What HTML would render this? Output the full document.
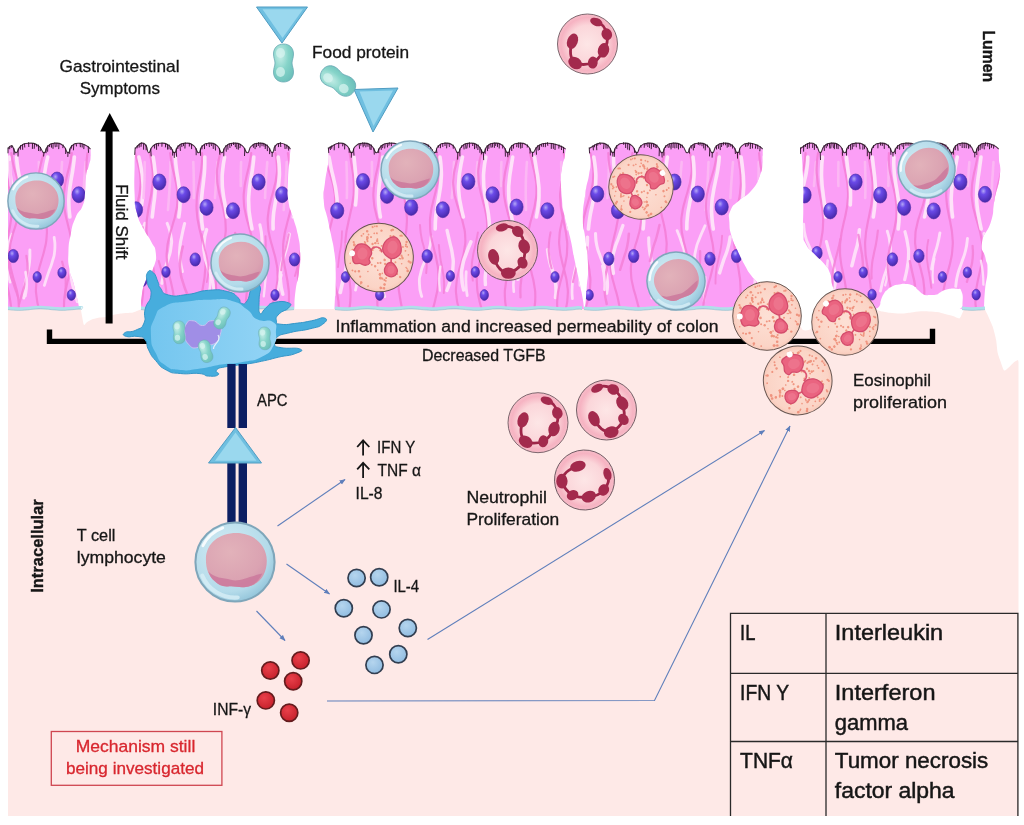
<!DOCTYPE html>
<html><head><meta charset="utf-8"><title>FPIES mechanism diagram</title>
<style>
html,body{margin:0;padding:0;background:#fff;}
body{width:1024px;height:825px;overflow:hidden;font-family:"Liberation Sans",sans-serif;}
svg{display:block;font-family:"Liberation Sans",sans-serif;will-change:transform;-webkit-font-smoothing:antialiased;}
</style></head><body>
<svg width="1024" height="825" viewBox="0 0 1024 825">
<defs><filter id="soft" x="0" y="0" width="100%" height="100%" filterUnits="userSpaceOnUse"><feGaussianBlur stdDeviation="0.6"/></filter>
<radialGradient id="gNuc" cx="38%" cy="30%" r="75%">
 <stop offset="0" stop-color="#b3a6f7"/><stop offset="0.3" stop-color="#6b4ae8"/><stop offset="1" stop-color="#4526a6"/>
</radialGradient>
<radialGradient id="gLy" cx="40%" cy="35%" r="70%">
 <stop offset="0" stop-color="#d3ecf4"/><stop offset="0.75" stop-color="#b4dbea"/><stop offset="1" stop-color="#8fc2d8"/>
</radialGradient>
<radialGradient id="gLyN" cx="40%" cy="35%" r="75%">
 <stop offset="0" stop-color="#e2b2ba"/><stop offset="0.7" stop-color="#dba3b2"/><stop offset="1" stop-color="#d293ab"/>
</radialGradient>
<radialGradient id="gEo" cx="50%" cy="50%" r="55%">
 <stop offset="0" stop-color="#fde0d5"/><stop offset="0.8" stop-color="#fbd4c6"/><stop offset="1" stop-color="#f6c1b0"/>
</radialGradient>
<radialGradient id="gNe" cx="50%" cy="50%" r="52%">
 <stop offset="0" stop-color="#fde6e6"/><stop offset="0.6" stop-color="#fbd6da"/><stop offset="0.85" stop-color="#f6b3c2"/><stop offset="1" stop-color="#f7bfca"/>
</radialGradient>
<radialGradient id="gTeal" cx="35%" cy="30%" r="80%">
 <stop offset="0" stop-color="#c9efe9"/><stop offset="0.5" stop-color="#86d4c9"/><stop offset="1" stop-color="#6bbfba"/>
</radialGradient>
<radialGradient id="gBlueDot" cx="40%" cy="35%" r="70%">
 <stop offset="0" stop-color="#b5d5ee"/><stop offset="1" stop-color="#8fbbe0"/>
</radialGradient>
<radialGradient id="gRedDot" cx="40%" cy="35%" r="70%">
 <stop offset="0" stop-color="#e8404a"/><stop offset="1" stop-color="#c51f2a"/>
</radialGradient>
<linearGradient id="gApc" x1="0" y1="0" x2="1" y2="0"><stop offset="0" stop-color="#74c6ef"/><stop offset="1" stop-color="#93d4f5"/></linearGradient>
<linearGradient id="gTri" x1="0" y1="0" x2="0" y2="1">
 <stop offset="0" stop-color="#a6dcef"/><stop offset="1" stop-color="#7fcbe6"/>
</linearGradient>

<g id="ly">
 <circle r="29" fill="url(#gLy)" stroke="#7fa6ba" stroke-width="1.5"/>
 <path d="M-21.3,-2 C-21.3,-14 -11,-21.2 1,-21.2 C13,-21.2 23.3,-13 23.3,-1 C23.3,9 18,17 8,18.3 C3,19 0,17.5 -4,17.8 C-9,18.5 -12,17 -15,14 C-19.5,10 -21.3,5 -21.3,-2Z" fill="url(#gLyN)"/>
 <path d="M-19.5,7 C-15,12 -9,11.5 -3,13 C3,14.8 9,11 20,8.5 C17.5,14.5 13,17.5 8,18.3 C3,19 0,17.5 -4,17.8 C-9,18.5 -12,17 -15,14 C-17.5,12 -18.8,9.5 -19.5,7Z" fill="#cc7b9d" opacity="0.9"/>
 <path d="M-23.5,-12 A26.5,26.5 0 0 1 -9,-25" fill="none" stroke="#ffffff" stroke-width="2.2" stroke-linecap="round" opacity="0.85"/>
 <path d="M-24,10 A26,26 0 0 0 2,26" fill="none" stroke="#d8eff6" stroke-width="3" stroke-linecap="round" opacity="0.8"/>
</g>

<g id="eo">
 <circle r="34.3" fill="url(#gEo)" stroke="#665550" stroke-width="1"/>
 <g fill="#ee8a74" opacity="0.85"><circle cx="-23.1" cy="7.1" r="1.3"/><circle cx="-22.5" cy="4.9" r="1.1"/><circle cx="9.2" cy="21.2" r="1.1"/><circle cx="2.9" cy="-10.3" r="1.0"/><circle cx="24.3" cy="15.6" r="1.2"/><circle cx="30.6" cy="8.3" r="1.3"/><circle cx="-14.3" cy="-20.8" r="0.9"/><circle cx="23.4" cy="2.2" r="0.8"/><circle cx="6.0" cy="15.1" r="0.8"/><circle cx="-21.0" cy="4.8" r="1.3"/><circle cx="-25.6" cy="-3.1" r="1.1"/><circle cx="-11.4" cy="-18.7" r="1.0"/><circle cx="31.9" cy="-0.5" r="1.3"/><circle cx="-4.8" cy="-17.7" r="0.9"/><circle cx="-2.3" cy="9.3" r="1.2"/><circle cx="-23.9" cy="17.3" r="1.0"/><circle cx="28.5" cy="-7.7" r="0.8"/><circle cx="7.7" cy="29.6" r="1.1"/><circle cx="20.3" cy="-2.5" r="0.8"/><circle cx="-19.5" cy="-20.6" r="0.9"/><circle cx="16.1" cy="9.8" r="1.3"/><circle cx="0.6" cy="-11.8" r="0.9"/><circle cx="7.2" cy="5.3" r="1.2"/><circle cx="10.6" cy="21.7" r="1.0"/><circle cx="10.0" cy="25.6" r="0.9"/><circle cx="-7.3" cy="-9.2" r="1.0"/><circle cx="3.9" cy="16.6" r="1.3"/><circle cx="5.9" cy="-17.0" r="1.3"/><circle cx="5.0" cy="19.8" r="1.3"/><circle cx="-6.9" cy="-8.6" r="1.3"/><circle cx="3.8" cy="16.3" r="1.2"/><circle cx="-8.5" cy="15.7" r="0.8"/><circle cx="20.8" cy="13.2" r="0.9"/><circle cx="-16.0" cy="-11.8" r="1.0"/><circle cx="21.8" cy="-5.7" r="1.1"/><circle cx="9.5" cy="-10.6" r="0.9"/><circle cx="24.3" cy="-15.8" r="0.9"/><circle cx="10.2" cy="25.7" r="1.3"/><circle cx="10.3" cy="29.5" r="1.3"/><circle cx="-16.8" cy="-12.8" r="0.9"/><circle cx="30.5" cy="7.6" r="0.9"/><circle cx="-4.7" cy="-16.0" r="1.3"/><circle cx="-14.6" cy="-10.1" r="0.9"/><circle cx="-1.8" cy="-9.3" r="0.9"/><circle cx="-27.6" cy="-10.8" r="1.1"/><circle cx="-5.8" cy="30.1" r="0.9"/><circle cx="17.0" cy="1.8" r="1.0"/><circle cx="13.0" cy="5.2" r="1.0"/><circle cx="-11.1" cy="-5.4" r="1.0"/><circle cx="24.5" cy="-20.1" r="1.2"/><circle cx="-8.9" cy="-23.0" r="0.9"/><circle cx="6.0" cy="1.4" r="1.3"/><circle cx="-9.5" cy="-29.9" r="0.8"/><circle cx="-14.7" cy="-17.0" r="1.2"/><circle cx="-13.4" cy="29.0" r="0.8"/><circle cx="-26.4" cy="-7.9" r="1.3"/><circle cx="-2.2" cy="-26.9" r="1.2"/><circle cx="16.6" cy="-9.8" r="1.2"/><circle cx="24.3" cy="-17.5" r="1.0"/><circle cx="7.5" cy="-28.8" r="1.1"/><circle cx="-14.2" cy="-14.2" r="1.1"/><circle cx="-7.8" cy="-6.3" r="1.2"/><circle cx="30.0" cy="-1.3" r="1.2"/><circle cx="-21.0" cy="17.8" r="1.1"/><circle cx="-27.3" cy="10.7" r="0.8"/><circle cx="0.0" cy="-7.1" r="1.1"/><circle cx="-15.7" cy="1.9" r="1.2"/><circle cx="-25.2" cy="0.4" r="1.3"/><circle cx="-0.2" cy="5.6" r="1.0"/><circle cx="-6.5" cy="-13.5" r="0.9"/><circle cx="21.7" cy="-14.6" r="1.0"/><circle cx="14.5" cy="-11.7" r="1.2"/><circle cx="6.8" cy="20.2" r="1.2"/><circle cx="25.8" cy="-15.4" r="1.0"/><circle cx="-15.9" cy="-9.2" r="0.9"/><circle cx="-29.3" cy="0.7" r="1.3"/><circle cx="-7.5" cy="-30.3" r="1.0"/><circle cx="10.6" cy="19.0" r="1.0"/><circle cx="4.7" cy="20.3" r="1.1"/><circle cx="-18.3" cy="0.7" r="1.3"/><circle cx="21.6" cy="-2.5" r="0.8"/><circle cx="29.4" cy="5.9" r="0.8"/><circle cx="-6.3" cy="-23.5" r="1.0"/><circle cx="1.6" cy="-6.1" r="0.9"/><circle cx="-6.5" cy="1.9" r="1.3"/><circle cx="1.0" cy="12.7" r="0.8"/><circle cx="-14.9" cy="-15.7" r="1.1"/><circle cx="-16.2" cy="-23.8" r="1.3"/><circle cx="-5.9" cy="-13.6" r="1.1"/><circle cx="2.4" cy="5.0" r="1.1"/><circle cx="-3.2" cy="-13.8" r="0.9"/><circle cx="-15.2" cy="22.1" r="1.1"/><circle cx="-21.0" cy="-18.4" r="1.0"/><circle cx="7.9" cy="-29.4" r="0.8"/><circle cx="24.9" cy="-11.2" r="0.9"/><circle cx="-24.4" cy="7.3" r="1.3"/><circle cx="-17.4" cy="17.0" r="1.3"/><circle cx="9.0" cy="-29.8" r="1.1"/><circle cx="-8.7" cy="-12.2" r="1.2"/><circle cx="10.7" cy="-23.4" r="1.2"/><circle cx="6.9" cy="29.6" r="1.3"/><circle cx="23.4" cy="-3.4" r="1.2"/><circle cx="-13.1" cy="27.6" r="1.3"/><circle cx="-5.9" cy="8.3" r="1.0"/><circle cx="-26.7" cy="-8.7" r="1.1"/><circle cx="28.4" cy="5.1" r="0.8"/><circle cx="4.3" cy="-13.2" r="1.0"/><circle cx="3.0" cy="-12.3" r="0.9"/><circle cx="-27.2" cy="-2.8" r="1.3"/><circle cx="-11.6" cy="-28.9" r="1.1"/><circle cx="9.8" cy="-3.2" r="0.9"/><circle cx="-17.4" cy="-2.9" r="1.2"/><circle cx="-15.0" cy="-17.9" r="1.3"/><circle cx="-17.0" cy="-6.7" r="1.0"/><circle cx="17.1" cy="-25.1" r="0.9"/><circle cx="18.6" cy="-25.4" r="1.1"/><circle cx="-13.4" cy="-6.6" r="1.1"/><circle cx="-25.1" cy="-0.5" r="0.8"/><circle cx="22.8" cy="-4.4" r="1.0"/><circle cx="7.6" cy="-23.0" r="1.1"/></g>
 <path d="M-10,-4 C-8,-11 -1,-12 2,-6 M12,-2 L13,4" fill="none" stroke="#dd5572" stroke-width="1.7"/>
 <g fill="#ea6480" stroke="#d44d6c" stroke-width="1.3" stroke-linejoin="round">
  <path d="M-26.0,-3.0 C-25.4,-5.6 -24.6,-7.6 -23.0,-9.0 C-21.4,-10.4 -19.2,-10.7 -17.0,-10.5 C-14.8,-10.3 -12.7,-9.4 -11.0,-8.0 C-9.3,-6.6 -8.3,-5.0 -8.0,-3.0 C-7.7,-1.0 -9.5,1.2 -9.5,3.0 C-9.5,4.8 -7.5,5.7 -8.0,7.0 C-8.5,8.3 -10.2,9.6 -12.0,10.0 C-13.8,10.4 -16.0,9.2 -18.0,9.2 C-20.0,9.2 -21.5,10.8 -23.0,10.0 C-24.5,9.2 -25.4,7.4 -26.0,5.0 C-26.6,2.6 -26.6,-0.4 -26.0,-3.0Z"/>
  <path d="M2.0,-10.0 C1.9,-11.8 2.1,-14.0 3.0,-16.0 C3.9,-18.0 5.3,-19.7 7.0,-21.0 C8.7,-22.3 10.2,-23.2 12.0,-23.0 C13.8,-22.8 15.5,-21.6 17.0,-20.0 C18.5,-18.4 19.4,-16.2 20.0,-14.0 C20.6,-11.8 21.1,-10.0 20.5,-8.0 C19.9,-6.0 18.6,-4.3 17.0,-3.0 C15.4,-1.7 13.8,-1.0 12.0,-1.0 C10.2,-1.0 8.6,-2.1 7.0,-3.0 C5.4,-3.9 4.4,-4.7 3.5,-6.0 C2.6,-7.3 2.1,-8.2 2.0,-10.0Z"/>
  <path d="M8.0,8.0 C8.5,6.7 8.9,4.9 10.0,4.0 C11.1,3.1 12.5,2.6 14.0,3.0 C15.5,3.4 16.8,4.7 18.0,6.0 C19.2,7.3 20.3,8.3 20.5,10.0 C20.7,11.7 20.2,13.7 19.0,15.0 C17.8,16.3 15.8,17.0 14.0,17.0 C12.2,17.0 10.2,16.1 9.0,15.0 C7.8,13.9 7.7,12.3 7.5,11.0 C7.3,9.7 7.5,9.3 8.0,8.0Z"/>
 </g>
 <g fill="#ef7a92" opacity="0.7">
  <ellipse cx="-17" cy="-1" rx="5" ry="6"/><ellipse cx="11.5" cy="-12.5" rx="5" ry="6.5"/><ellipse cx="14" cy="10" rx="3.5" ry="4"/>
 </g>
 <circle cx="-27.3" cy="0.5" r="3" fill="#fff"/>
</g>

<g id="ne">
 <circle r="30" fill="url(#gNe)" stroke="#6e5a62" stroke-width="0.9"/>
 <path d="M8.8,-22 C14,-21 18,-16 19.5,-9.7 C21,-3 19,2 16.2,6.5 C13,12 9,17 5.3,18.8 C-1,21 -7,21 -12.3,19 C-18,14 -18,6 -15,-2.7" fill="none" stroke="#9e2548" stroke-width="2.8" stroke-linecap="round"/>
 <g fill="#a32a4d">
  <ellipse cx="8.8" cy="-22" rx="6.4" ry="3.9" transform="rotate(20 8.8 -22)"/>
  <ellipse cx="19.3" cy="-9.7" rx="5.2" ry="6" transform="rotate(-20 19.3 -9.7)"/>
  <ellipse cx="16" cy="6.3" rx="5.6" ry="7.4" transform="rotate(15 16 6.3)"/>
  <ellipse cx="5.3" cy="18.6" rx="4.9" ry="6" transform="rotate(10 5.3 18.6)"/>
  <ellipse cx="-12.3" cy="19" rx="7.4" ry="5.7" transform="rotate(35 -12.3 19)"/>
  <ellipse cx="-15" cy="-2.7" rx="5.3" ry="8" transform="rotate(20 -15 -2.7)"/>
 </g>
</g>

<g id="pn">
 <path d="M0,-19 C6,-19 10,-15 10,-9 C10,-5 8.5,-3 8.5,0 C8.5,3 10,5 10,9 C10,15 6,19 0,19 C-6,19 -10,15 -10,9 C-10,5 -8.5,3 -8.5,0 C-8.5,-3 -10,-5 -10,-9 C-10,-15 -6,-19 0,-19Z" fill="url(#gTeal)" stroke="#6aa9b4" stroke-width="0.8"/>
 <ellipse cx="-3" cy="-10" rx="4.5" ry="5" fill="#d6f3ef" opacity="0.75"/>
 <ellipse cx="-3" cy="9" rx="4.5" ry="5" fill="#d6f3ef" opacity="0.75"/>
</g>
<clipPath id="epiclip"><path d="M8.0,309.0 L8.0,148.5 L8.0,148.5 C9.1,147.8 9.9,144.9 12.0,146.0 C14.1,147.1 13.7,152.7 16.0,152.8 C18.3,152.9 17.1,148.8 20.5,146.2 C23.8,143.6 23.8,143.4 28.6,143.2 C33.4,143.0 34.3,143.0 38.4,145.6 C42.5,148.2 41.5,152.6 44.0,152.8 C46.5,153.0 45.0,148.8 47.8,146.2 C50.7,143.6 50.7,143.4 54.8,143.2 C58.9,143.0 59.7,143.0 63.2,145.6 C66.7,148.2 65.8,152.6 68.0,152.8 C70.2,153.0 68.9,148.8 71.6,146.2 C74.3,143.6 74.3,143.4 78.1,143.2 C82.0,143.0 82.7,144.1 86.0,145.6 C89.3,147.1 89.3,148.1 90.5,149.0 L90.8,158.6 C90.1,161.1 89.9,162.1 88.5,167.0 C87.1,171.9 87.2,166.9 86.1,175.0 C85.0,183.1 86.0,184.7 84.9,194.0 C83.8,203.3 85.3,198.9 82.5,206.0 C79.7,213.1 79.0,209.2 75.5,217.7 C72.0,226.2 72.8,223.7 70.7,234.3 C68.6,244.9 68.8,242.4 68.4,253.0 C68.0,263.6 68.1,261.1 69.5,269.7 C70.9,278.3 71.0,273.8 73.1,281.6 C75.2,289.4 74.7,287.6 76.6,295.8 C78.5,304.0 78.6,305.0 79.5,309.0Z"/><path d="M141.7,309.0 C141.7,305.0 140.3,304.8 141.7,295.8 C143.1,286.8 142.9,287.5 146.4,279.0 C149.9,270.5 150.7,275.2 153.5,267.4 C156.3,259.6 156.5,260.8 155.8,253.0 C155.1,245.2 154.6,248.4 151.1,241.4 C147.6,234.4 148.3,238.1 144.0,229.6 C139.7,221.1 139.7,223.7 136.9,213.0 C134.1,202.3 135.3,208.2 134.6,194.0 C133.9,179.8 134.5,177.7 134.6,165.7 C134.7,153.7 134.9,157.5 135.0,154.0 L135.2,148.5 C135.8,147.9 135.7,147.6 137.4,146.2 C139.0,144.8 139.0,143.4 141.3,143.2 C143.6,143.0 144.0,143.0 146.0,145.6 C148.0,148.2 146.9,152.6 148.7,152.8 C150.5,153.0 149.7,148.8 152.8,146.2 C155.9,143.6 155.9,143.4 160.2,143.2 C164.6,143.0 165.4,143.0 169.2,145.6 C172.9,148.2 171.9,152.6 174.3,152.8 C176.7,153.0 175.3,148.8 178.2,146.2 C181.1,143.6 181.1,143.4 185.2,143.2 C189.3,143.0 190.1,143.0 193.7,145.6 C197.2,148.2 196.2,152.6 198.5,152.8 C200.8,153.0 199.4,148.8 202.2,146.2 C205.0,143.6 205.0,143.4 209.0,143.2 C213.0,143.0 213.7,143.0 217.1,145.6 C220.6,148.2 219.5,152.6 221.8,152.8 C224.1,153.0 222.8,148.8 225.9,146.2 C228.9,143.6 228.9,143.4 233.3,143.2 C237.6,143.0 238.5,143.0 242.2,145.6 C245.9,148.2 244.9,152.6 247.3,152.8 C249.7,153.0 248.3,148.8 251.3,146.2 C254.3,143.6 254.3,143.4 258.5,143.2 C262.8,143.0 263.6,143.0 267.2,145.6 C270.9,148.2 270.1,152.6 272.2,152.8 C274.3,153.0 272.9,148.8 275.1,146.2 C277.3,143.6 277.3,143.4 280.4,143.2 C283.6,143.0 284.2,144.1 286.8,145.6 C289.5,147.1 289.5,148.1 290.5,149.0 L289.6,158.6 C289.1,165.7 288.3,169.5 287.9,182.3 C287.5,195.1 286.8,190.6 288.4,201.2 C290.0,211.8 290.3,207.8 293.1,217.7 C295.9,227.6 295.7,223.7 297.8,234.3 C299.9,245.0 299.8,241.9 300.2,253.2 C300.6,264.5 300.4,260.7 299.0,272.0 C297.6,283.3 296.9,279.9 295.5,291.0 C294.1,302.1 294.7,303.6 294.3,309.0Z"/><path d="M334.5,309.0 C334.7,303.6 334.8,302.1 335.2,291.0 C335.6,279.9 335.9,283.3 335.7,272.0 C335.5,260.7 335.9,264.5 334.5,253.2 C333.1,241.9 333.0,245.0 330.9,234.3 C328.8,223.7 329.5,227.6 327.4,217.7 C325.3,207.8 324.5,211.8 323.8,201.2 C323.1,190.6 323.7,193.6 325.0,182.3 C326.3,171.0 327.1,172.2 328.1,163.4 C329.2,154.6 328.4,156.1 328.5,153.0 L328.3,148.5 C329.3,147.9 329.2,147.6 332.0,146.2 C334.8,144.8 334.8,143.4 338.7,143.2 C342.7,143.0 343.5,143.0 346.9,145.6 C350.3,148.2 349.2,152.6 351.5,152.8 C353.8,153.0 352.5,148.8 355.5,146.2 C358.5,143.6 358.5,143.4 362.7,143.2 C367.0,143.0 367.8,143.0 371.4,145.6 C375.1,148.2 373.9,152.6 376.4,152.8 C378.9,153.0 377.5,148.8 381.0,146.2 C384.4,143.6 384.4,143.4 389.3,143.2 C394.2,143.0 395.1,143.0 399.3,145.6 C403.5,148.2 402.2,152.6 405.0,152.8 C407.8,153.0 406.2,148.8 409.7,146.2 C413.3,143.6 413.2,143.4 418.3,143.2 C423.3,143.0 424.3,143.0 428.6,145.6 C432.9,148.2 431.9,152.6 434.5,152.8 C437.1,153.0 435.4,148.8 438.2,146.2 C441.0,143.6 441.0,143.4 445.0,143.2 C449.0,143.0 449.7,143.0 453.1,145.6 C456.6,148.2 455.5,152.6 457.8,152.8 C460.1,153.0 458.8,148.8 461.9,146.2 C464.9,143.6 464.9,143.4 469.3,143.2 C473.6,143.0 474.5,143.0 478.2,145.6 C481.9,148.2 480.9,152.6 483.3,152.8 C485.7,153.0 484.3,148.8 487.2,146.2 C490.1,143.6 490.1,143.4 494.2,143.2 C498.4,143.0 499.2,143.0 502.7,145.6 C506.3,148.2 505.2,152.6 507.6,152.8 C510.0,153.0 508.6,148.8 511.6,146.2 C514.6,143.6 514.6,143.4 518.8,143.2 C523.1,143.0 523.9,143.0 527.5,145.6 C531.2,148.2 529.8,152.6 532.5,152.8 C535.2,153.0 533.8,148.8 537.8,146.2 C541.8,143.6 541.8,143.4 547.4,143.2 C553.1,143.0 554.2,144.1 559.1,145.6 C563.9,147.1 563.9,148.1 565.7,149.0 L564.5,158.0 C563.8,161.0 563.0,161.1 562.0,168.0 C561.0,174.9 561.0,171.4 561.0,181.0 C561.0,190.6 561.1,190.1 562.0,200.0 C562.9,209.9 561.6,202.9 564.0,214.0 C566.4,225.1 566.7,222.6 570.0,237.0 C573.3,251.4 571.5,245.3 575.0,262.0 C578.5,278.6 578.9,278.4 581.6,292.5 C584.3,306.6 583.3,304.1 584.0,309.0Z"/><path d="M585.0,309.0 C585.5,302.5 585.8,300.7 586.7,287.4 C587.6,274.1 588.4,279.1 588.0,264.6 C587.6,250.1 586.9,252.7 585.4,239.0 C583.9,225.3 582.9,232.7 582.9,219.0 C582.9,205.3 583.6,206.7 585.4,193.5 C587.2,180.3 587.5,184.2 589.0,175.0 C590.5,165.8 590.4,169.6 590.5,163.0 C590.6,156.4 589.8,156.0 589.5,153.0 L589.2,148.5 C590.2,147.9 590.1,147.6 593.0,146.2 C595.8,144.8 595.8,143.4 599.8,143.2 C603.8,143.0 604.6,143.0 608.1,145.6 C611.5,148.2 610.5,152.6 612.8,152.8 C615.1,153.0 613.8,148.8 616.6,146.2 C619.5,143.6 619.5,143.4 623.6,143.2 C627.6,143.0 628.4,143.0 631.9,145.6 C635.4,148.2 634.4,152.6 636.7,152.8 C639.0,153.0 637.7,148.8 640.7,146.2 C643.8,143.6 643.7,143.4 648.0,143.2 C652.3,143.0 653.2,143.0 656.9,145.6 C660.6,148.2 659.5,152.6 661.9,152.8 C664.3,153.0 662.9,148.8 665.9,146.2 C669.0,143.6 668.9,143.4 673.2,143.2 C677.5,143.0 678.4,143.0 682.1,145.6 C685.8,148.2 684.7,152.6 687.1,152.8 C689.5,153.0 688.1,148.8 691.1,146.2 C694.2,143.6 694.1,143.4 698.4,143.2 C702.7,143.0 703.6,143.0 707.3,145.6 C711.0,148.2 709.9,152.6 712.3,152.8 C714.7,153.0 713.3,148.8 716.3,146.2 C719.4,143.6 719.3,143.4 723.6,143.2 C727.9,143.0 728.8,143.0 732.5,145.6 C736.2,148.2 735.1,152.6 737.5,152.8 C739.9,153.0 738.5,148.8 741.5,146.2 C744.6,143.6 744.5,143.4 748.8,143.2 C753.1,143.0 754.0,144.1 757.7,145.6 C761.4,147.1 761.4,148.1 762.7,149.0 L762.8,161.7 C761.9,166.0 763.2,167.5 759.7,176.2 C756.2,184.9 757.4,183.5 751.2,190.8 C745.0,198.1 745.3,194.7 739.1,200.5 C732.9,206.3 733.5,203.7 730.6,210.2 C727.7,216.7 729.0,214.3 729.4,222.3 C729.8,230.3 729.2,228.1 731.8,236.8 C734.3,245.5 733.9,242.7 737.9,251.4 C741.9,260.1 741.2,258.6 745.2,265.9 C749.2,273.2 747.6,270.5 751.2,275.6 C754.8,280.7 753.2,276.8 757.3,282.9 C761.4,289.0 760.9,288.2 765.0,296.0 C769.1,303.8 769.2,305.1 771.0,309.0Z"/><path d="M850.0,309.0 C847.6,306.0 846.2,303.9 842.0,299.0 C837.8,294.1 839.0,296.7 836.1,292.6 C833.2,288.5 834.2,291.1 832.4,285.3 C830.6,279.5 832.5,279.7 830.0,273.2 C827.5,266.7 828.6,269.3 823.9,263.5 C819.2,257.7 819.6,259.6 814.2,253.8 C808.8,248.0 809.1,250.6 805.8,244.1 C802.5,237.6 804.0,242.9 803.3,232.0 C802.5,221.1 803.3,222.2 803.3,207.7 C803.3,193.1 803.7,198.1 803.3,183.5 C802.9,168.9 802.7,168.6 802.1,159.2 C801.5,149.8 801.5,154.2 801.2,152.0 L800.5,148.5 C801.3,147.9 801.3,147.6 803.7,146.2 C806.0,144.8 806.0,143.4 809.4,143.2 C812.7,143.0 813.4,143.0 816.3,145.6 C819.1,148.2 818.1,152.6 820.2,152.8 C822.3,153.0 821.2,148.8 824.1,146.2 C827.0,143.6 827.0,143.4 831.2,143.2 C835.3,143.0 836.1,143.0 839.7,145.6 C843.3,148.2 842.2,152.6 844.6,152.8 C847.0,153.0 845.6,148.8 848.6,146.2 C851.7,143.6 851.6,143.4 855.9,143.2 C860.2,143.0 861.1,143.0 864.8,145.6 C868.5,148.2 867.5,152.6 869.8,152.8 C872.1,153.0 870.7,148.8 873.5,146.2 C876.3,143.6 876.3,143.4 880.2,143.2 C884.1,143.0 884.9,143.0 888.3,145.6 C891.7,148.2 890.4,152.6 892.9,152.8 C895.4,153.0 894.1,148.8 897.6,146.2 C901.0,143.6 901.0,143.4 906.0,143.2 C911.0,143.0 911.9,143.0 916.2,145.6 C920.4,148.2 919.2,152.6 922.0,152.8 C924.8,153.0 923.2,148.8 926.8,146.2 C930.3,143.6 930.3,143.4 935.4,143.2 C940.4,143.0 941.4,143.0 945.8,145.6 C950.1,148.2 949.1,152.6 951.7,152.8 C954.3,153.0 952.6,148.8 955.4,146.2 C958.2,143.6 958.2,143.4 962.1,143.2 C966.0,143.0 966.8,143.0 970.2,145.6 C973.6,148.2 972.5,152.6 974.8,152.8 C977.1,153.0 975.8,148.8 978.6,146.2 C981.5,143.6 981.5,143.4 985.6,143.2 C989.6,143.0 990.4,144.1 993.9,145.6 C997.4,147.1 997.4,148.1 998.7,149.0 L999.0,160.0 C999.2,164.8 1001.1,164.0 999.8,176.0 C998.4,188.0 997.1,186.3 994.5,200.0 C991.9,213.7 994.8,208.8 991.0,221.5 C987.2,234.2 983.6,231.6 982.0,242.5 C980.4,253.4 983.9,249.6 985.5,258.0 C987.1,266.4 987.6,260.9 987.5,270.5 C987.4,280.1 986.0,278.4 985.0,290.0 C984.0,301.6 984.3,303.3 984.0,309.0 C977.5,309.0 969.0,310.3 962.5,309.0 C956.0,307.7 962.7,309.9 962.5,304.8 C962.3,299.7 963.7,296.8 961.7,292.0 C959.8,287.2 960.6,289.5 956.0,288.8 C951.4,288.1 951.3,288.5 946.5,289.6 C941.7,290.7 942.9,291.1 940.0,292.5 C937.1,293.9 939.9,293.6 936.9,294.4 C933.9,295.1 933.9,295.0 930.0,295.0 C926.1,295.0 927.6,295.9 924.0,294.4 C920.4,292.9 920.9,292.4 918.0,290.0 C915.1,287.6 918.0,288.2 914.5,286.4 C911.0,284.6 911.0,284.6 906.4,284.0 C901.8,283.4 903.3,283.8 899.0,284.5 C894.7,285.2 895.6,284.8 892.0,286.4 C888.4,288.0 889.4,287.8 887.0,290.0 C884.6,292.2 885.8,290.6 884.0,293.6 C882.2,296.6 882.4,296.2 881.0,300.0 C879.6,303.8 881.3,303.7 879.2,306.4 C877.1,309.1 875.6,308.2 874.0,309.0Z"/></clipPath><marker id="ah" viewBox="0 0 10 10" refX="9" refY="5" markerWidth="5.5" markerHeight="5.5" orient="auto"><path d="M0,1 L10,5 L0,9Z" fill="#5f7fbb"/></marker></defs>
<rect width="1024" height="825" fill="#fff"/>
<rect x="8" y="309" width="1010.5" height="507" fill="#fee9e7"/>
<path d="M79.0,303.0 C79.2,303.9 80.2,306.5 80.6,308.0 C80.9,309.5 81.6,314.0 82.0,316.0 C82.4,318.0 83.4,324.1 83.9,324.9 C84.4,325.7 85.5,323.4 86.0,323.0 C86.5,322.6 87.2,322.0 88.0,321.5 C88.8,321.0 91.6,319.5 93.0,319.0 C94.4,318.5 98.1,317.6 99.7,317.4 C101.3,317.2 104.7,317.2 106.3,316.9 C107.9,316.6 111.1,315.3 113.0,314.9 C114.9,314.5 120.7,313.5 123.0,313.2 C125.3,312.9 131.0,312.8 132.9,312.4 C134.8,312.0 138.0,310.5 139.5,309.9 C141.0,309.3 145.2,308.2 146.0,307.0 C146.8,305.8 153.8,300.8 146.0,300.0 C138.2,299.2 86.8,299.6 79.0,300.0 C71.2,300.4 78.8,302.1 79.0,303.0Z" fill="#fff"/>
<path d="M755.0,305.0 C756.2,305.6 793.4,305.0 800.0,305.0 C806.6,305.0 810.4,303.5 812.0,305.0 C813.6,306.5 814.1,315.2 814.0,318.0 C813.9,320.8 812.3,327.6 811.0,329.0 C809.7,330.4 804.4,330.8 803.0,330.0 C801.6,329.2 800.5,325.5 799.0,322.0 C797.5,318.5 795.1,302.0 790.0,300.0 C784.9,298.0 753.8,304.4 755.0,305.0Z" fill="#fff"/>
<path d="M983.0,303.0 C978.9,304.1 984.3,308.1 984.9,309.6 C985.5,311.1 987.2,313.9 988.1,316.0 C989.0,318.1 992.0,324.5 992.9,327.3 C993.8,330.1 995.5,337.0 996.1,340.0 C996.7,343.0 997.1,350.3 997.7,352.9 C998.3,355.5 1000.2,360.4 1000.9,362.5 C1001.6,364.6 1003.2,369.9 1004.1,370.5 C1005.0,371.1 1007.9,368.2 1009.0,367.3 C1010.1,366.4 1012.7,363.3 1013.7,362.5 C1014.7,361.7 1017.0,360.5 1017.7,360.1 C1018.4,359.7 1019.7,366.0 1020.0,359.0 C1020.3,352.0 1024.3,306.5 1020.0,300.0 C1015.7,293.5 987.1,301.9 983.0,303.0Z" fill="#fff"/>
<path d="M872.0,300.0 C872.5,301.6 875.0,307.7 876.0,309.0 C877.0,310.3 879.2,310.8 880.8,311.2 C882.4,311.6 887.8,312.5 890.0,312.8 C892.2,313.1 897.5,313.6 900.0,313.6 C902.5,313.6 908.6,312.7 911.0,312.4 C913.4,312.1 917.9,311.2 920.9,311.2 C923.9,311.2 934.1,311.7 936.9,312.0 C939.7,312.3 943.1,313.5 945.0,314.0 C946.9,314.5 951.2,315.5 952.9,316.0 C954.6,316.5 958.3,318.6 959.3,318.4 C960.3,318.2 961.2,315.6 961.7,314.5 C962.2,313.4 963.5,310.7 964.0,309.0 C964.5,307.3 965.8,301.6 966.0,300.0 C966.2,298.4 977.0,295.6 966.0,295.0 C955.0,294.4 883.0,294.4 872.0,295.0 C861.0,295.6 871.5,298.4 872.0,300.0Z" fill="#fff"/>
<g clip-path="url(#epiclip)"><rect x="0" y="135" width="1024" height="180" fill="#fb9ff6"/><g filter="url(#soft)"><path d="M-19.2,153.0 C-19.2,157.0 -19.7,157.0 -19.2,165.0 C-18.7,173.0 -19.0,169.0 -17.7,177.0 C-16.4,185.0 -16.8,181.0 -15.4,189.0 C-13.9,197.0 -14.3,193.0 -13.3,201.0 C-12.3,209.0 -12.4,205.0 -12.4,213.0 C-12.3,221.0 -12.2,217.0 -13.1,225.0 C-14.0,233.0 -13.7,229.0 -15.1,237.0 C-16.5,245.0 -16.1,241.0 -17.4,249.0 C-18.7,257.0 -18.4,253.0 -18.9,261.0 C-19.4,269.0 -19.4,265.0 -18.9,273.0 C-18.4,281.0 -18.6,277.0 -17.3,285.0 C-16.0,293.0 -16.5,289.0 -15.0,297.0 C-13.5,305.0 -13.6,305.0 -12.9,309.0" fill="none" stroke="#f480d8" stroke-width="2.2" stroke-linecap="round" opacity="0.9"/><path d="M-14.4,157.0 C-14.4,161.0 -14.8,161.0 -14.4,169.0 C-14.1,177.0 -14.3,173.0 -13.4,181.0 C-12.5,189.0 -12.8,185.0 -11.7,193.0 C-10.7,201.0 -10.9,197.0 -10.2,205.0 C-9.5,213.0 -9.8,213.0 -9.6,217.0" fill="none" stroke="#fee2f9" stroke-width="3.6" stroke-linecap="round" opacity="1"/><path d="M2.0,162.0 C2.1,166.0 2.1,166.0 2.3,174.0 C2.5,182.0 2.5,178.0 2.7,186.0 C3.0,194.0 2.9,190.0 3.1,198.0 C3.2,206.0 3.2,206.0 3.2,210.0" fill="none" stroke="#fcb9f4" stroke-width="2.6" stroke-linecap="round" opacity="0.9"/><path d="M3.0,229.5 C2.2,233.5 2.0,233.5 0.6,241.5 C-0.8,249.5 -0.6,245.5 -1.2,253.5 C-1.7,261.5 -1.9,257.5 -1.0,265.5 C-0.1,273.5 0.6,273.5 1.4,277.5" fill="none" stroke="#fee2f9" stroke-width="3.5" stroke-linecap="round" opacity="0.95"/><path d="M-7.2,236.7 C-6.4,240.7 -6.3,240.7 -4.9,248.7 C-3.4,256.7 -3.5,252.7 -2.7,260.7 C-2.0,268.7 -2.6,268.7 -2.6,272.7" fill="none" stroke="#f480d8" stroke-width="2.4" stroke-linecap="round" opacity="0.85"/><path d="M-7.8,260.7 C-8.3,264.7 -8.2,264.7 -9.3,272.7 C-10.4,280.7 -10.5,280.7 -11.1,284.7" fill="none" stroke="#fee2f9" stroke-width="2.1" stroke-linecap="round" opacity="0.9"/><path d="M4.5,153.0 C4.7,157.0 4.2,157.0 5.0,165.0 C5.9,173.0 5.5,169.0 7.0,177.0 C8.5,185.0 8.0,181.0 9.4,189.0 C10.8,197.0 10.5,193.0 11.2,201.0 C11.9,209.0 11.8,205.0 11.5,213.0 C11.1,221.0 11.4,217.0 10.2,225.0 C8.9,233.0 9.3,229.0 7.8,237.0 C6.3,245.0 6.7,241.0 5.6,249.0 C4.5,257.0 4.7,253.0 4.6,261.0 C4.4,269.0 4.3,265.0 5.2,273.0 C6.0,281.0 5.7,277.0 7.1,285.0 C8.6,293.0 8.2,289.0 9.6,297.0 C11.0,305.0 10.7,305.0 11.3,309.0" fill="none" stroke="#f480d8" stroke-width="2.2" stroke-linecap="round" opacity="0.9"/><path d="M9.3,157.0 C9.5,161.0 9.1,161.0 9.7,169.0 C10.3,177.0 10.1,173.0 11.1,181.0 C12.1,189.0 11.8,185.0 12.8,193.0 C13.8,201.0 13.6,201.0 14.1,205.0" fill="none" stroke="#fee2f9" stroke-width="3.6" stroke-linecap="round" opacity="1"/><path d="M10.2,162.0 C10.3,166.0 10.3,166.0 10.5,174.0 C10.6,182.0 10.7,182.0 10.7,186.0" fill="none" stroke="#fcb9f4" stroke-width="2.6" stroke-linecap="round" opacity="0.9"/><path d="M12.0,234.2 C10.7,238.2 10.0,238.2 8.2,246.2 C6.3,254.2 6.7,250.2 6.4,258.2 C6.1,266.2 6.1,262.2 7.4,270.2 C8.6,278.2 9.2,278.2 10.1,282.2" fill="none" stroke="#fee2f9" stroke-width="2.8" stroke-linecap="round" opacity="0.95"/><path d="M10.3,248.6 C9.8,252.6 8.8,252.6 8.7,260.6 C8.7,268.6 8.4,264.6 10.0,272.6 C11.6,280.6 11.0,276.6 13.7,284.6 C16.3,292.6 16.5,292.6 17.9,296.6" fill="none" stroke="#f480d8" stroke-width="2.0" stroke-linecap="round" opacity="0.85"/><path d="M11.3,153.0 C12.0,157.0 11.6,157.0 13.4,165.0 C15.2,173.0 14.7,169.0 16.7,177.0 C18.7,185.0 18.3,181.0 19.5,189.0 C20.7,197.0 20.6,193.0 20.4,201.0 C20.2,209.0 20.5,205.0 18.9,213.0 C17.3,221.0 18.0,217.0 15.7,225.0 C13.4,233.0 14.0,229.0 12.1,237.0 C10.1,245.0 10.5,241.0 9.8,249.0 C9.0,257.0 9.0,253.0 9.8,261.0 C10.5,269.0 10.1,265.0 12.0,273.0 C13.8,281.0 13.2,277.0 15.3,285.0 C17.3,293.0 16.8,289.0 18.0,297.0 C19.2,305.0 18.6,305.0 18.9,309.0" fill="none" stroke="#f480d8" stroke-width="2.2" stroke-linecap="round" opacity="0.9"/><path d="M16.5,157.0 C17.0,161.0 16.7,161.0 17.9,169.0 C19.2,177.0 18.8,173.0 20.2,181.0 C21.6,189.0 21.2,185.0 22.1,193.0 C22.9,201.0 22.5,201.0 22.7,205.0" fill="none" stroke="#fee2f9" stroke-width="3.6" stroke-linecap="round" opacity="1"/><path d="M38.8,162.0 C38.9,166.0 38.9,166.0 39.2,174.0 C39.4,182.0 39.4,178.0 39.5,186.0 C39.6,194.0 39.6,190.0 39.5,198.0 C39.4,206.0 39.3,206.0 39.1,210.0" fill="none" stroke="#fcb9f4" stroke-width="2.6" stroke-linecap="round" opacity="0.9"/><path d="M29.9,250.0 C29.7,254.0 30.3,254.0 29.5,262.0 C28.6,270.0 28.8,266.0 27.3,274.0 C25.7,282.0 25.9,278.0 24.8,286.0 C23.7,294.0 24.2,294.0 23.8,298.0" fill="none" stroke="#fee2f9" stroke-width="2.9" stroke-linecap="round" opacity="0.95"/><path d="M26.4,255.8 C26.8,259.8 27.7,259.8 27.6,267.8 C27.5,275.8 27.8,271.8 26.1,279.8 C24.4,287.8 24.9,283.8 22.6,291.8 C20.3,299.8 20.3,299.8 19.1,303.8" fill="none" stroke="#f480d8" stroke-width="2.3" stroke-linecap="round" opacity="0.85"/><path d="M25.5,272.1 C25.9,276.1 26.8,276.1 26.8,284.1 C26.7,292.1 25.9,292.1 25.4,296.1" fill="none" stroke="#fee2f9" stroke-width="2.6" stroke-linecap="round" opacity="0.9"/><path d="M43.9,153.0 C42.8,157.0 42.4,157.0 40.6,165.0 C38.9,173.0 39.3,169.0 38.8,177.0 C38.3,185.0 38.3,181.0 39.1,189.0 C40.0,197.0 39.6,193.0 41.4,201.0 C43.1,209.0 42.6,205.0 44.3,213.0 C45.9,221.0 45.6,217.0 46.4,225.0 C47.1,233.0 47.2,229.0 46.6,237.0 C46.0,245.0 46.4,241.0 44.6,249.0 C42.8,257.0 43.5,253.0 41.3,261.0 C39.1,269.0 39.7,265.0 38.0,273.0 C36.3,281.0 36.7,277.0 36.2,285.0 C35.7,293.0 35.7,289.0 36.6,297.0 C37.5,305.0 38.1,305.0 38.8,309.0" fill="none" stroke="#f480d8" stroke-width="2.2" stroke-linecap="round" opacity="0.9"/><path d="M47.7,157.0 C46.9,161.0 46.6,161.0 45.3,169.0 C44.0,177.0 44.3,173.0 43.9,181.0 C43.4,189.0 43.4,185.0 43.9,193.0 C44.4,201.0 44.9,201.0 45.3,205.0" fill="none" stroke="#fee2f9" stroke-width="3.6" stroke-linecap="round" opacity="1"/><path d="M62.0,162.0 C61.8,166.0 61.7,166.0 61.4,174.0 C61.1,182.0 61.3,182.0 61.2,186.0" fill="none" stroke="#fcb9f4" stroke-width="2.6" stroke-linecap="round" opacity="0.9"/><path d="M54.2,237.4 C54.4,241.4 55.4,241.4 54.8,249.4 C54.2,257.4 54.6,253.4 52.4,261.4 C50.2,269.4 50.9,265.4 48.2,273.4 C45.5,281.4 45.7,281.4 44.4,285.4" fill="none" stroke="#fee2f9" stroke-width="2.8" stroke-linecap="round" opacity="0.95"/><path d="M62.1,261.6 C63.0,265.6 63.6,265.6 64.8,273.6 C66.0,281.6 65.7,277.6 65.7,285.6 C65.7,293.6 65.1,293.6 64.9,297.6" fill="none" stroke="#f480d8" stroke-width="2.2" stroke-linecap="round" opacity="0.85"/><path d="M71.8,153.0 C71.0,157.0 71.3,157.0 69.6,165.0 C67.9,173.0 68.5,169.0 66.7,177.0 C65.0,185.0 65.4,181.0 64.5,189.0 C63.5,197.0 63.6,193.0 63.9,201.0 C64.1,209.0 63.9,205.0 65.2,213.0 C66.6,221.0 66.1,217.0 68.0,225.0 C69.8,233.0 69.3,229.0 70.7,237.0 C72.2,245.0 71.9,241.0 72.3,249.0 C72.6,257.0 72.7,253.0 71.8,261.0 C71.0,269.0 71.4,265.0 69.7,273.0 C68.0,281.0 68.5,277.0 66.8,285.0 C65.1,293.0 65.5,289.0 64.5,297.0 C63.6,305.0 64.2,305.0 64.0,309.0" fill="none" stroke="#f480d8" stroke-width="2.2" stroke-linecap="round" opacity="0.9"/><path d="M74.4,157.0 C73.9,161.0 74.1,161.0 72.9,169.0 C71.8,177.0 72.1,173.0 70.9,181.0 C69.7,189.0 70.0,185.0 69.3,193.0 C68.7,201.0 68.7,197.0 68.9,205.0 C69.1,213.0 69.6,213.0 69.9,217.0" fill="none" stroke="#fee2f9" stroke-width="3.6" stroke-linecap="round" opacity="1"/><path d="M85.6,162.0 C85.3,166.0 85.2,166.0 84.7,174.0 C84.1,182.0 84.3,178.0 83.9,186.0 C83.5,194.0 83.6,194.0 83.5,198.0" fill="none" stroke="#fcb9f4" stroke-width="2.6" stroke-linecap="round" opacity="0.9"/><path d="M75.4,241.6 C74.5,245.6 74.2,245.6 72.7,253.6 C71.2,261.6 71.3,257.6 70.9,265.6 C70.4,273.6 70.3,269.6 71.3,277.6 C72.3,285.6 71.8,281.6 73.9,289.6 C75.9,297.6 76.2,297.6 77.3,301.6" fill="none" stroke="#fee2f9" stroke-width="3.0" stroke-linecap="round" opacity="0.95"/><path d="M72.7,231.1 C73.6,235.1 73.5,235.1 75.3,243.1 C77.2,251.1 76.7,247.1 78.2,255.1 C79.7,263.1 79.4,259.1 79.9,267.1 C80.4,275.1 79.8,275.1 79.7,279.1" fill="none" stroke="#f480d8" stroke-width="2.4" stroke-linecap="round" opacity="0.85"/><path d="M87.5,153.0 C87.2,157.0 86.5,157.0 86.5,165.0 C86.4,173.0 86.3,169.0 87.4,177.0 C88.5,185.0 88.1,181.0 89.8,189.0 C91.6,197.0 91.1,193.0 92.7,201.0 C94.4,209.0 94.0,205.0 94.7,213.0 C95.5,221.0 95.4,217.0 95.0,225.0 C94.5,233.0 94.8,229.0 93.4,237.0 C91.9,245.0 92.4,241.0 90.7,249.0 C89.0,257.0 89.4,253.0 88.3,261.0 C87.2,269.0 87.3,265.0 87.3,273.0 C87.3,281.0 87.1,277.0 88.3,285.0 C89.4,293.0 88.9,289.0 90.7,297.0 C92.5,305.0 92.7,305.0 93.6,309.0" fill="none" stroke="#f480d8" stroke-width="2.2" stroke-linecap="round" opacity="0.9"/><path d="M92.2,157.0 C92.0,161.0 91.5,161.0 91.5,169.0 C91.5,177.0 91.4,173.0 92.2,181.0 C93.0,189.0 92.6,185.0 93.9,193.0 C95.2,201.0 94.8,197.0 96.0,205.0 C97.1,213.0 96.9,213.0 97.4,217.0" fill="none" stroke="#fee2f9" stroke-width="3.6" stroke-linecap="round" opacity="1"/><path d="M108.3,162.0 C108.4,166.0 108.3,166.0 108.4,174.0 C108.6,182.0 108.5,178.0 108.8,186.0 C109.0,194.0 108.9,190.0 109.2,198.0 C109.4,206.0 109.4,206.0 109.5,210.0" fill="none" stroke="#fcb9f4" stroke-width="2.6" stroke-linecap="round" opacity="0.9"/><path d="M100.8,229.2 C101.4,233.2 100.6,233.2 102.7,241.2 C104.8,249.2 104.1,245.2 107.0,253.2 C109.8,261.2 109.2,257.2 111.3,265.2 C113.4,273.2 113.0,269.2 113.3,277.2 C113.6,285.2 112.5,285.2 112.1,289.2" fill="none" stroke="#fee2f9" stroke-width="3.0" stroke-linecap="round" opacity="0.95"/><path d="M103.7,257.6 C104.0,261.6 103.3,261.6 104.5,269.6 C105.7,277.6 105.4,273.6 107.4,281.6 C109.5,289.6 109.1,285.6 110.6,293.6 C112.1,301.6 111.6,301.6 112.0,305.6" fill="none" stroke="#f480d8" stroke-width="2.4" stroke-linecap="round" opacity="0.85"/><path d="M97.8,266.7 C97.7,270.7 97.0,270.7 97.3,278.7 C97.6,286.7 98.2,286.7 98.7,290.7" fill="none" stroke="#fee2f9" stroke-width="2.2" stroke-linecap="round" opacity="0.9"/><path d="M109.6,153.0 C110.6,157.0 110.9,157.0 112.6,165.0 C114.4,173.0 114.0,169.0 114.9,177.0 C115.8,185.0 115.8,181.0 115.3,189.0 C114.9,197.0 115.2,193.0 113.6,201.0 C111.9,209.0 112.5,205.0 110.4,213.0 C108.3,221.0 108.9,217.0 107.3,225.0 C105.7,233.0 106.0,229.0 105.6,237.0 C105.2,245.0 105.1,241.0 106.0,249.0 C106.9,257.0 106.6,253.0 108.3,261.0 C110.1,269.0 109.6,265.0 111.4,273.0 C113.1,281.0 112.7,277.0 113.6,285.0 C114.5,293.0 114.4,289.0 113.9,297.0 C113.5,305.0 112.7,305.0 112.1,309.0" fill="none" stroke="#f480d8" stroke-width="2.2" stroke-linecap="round" opacity="0.9"/><path d="M113.9,157.0 C114.6,161.0 114.8,161.0 116.0,169.0 C117.2,177.0 116.9,173.0 117.5,181.0 C118.2,189.0 118.1,185.0 117.8,193.0 C117.5,201.0 117.7,197.0 116.5,205.0 C115.4,213.0 115.1,213.0 114.3,217.0" fill="none" stroke="#fee2f9" stroke-width="3.6" stroke-linecap="round" opacity="1"/><path d="M130.9,162.0 C131.0,166.0 131.1,166.0 131.0,174.0 C131.0,182.0 131.1,178.0 130.8,186.0 C130.5,194.0 130.4,194.0 130.2,198.0" fill="none" stroke="#fcb9f4" stroke-width="2.6" stroke-linecap="round" opacity="0.9"/><path d="M119.1,232.9 C119.1,236.9 118.1,236.9 119.1,244.9 C120.0,252.9 119.6,248.9 122.0,256.9 C124.4,264.9 123.7,260.9 126.3,268.9 C128.9,276.9 128.3,272.9 129.6,280.9 C130.9,288.9 130.0,288.9 130.2,292.9" fill="none" stroke="#fee2f9" stroke-width="3.6" stroke-linecap="round" opacity="0.95"/><path d="M118.7,247.8 C117.6,251.8 117.5,251.8 115.3,259.8 C113.1,267.8 113.7,263.8 112.1,271.8 C110.5,279.8 110.8,275.8 110.5,283.8 C110.1,291.8 110.8,291.8 111.0,295.8" fill="none" stroke="#f480d8" stroke-width="2.0" stroke-linecap="round" opacity="0.85"/><path d="M115.8,261.3 C115.3,265.3 114.8,265.3 114.4,273.3 C114.0,281.3 114.6,281.3 114.6,285.3" fill="none" stroke="#fee2f9" stroke-width="2.5" stroke-linecap="round" opacity="0.9"/><path d="M135.0,153.0 C136.1,157.0 136.6,157.0 138.3,165.0 C140.0,173.0 139.7,169.0 140.3,177.0 C140.8,185.0 140.8,181.0 140.1,189.0 C139.3,197.0 139.7,193.0 138.0,201.0 C136.4,209.0 136.8,205.0 135.2,213.0 C133.5,221.0 133.8,217.0 133.0,225.0 C132.2,233.0 132.2,229.0 132.7,237.0 C133.2,245.0 132.8,241.0 134.5,249.0 C136.2,257.0 135.5,253.0 137.7,261.0 C139.8,269.0 139.2,265.0 140.9,273.0 C142.7,281.0 142.3,277.0 142.8,285.0 C143.4,293.0 143.4,289.0 142.6,297.0 C141.8,305.0 141.2,305.0 140.5,309.0" fill="none" stroke="#f480d8" stroke-width="2.2" stroke-linecap="round" opacity="0.9"/><path d="M138.9,157.0 C139.7,161.0 140.0,161.0 141.3,169.0 C142.6,177.0 142.3,173.0 142.8,181.0 C143.4,189.0 143.3,185.0 142.9,193.0 C142.5,201.0 142.0,201.0 141.6,205.0" fill="none" stroke="#fee2f9" stroke-width="3.6" stroke-linecap="round" opacity="1"/><path d="M144.7,162.0 C144.7,166.0 144.8,166.0 144.6,174.0 C144.5,182.0 144.6,178.0 144.2,186.0 C143.8,194.0 143.7,194.0 143.5,198.0" fill="none" stroke="#fcb9f4" stroke-width="2.6" stroke-linecap="round" opacity="0.9"/><path d="M144.9,223.3 C143.7,227.3 143.4,227.3 141.4,235.3 C139.4,243.3 139.9,239.3 139.0,247.3 C138.2,255.3 138.3,251.3 138.9,259.3 C139.5,267.3 139.4,263.3 140.9,271.3 C142.4,279.3 142.6,279.3 143.4,283.3" fill="none" stroke="#fee2f9" stroke-width="3.1" stroke-linecap="round" opacity="0.95"/><path d="M142.8,227.2 C141.9,231.2 141.4,231.2 140.2,239.2 C139.1,247.2 139.1,243.2 139.3,251.2 C139.5,259.2 139.3,255.2 140.8,263.2 C142.3,271.2 142.8,271.2 143.8,275.2" fill="none" stroke="#f480d8" stroke-width="2.1" stroke-linecap="round" opacity="0.85"/><path d="M146.6,269.0 C145.7,273.0 146.0,273.0 143.7,281.0 C141.4,289.0 141.1,289.0 139.8,293.0" fill="none" stroke="#fee2f9" stroke-width="2.2" stroke-linecap="round" opacity="0.9"/><path d="M149.7,153.0 C150.4,157.0 150.9,157.0 151.9,165.0 C152.9,173.0 152.8,169.0 152.8,177.0 C152.8,185.0 152.9,181.0 151.9,189.0 C151.0,197.0 151.3,193.0 149.9,201.0 C148.5,209.0 148.9,205.0 147.8,213.0 C146.7,221.0 146.8,217.0 146.6,225.0 C146.4,233.0 146.3,229.0 147.1,237.0 C147.9,245.0 147.5,241.0 149.1,249.0 C150.7,257.0 150.2,253.0 151.8,261.0 C153.5,269.0 153.0,265.0 154.1,273.0 C155.1,281.0 154.9,277.0 154.9,285.0 C154.9,293.0 155.0,289.0 154.0,297.0 C153.0,305.0 152.6,305.0 152.0,309.0" fill="none" stroke="#f480d8" stroke-width="2.2" stroke-linecap="round" opacity="0.9"/><path d="M153.2,157.0 C153.7,161.0 154.0,161.0 154.8,169.0 C155.6,177.0 155.4,173.0 155.5,181.0 C155.5,189.0 155.6,185.0 155.0,193.0 C154.4,201.0 154.6,197.0 153.6,205.0 C152.7,213.0 152.7,213.0 152.2,217.0" fill="none" stroke="#fee2f9" stroke-width="3.6" stroke-linecap="round" opacity="1"/><path d="M170.4,162.0 C170.4,166.0 170.5,166.0 170.2,174.0 C170.0,182.0 170.1,178.0 169.7,186.0 C169.2,194.0 169.4,190.0 168.9,198.0 C168.3,206.0 168.3,206.0 168.0,210.0" fill="none" stroke="#fcb9f4" stroke-width="2.6" stroke-linecap="round" opacity="0.9"/><path d="M167.2,223.4 C168.4,227.4 169.5,227.4 170.8,235.4 C172.1,243.4 171.9,239.4 171.0,247.4 C170.1,255.4 170.4,251.4 168.1,259.4 C165.8,267.4 166.2,263.4 164.1,271.4 C162.0,279.4 162.6,279.4 161.8,283.4" fill="none" stroke="#fee2f9" stroke-width="3.0" stroke-linecap="round" opacity="0.95"/><path d="M158.7,261.0 C159.9,265.0 160.0,265.0 162.2,273.0 C164.4,281.0 163.9,277.0 165.4,285.0 C166.8,293.0 166.2,293.0 166.6,297.0" fill="none" stroke="#f480d8" stroke-width="2.2" stroke-linecap="round" opacity="0.85"/><path d="M170.2,153.0 C170.8,157.0 170.5,157.0 172.0,165.0 C173.5,173.0 173.0,169.0 174.7,177.0 C176.3,185.0 176.0,181.0 176.9,189.0 C177.8,197.0 177.8,193.0 177.4,201.0 C177.0,209.0 177.3,205.0 175.7,213.0 C174.2,221.0 174.8,217.0 172.6,225.0 C170.4,233.0 171.1,229.0 169.3,237.0 C167.4,245.0 167.9,241.0 167.1,249.0 C166.4,257.0 166.4,253.0 167.0,261.0 C167.6,269.0 167.3,265.0 168.8,273.0 C170.4,281.0 169.9,277.0 171.6,285.0 C173.2,293.0 172.9,289.0 173.7,297.0 C174.6,305.0 174.0,305.0 174.2,309.0" fill="none" stroke="#f480d8" stroke-width="2.2" stroke-linecap="round" opacity="0.9"/><path d="M175.2,157.0 C175.6,161.0 175.4,161.0 176.4,169.0 C177.4,177.0 177.1,173.0 178.2,181.0 C179.3,189.0 179.1,185.0 179.7,193.0 C180.3,201.0 180.3,197.0 180.0,205.0 C179.7,213.0 179.2,213.0 178.8,217.0" fill="none" stroke="#fee2f9" stroke-width="3.6" stroke-linecap="round" opacity="1"/><path d="M193.3,162.0 C193.4,166.0 193.5,166.0 193.7,174.0 C193.8,182.0 193.8,178.0 193.9,186.0 C193.9,194.0 193.8,194.0 193.8,198.0" fill="none" stroke="#fcb9f4" stroke-width="2.6" stroke-linecap="round" opacity="0.9"/><path d="M184.6,223.5 C183.7,227.5 183.5,227.5 181.9,235.5 C180.4,243.5 180.6,239.5 179.9,247.5 C179.3,255.5 179.3,251.5 180.1,259.5 C180.9,267.5 181.6,267.5 182.3,271.5" fill="none" stroke="#fee2f9" stroke-width="3.1" stroke-linecap="round" opacity="0.95"/><path d="M182.8,246.5 C182.0,250.5 181.3,250.5 180.5,258.5 C179.7,266.5 179.6,262.5 180.4,270.5 C181.2,278.5 180.7,274.5 183.0,282.5 C185.3,290.5 185.9,290.5 187.4,294.5" fill="none" stroke="#f480d8" stroke-width="2.6" stroke-linecap="round" opacity="0.85"/><path d="M202.0,153.0 C201.9,157.0 202.4,157.0 201.7,165.0 C201.1,173.0 201.3,169.0 200.1,177.0 C198.9,185.0 199.2,181.0 198.0,189.0 C196.9,197.0 197.1,193.0 196.7,201.0 C196.4,209.0 196.3,205.0 196.9,213.0 C197.6,221.0 197.2,217.0 198.7,225.0 C200.2,233.0 199.7,229.0 201.4,237.0 C203.2,245.0 202.7,241.0 204.0,249.0 C205.2,257.0 205.0,253.0 205.3,261.0 C205.6,269.0 205.6,265.0 204.9,273.0 C204.3,281.0 204.5,277.0 203.3,285.0 C202.0,293.0 202.4,289.0 201.2,297.0 C200.1,305.0 200.4,305.0 200.0,309.0" fill="none" stroke="#f480d8" stroke-width="2.2" stroke-linecap="round" opacity="0.9"/><path d="M204.8,157.0 C204.7,161.0 205.0,161.0 204.6,169.0 C204.2,177.0 204.3,173.0 203.5,181.0 C202.7,189.0 202.9,185.0 202.1,193.0 C201.4,201.0 201.5,197.0 201.2,205.0 C201.0,213.0 200.9,209.0 201.4,217.0 C201.9,225.0 202.3,225.0 202.7,229.0" fill="none" stroke="#fee2f9" stroke-width="3.6" stroke-linecap="round" opacity="1"/><path d="M217.5,162.0 C217.2,166.0 217.2,166.0 216.6,174.0 C216.0,182.0 216.3,178.0 215.7,186.0 C215.2,194.0 215.2,194.0 215.0,198.0" fill="none" stroke="#fcb9f4" stroke-width="2.6" stroke-linecap="round" opacity="0.9"/><path d="M206.6,229.6 C205.7,233.6 204.8,233.6 204.1,241.6 C203.4,249.6 203.3,245.6 204.5,253.6 C205.6,261.6 205.2,257.6 207.5,265.6 C209.9,273.6 209.3,269.6 211.5,277.6 C213.8,285.6 213.3,285.6 214.2,289.6" fill="none" stroke="#fee2f9" stroke-width="3.4" stroke-linecap="round" opacity="0.95"/><path d="M201.7,234.2 C202.5,238.2 202.3,238.2 204.1,246.2 C205.8,254.2 205.6,250.2 207.0,258.2 C208.4,266.2 208.4,262.2 208.3,270.2 C208.3,278.2 207.3,278.2 206.8,282.2" fill="none" stroke="#f480d8" stroke-width="1.8" stroke-linecap="round" opacity="0.85"/><path d="M209.9,270.6 C210.1,274.6 210.8,274.6 210.3,282.6 C209.9,290.6 209.2,290.6 208.6,294.6" fill="none" stroke="#fee2f9" stroke-width="2.5" stroke-linecap="round" opacity="0.9"/><path d="M220.4,153.0 C219.5,157.0 218.9,157.0 217.8,165.0 C216.7,173.0 216.8,169.0 217.1,177.0 C217.3,185.0 217.0,181.0 218.4,189.0 C219.8,197.0 219.3,193.0 221.2,201.0 C223.1,209.0 222.6,205.0 224.1,213.0 C225.5,221.0 225.3,217.0 225.6,225.0 C225.9,233.0 226.0,229.0 225.0,237.0 C224.0,245.0 224.4,241.0 222.5,249.0 C220.6,257.0 221.2,253.0 219.3,261.0 C217.3,269.0 217.8,265.0 216.7,273.0 C215.6,281.0 215.8,277.0 216.0,285.0 C216.2,293.0 216.0,289.0 217.4,297.0 C218.8,305.0 219.3,305.0 220.2,309.0" fill="none" stroke="#f480d8" stroke-width="2.2" stroke-linecap="round" opacity="0.9"/><path d="M224.6,157.0 C224.0,161.0 223.6,161.0 222.8,169.0 C222.0,177.0 222.1,173.0 222.2,181.0 C222.3,189.0 222.2,185.0 223.1,193.0 C224.1,201.0 223.8,197.0 225.1,205.0 C226.4,213.0 226.4,213.0 227.0,217.0" fill="none" stroke="#fee2f9" stroke-width="3.6" stroke-linecap="round" opacity="1"/><path d="M241.1,162.0 C241.0,166.0 240.9,166.0 240.8,174.0 C240.7,182.0 240.8,182.0 240.8,186.0" fill="none" stroke="#fcb9f4" stroke-width="2.6" stroke-linecap="round" opacity="0.9"/><path d="M235.0,242.9 C235.6,246.9 236.3,246.9 236.7,254.9 C237.1,262.9 237.1,258.9 236.2,266.9 C235.4,274.9 235.5,270.9 234.1,278.9 C232.7,286.9 232.8,282.9 231.9,290.9 C231.0,298.9 231.5,298.9 231.3,302.9" fill="none" stroke="#fee2f9" stroke-width="3.2" stroke-linecap="round" opacity="0.95"/><path d="M235.2,232.9 C235.6,236.9 235.2,236.9 236.3,244.9 C237.5,252.9 237.3,248.9 238.8,256.9 C240.2,264.9 240.0,260.9 240.8,268.9 C241.6,276.9 241.0,276.9 241.1,280.9" fill="none" stroke="#f480d8" stroke-width="2.3" stroke-linecap="round" opacity="0.85"/><path d="M251.2,153.0 C250.6,157.0 250.8,157.0 249.2,165.0 C247.6,173.0 248.1,169.0 246.4,177.0 C244.8,185.0 245.1,181.0 244.3,189.0 C243.4,197.0 243.5,193.0 243.8,201.0 C244.2,209.0 243.9,205.0 245.5,213.0 C247.0,221.0 246.4,217.0 248.5,225.0 C250.5,233.0 249.9,229.0 251.6,237.0 C253.2,245.0 252.9,241.0 253.4,249.0 C254.0,257.0 254.0,253.0 253.2,261.0 C252.5,269.0 252.8,265.0 251.2,273.0 C249.6,281.0 250.1,277.0 248.4,285.0 C246.8,293.0 247.1,289.0 246.3,297.0 C245.4,305.0 246.0,305.0 245.9,309.0" fill="none" stroke="#f480d8" stroke-width="2.2" stroke-linecap="round" opacity="0.9"/><path d="M253.8,157.0 C253.4,161.0 253.6,161.0 252.5,169.0 C251.4,177.0 251.7,173.0 250.5,181.0 C249.4,189.0 249.6,185.0 249.0,193.0 C248.4,201.0 248.5,197.0 248.8,205.0 C249.0,213.0 248.8,209.0 249.9,217.0 C251.0,225.0 251.3,225.0 252.0,229.0" fill="none" stroke="#fee2f9" stroke-width="3.6" stroke-linecap="round" opacity="1"/><path d="M267.3,162.0 C267.0,166.0 266.9,166.0 266.4,174.0 C265.8,182.0 266.0,178.0 265.6,186.0 C265.1,194.0 265.2,194.0 265.1,198.0" fill="none" stroke="#fcb9f4" stroke-width="2.6" stroke-linecap="round" opacity="0.9"/><path d="M259.9,224.7 C260.5,228.7 261.2,228.7 261.8,236.7 C262.3,244.7 262.3,240.7 261.5,248.7 C260.7,256.7 260.9,252.7 259.3,260.7 C257.6,268.7 258.0,264.7 256.5,272.7 C255.1,280.7 255.5,280.7 255.0,284.7" fill="none" stroke="#fee2f9" stroke-width="3.1" stroke-linecap="round" opacity="0.95"/><path d="M265.5,236.1 C265.5,240.1 266.1,240.1 265.6,248.1 C265.0,256.1 265.2,252.1 263.9,260.1 C262.6,268.1 262.9,264.1 261.7,272.1 C260.6,280.1 261.0,280.1 260.6,284.1" fill="none" stroke="#f480d8" stroke-width="1.9" stroke-linecap="round" opacity="0.85"/><path d="M266.1,272.3 C265.7,276.3 265.8,276.3 265.0,284.3 C264.3,292.3 264.2,292.3 263.8,296.3" fill="none" stroke="#fee2f9" stroke-width="2.3" stroke-linecap="round" opacity="0.9"/><path d="M275.4,153.0 C275.9,157.0 276.6,157.0 276.9,165.0 C277.3,173.0 277.4,169.0 276.3,177.0 C275.3,185.0 275.7,181.0 273.8,189.0 C271.9,197.0 272.5,193.0 270.6,201.0 C268.8,209.0 269.2,205.0 268.3,213.0 C267.4,221.0 267.5,217.0 268.0,225.0 C268.5,233.0 268.1,229.0 269.8,237.0 C271.5,245.0 270.9,241.0 273.0,249.0 C275.0,257.0 274.5,253.0 276.0,261.0 C277.5,269.0 277.2,265.0 277.5,273.0 C277.8,281.0 277.9,277.0 276.8,285.0 C275.8,293.0 276.2,289.0 274.3,297.0 C272.4,305.0 272.2,305.0 271.1,309.0" fill="none" stroke="#f480d8" stroke-width="2.2" stroke-linecap="round" opacity="0.9"/><path d="M278.2,157.0 C278.6,161.0 279.1,161.0 279.3,169.0 C279.5,177.0 279.6,173.0 278.9,181.0 C278.2,189.0 278.5,185.0 277.1,193.0 C275.8,201.0 276.2,197.0 274.9,205.0 C273.7,213.0 273.9,209.0 273.3,217.0 C272.7,225.0 273.2,225.0 273.1,229.0" fill="none" stroke="#fee2f9" stroke-width="3.6" stroke-linecap="round" opacity="1"/><path d="M286.7,162.0 C286.5,166.0 286.6,166.0 286.2,174.0 C285.7,182.0 285.9,178.0 285.4,186.0 C284.8,194.0 285.1,190.0 284.5,198.0 C283.9,206.0 284.0,206.0 283.7,210.0" fill="none" stroke="#fcb9f4" stroke-width="2.6" stroke-linecap="round" opacity="0.9"/><path d="M289.2,234.3 C288.4,238.3 288.7,238.3 286.8,246.3 C284.8,254.3 285.3,250.3 283.3,258.3 C281.3,266.3 281.7,262.3 280.8,270.3 C279.9,278.3 279.9,274.3 280.6,282.3 C281.3,290.3 282.1,290.3 282.8,294.3" fill="none" stroke="#fee2f9" stroke-width="3.5" stroke-linecap="round" opacity="0.95"/><path d="M288.7,234.2 C287.9,238.2 288.0,238.2 286.1,246.2 C284.2,254.2 284.6,250.2 283.0,258.2 C281.5,266.2 281.9,266.2 281.3,270.2" fill="none" stroke="#f480d8" stroke-width="2.1" stroke-linecap="round" opacity="0.85"/><path d="M281.5,274.9 C280.5,278.9 279.8,278.9 278.6,286.9 C277.3,294.9 278.1,294.9 277.8,298.9" fill="none" stroke="#fee2f9" stroke-width="2.6" stroke-linecap="round" opacity="0.9"/><path d="M287.9,153.0 C288.5,157.0 288.5,157.0 289.9,165.0 C291.2,173.0 290.9,169.0 292.0,177.0 C293.0,185.0 292.9,181.0 292.9,189.0 C293.0,197.0 293.2,193.0 292.2,201.0 C291.1,209.0 291.6,205.0 289.8,213.0 C287.9,221.0 288.6,217.0 286.7,225.0 C284.8,233.0 285.3,229.0 284.1,237.0 C283.0,245.0 283.2,241.0 283.1,249.0 C283.1,257.0 283.0,253.0 283.9,261.0 C284.9,269.0 284.6,265.0 286.0,273.0 C287.3,281.0 287.0,277.0 288.0,285.0 C289.0,293.0 288.9,289.0 289.0,297.0 C289.0,305.0 288.4,305.0 288.2,309.0" fill="none" stroke="#f480d8" stroke-width="2.2" stroke-linecap="round" opacity="0.9"/><path d="M292.5,157.0 C292.9,161.0 292.9,161.0 293.7,169.0 C294.6,177.0 294.5,173.0 295.1,181.0 C295.7,189.0 295.7,185.0 295.7,193.0 C295.7,201.0 295.8,197.0 295.0,205.0 C294.2,213.0 293.8,213.0 293.3,217.0" fill="none" stroke="#fee2f9" stroke-width="3.6" stroke-linecap="round" opacity="1"/><path d="M309.8,162.0 C309.9,166.0 310.0,166.0 310.1,174.0 C310.2,182.0 310.2,178.0 310.1,186.0 C310.0,194.0 309.9,194.0 309.8,198.0" fill="none" stroke="#fcb9f4" stroke-width="2.6" stroke-linecap="round" opacity="0.9"/><path d="M305.4,249.1 C306.4,253.1 307.4,253.1 308.5,261.1 C309.5,269.1 309.5,265.1 308.5,273.1 C307.5,281.1 307.9,277.1 305.5,285.1 C303.1,293.1 302.7,293.1 301.3,297.1" fill="none" stroke="#fee2f9" stroke-width="3.4" stroke-linecap="round" opacity="0.95"/><path d="M298.8,228.0 C299.7,232.0 300.6,232.0 301.4,240.0 C302.1,248.0 302.1,244.0 301.1,252.0 C300.1,260.0 300.4,256.0 298.3,264.0 C296.3,272.0 296.0,272.0 294.9,276.0" fill="none" stroke="#f480d8" stroke-width="1.9" stroke-linecap="round" opacity="0.85"/><path d="M301.3,153.0 C300.9,157.0 300.3,157.0 300.3,165.0 C300.2,173.0 300.1,169.0 301.0,177.0 C302.0,185.0 301.7,181.0 303.1,189.0 C304.6,197.0 304.2,193.0 305.4,201.0 C306.6,209.0 306.4,205.0 306.7,213.0 C306.9,221.0 307.0,217.0 306.2,225.0 C305.4,233.0 305.8,229.0 304.1,237.0 C302.5,245.0 303.0,241.0 301.3,249.0 C299.5,257.0 300.0,253.0 298.9,261.0 C297.8,269.0 298.0,265.0 297.9,273.0 C297.9,281.0 297.8,277.0 298.8,285.0 C299.7,293.0 299.4,289.0 300.9,297.0 C302.3,305.0 302.4,305.0 303.1,309.0" fill="none" stroke="#f480d8" stroke-width="2.2" stroke-linecap="round" opacity="0.9"/><path d="M306.0,157.0 C305.7,161.0 305.3,161.0 305.2,169.0 C305.2,177.0 305.1,173.0 305.8,181.0 C306.4,189.0 306.2,185.0 307.2,193.0 C308.2,201.0 307.9,197.0 308.7,205.0 C309.5,213.0 309.4,209.0 309.6,217.0 C309.7,225.0 309.3,225.0 309.2,229.0" fill="none" stroke="#fee2f9" stroke-width="3.6" stroke-linecap="round" opacity="1"/><path d="M322.2,162.0 C322.2,166.0 322.1,166.0 322.3,174.0 C322.4,182.0 322.4,178.0 322.6,186.0 C322.8,194.0 322.8,194.0 322.9,198.0" fill="none" stroke="#fcb9f4" stroke-width="2.6" stroke-linecap="round" opacity="0.9"/><path d="M314.9,233.0 C314.4,237.0 313.3,237.0 313.6,245.0 C313.9,253.0 313.6,249.0 315.9,257.0 C318.1,265.0 317.5,261.0 320.3,269.0 C323.1,277.0 322.9,277.0 324.3,281.0" fill="none" stroke="#fee2f9" stroke-width="3.1" stroke-linecap="round" opacity="0.95"/><path d="M315.8,251.2 C316.5,255.2 316.1,255.2 317.8,263.2 C319.6,271.2 319.1,267.2 321.1,275.2 C323.0,283.2 322.6,279.2 323.7,287.2 C324.7,295.2 324.1,295.2 324.3,299.2" fill="none" stroke="#f480d8" stroke-width="2.5" stroke-linecap="round" opacity="0.85"/><path d="M323.9,153.0 C324.9,157.0 324.7,157.0 327.0,165.0 C329.3,173.0 328.6,169.0 330.9,177.0 C333.2,185.0 332.6,181.0 334.0,189.0 C335.3,197.0 335.1,193.0 335.0,201.0 C334.9,209.0 335.0,205.0 333.6,213.0 C332.2,221.0 332.7,217.0 330.8,225.0 C328.9,233.0 329.3,229.0 327.9,237.0 C326.6,245.0 326.7,241.0 326.7,249.0 C326.6,257.0 326.3,253.0 327.8,261.0 C329.2,269.0 328.5,265.0 330.9,273.0 C333.2,281.0 332.5,277.0 334.8,285.0 C337.1,293.0 336.5,289.0 337.8,297.0 C339.2,305.0 338.5,305.0 338.8,309.0" fill="none" stroke="#f480d8" stroke-width="2.2" stroke-linecap="round" opacity="0.9"/><path d="M329.0,157.0 C329.8,161.0 329.6,161.0 331.3,169.0 C333.0,177.0 332.4,173.0 334.1,181.0 C335.8,189.0 335.3,185.0 336.3,193.0 C337.3,201.0 337.1,197.0 337.1,205.0 C337.1,213.0 336.5,213.0 336.2,217.0" fill="none" stroke="#fee2f9" stroke-width="3.6" stroke-linecap="round" opacity="1"/><path d="M346.4,162.0 C346.6,166.0 346.6,166.0 346.8,174.0 C347.0,182.0 346.9,178.0 347.0,186.0 C347.0,194.0 346.9,194.0 346.8,198.0" fill="none" stroke="#fcb9f4" stroke-width="2.6" stroke-linecap="round" opacity="0.9"/><path d="M345.8,244.5 C346.3,248.5 347.2,248.5 347.3,256.5 C347.3,264.5 347.4,260.5 346.0,268.5 C344.5,276.5 344.9,272.5 343.0,280.5 C341.1,288.5 341.2,288.5 340.3,292.5" fill="none" stroke="#fee2f9" stroke-width="3.6" stroke-linecap="round" opacity="0.95"/><path d="M342.0,231.2 C341.7,235.2 342.2,235.2 341.3,243.2 C340.5,251.2 340.5,247.2 339.4,255.2 C338.3,263.2 338.5,263.2 338.0,267.2" fill="none" stroke="#f480d8" stroke-width="1.8" stroke-linecap="round" opacity="0.85"/><path d="M333.6,271.2 C334.0,275.2 334.5,275.2 334.8,283.2 C335.1,291.2 334.6,291.2 334.4,295.2" fill="none" stroke="#fee2f9" stroke-width="2.5" stroke-linecap="round" opacity="0.9"/><path d="M349.7,153.0 C350.3,157.0 350.4,157.0 351.6,165.0 C352.8,173.0 352.5,169.0 353.3,177.0 C354.0,185.0 354.0,181.0 353.8,189.0 C353.6,197.0 353.9,193.0 352.7,201.0 C351.6,209.0 352.1,205.0 350.4,213.0 C348.8,221.0 349.3,217.0 347.8,225.0 C346.2,233.0 346.6,229.0 345.8,237.0 C345.1,245.0 345.2,241.0 345.4,249.0 C345.6,257.0 345.5,253.0 346.5,261.0 C347.5,269.0 347.2,265.0 348.4,273.0 C349.6,281.0 349.3,277.0 350.0,285.0 C350.8,293.0 350.7,289.0 350.5,297.0 C350.3,305.0 349.8,305.0 349.4,309.0" fill="none" stroke="#f480d8" stroke-width="2.2" stroke-linecap="round" opacity="0.9"/><path d="M354.0,157.0 C354.4,161.0 354.5,161.0 355.2,169.0 C355.9,177.0 355.8,173.0 356.2,181.0 C356.6,189.0 356.6,185.0 356.4,193.0 C356.2,201.0 355.8,201.0 355.5,205.0" fill="none" stroke="#fee2f9" stroke-width="3.6" stroke-linecap="round" opacity="1"/><path d="M371.9,162.0 C371.9,166.0 372.0,166.0 372.0,174.0 C372.0,182.0 371.9,182.0 371.9,186.0" fill="none" stroke="#fcb9f4" stroke-width="2.6" stroke-linecap="round" opacity="0.9"/><path d="M364.3,242.1 C364.2,246.1 365.0,246.1 364.1,254.1 C363.3,262.1 363.6,258.1 361.7,266.1 C359.7,274.1 360.2,270.1 358.1,278.1 C356.1,286.1 356.4,286.1 355.5,290.1" fill="none" stroke="#fee2f9" stroke-width="2.8" stroke-linecap="round" opacity="0.95"/><path d="M369.0,236.5 C367.7,240.5 367.2,240.5 365.0,248.5 C362.8,256.5 363.2,252.5 362.4,260.5 C361.6,268.5 361.6,264.5 362.5,272.5 C363.4,280.5 364.2,280.5 365.0,284.5" fill="none" stroke="#f480d8" stroke-width="2.5" stroke-linecap="round" opacity="0.85"/><path d="M380.1,153.0 C379.4,157.0 379.6,157.0 378.1,165.0 C376.6,173.0 377.0,169.0 375.5,177.0 C374.1,185.0 374.3,181.0 373.7,189.0 C373.2,197.0 373.1,193.0 373.8,201.0 C374.5,209.0 374.1,205.0 375.9,213.0 C377.7,221.0 377.1,217.0 379.2,225.0 C381.4,233.0 380.8,229.0 382.4,237.0 C384.0,245.0 383.7,241.0 384.1,249.0 C384.6,257.0 384.6,253.0 383.8,261.0 C383.1,269.0 383.4,265.0 381.8,273.0 C380.3,281.0 380.7,277.0 379.2,285.0 C377.8,293.0 378.0,289.0 377.5,297.0 C377.0,305.0 377.6,305.0 377.6,309.0" fill="none" stroke="#f480d8" stroke-width="2.2" stroke-linecap="round" opacity="0.9"/><path d="M382.8,157.0 C382.4,161.0 382.5,161.0 381.5,169.0 C380.5,177.0 380.7,173.0 379.8,181.0 C378.9,189.0 379.0,185.0 378.7,193.0 C378.3,201.0 378.3,197.0 378.8,205.0 C379.4,213.0 379.9,213.0 380.4,217.0" fill="none" stroke="#fee2f9" stroke-width="3.6" stroke-linecap="round" opacity="1"/><path d="M400.0,162.0 C399.7,166.0 399.6,166.0 399.0,174.0 C398.4,182.0 398.5,182.0 398.2,186.0" fill="none" stroke="#fcb9f4" stroke-width="2.6" stroke-linecap="round" opacity="0.9"/><path d="M384.2,248.5 C383.1,252.5 382.4,252.5 381.0,260.5 C379.6,268.5 379.7,264.5 379.9,272.5 C380.0,280.5 379.8,276.5 381.4,284.5 C383.0,292.5 383.6,292.5 384.7,296.5" fill="none" stroke="#fee2f9" stroke-width="2.9" stroke-linecap="round" opacity="0.95"/><path d="M400.0,249.3 C399.1,253.3 398.9,253.3 397.4,261.3 C395.9,269.3 396.2,265.3 395.7,273.3 C395.1,281.3 395.7,281.3 395.7,285.3" fill="none" stroke="#f480d8" stroke-width="2.4" stroke-linecap="round" opacity="0.85"/><path d="M402.8,153.0 C402.2,157.0 401.7,157.0 401.1,165.0 C400.6,173.0 400.7,169.0 401.2,177.0 C401.7,185.0 401.5,181.0 402.7,189.0 C404.0,197.0 403.6,193.0 404.9,201.0 C406.1,209.0 405.9,205.0 406.5,213.0 C407.1,221.0 407.1,217.0 406.7,225.0 C406.2,233.0 406.5,229.0 405.2,237.0 C403.8,245.0 404.3,241.0 402.5,249.0 C400.8,257.0 401.3,253.0 399.9,261.0 C398.5,269.0 398.8,265.0 398.3,273.0 C397.8,281.0 397.8,277.0 398.4,285.0 C398.9,293.0 398.7,289.0 399.9,297.0 C401.2,305.0 401.4,305.0 402.1,309.0" fill="none" stroke="#f480d8" stroke-width="2.2" stroke-linecap="round" opacity="0.9"/><path d="M407.2,157.0 C406.8,161.0 406.4,161.0 406.0,169.0 C405.5,177.0 405.6,173.0 405.9,181.0 C406.2,189.0 406.1,185.0 406.9,193.0 C407.7,201.0 407.8,201.0 408.3,205.0" fill="none" stroke="#fee2f9" stroke-width="3.6" stroke-linecap="round" opacity="1"/><path d="M428.3,162.0 C428.3,166.0 428.2,166.0 428.2,174.0 C428.2,182.0 428.3,182.0 428.4,186.0" fill="none" stroke="#fcb9f4" stroke-width="2.6" stroke-linecap="round" opacity="0.9"/><path d="M431.2,236.5 C430.5,240.5 431.4,240.5 429.3,248.5 C427.2,256.5 427.8,252.5 425.0,260.5 C422.1,268.5 422.7,264.5 420.8,272.5 C419.0,280.5 419.2,276.5 419.5,284.5 C419.7,292.5 420.9,292.5 421.7,296.5" fill="none" stroke="#fee2f9" stroke-width="2.8" stroke-linecap="round" opacity="0.95"/><path d="M420.0,225.1 C420.4,229.1 419.9,229.1 421.4,237.1 C422.8,245.1 422.6,241.1 424.3,249.1 C426.0,257.1 425.8,253.1 426.5,261.1 C427.1,269.1 426.3,269.1 426.2,273.1" fill="none" stroke="#f480d8" stroke-width="2.0" stroke-linecap="round" opacity="0.85"/><path d="M436.9,153.0 C437.5,157.0 438.1,157.0 438.6,165.0 C439.0,173.0 439.1,169.0 438.3,177.0 C437.5,185.0 437.9,181.0 436.2,189.0 C434.5,197.0 435.0,193.0 433.3,201.0 C431.5,209.0 431.9,205.0 430.8,213.0 C429.8,221.0 429.9,217.0 430.1,225.0 C430.2,233.0 430.0,229.0 431.3,237.0 C432.6,245.0 432.2,241.0 434.0,249.0 C435.8,257.0 435.3,253.0 436.7,261.0 C438.2,269.0 437.9,265.0 438.3,273.0 C438.8,281.0 438.8,277.0 438.0,285.0 C437.2,293.0 437.6,289.0 435.9,297.0 C434.2,305.0 433.9,305.0 432.9,309.0" fill="none" stroke="#f480d8" stroke-width="2.2" stroke-linecap="round" opacity="0.9"/><path d="M440.0,157.0 C440.4,161.0 440.8,161.0 441.2,169.0 C441.5,177.0 441.5,173.0 441.0,181.0 C440.4,189.0 440.7,185.0 439.5,193.0 C438.3,201.0 438.7,197.0 437.4,205.0 C436.2,213.0 436.5,209.0 435.7,217.0 C435.0,225.0 435.4,225.0 435.2,229.0" fill="none" stroke="#fee2f9" stroke-width="3.6" stroke-linecap="round" opacity="1"/><path d="M454.0,162.0 C453.8,166.0 453.9,166.0 453.5,174.0 C453.1,182.0 453.3,178.0 452.7,186.0 C452.2,194.0 452.1,194.0 451.8,198.0" fill="none" stroke="#fcb9f4" stroke-width="2.6" stroke-linecap="round" opacity="0.9"/><path d="M447.1,230.5 C448.0,234.5 448.0,234.5 449.8,242.5 C451.6,250.5 451.3,246.5 452.4,254.5 C453.5,262.5 453.5,258.5 453.0,266.5 C452.5,274.5 452.9,270.5 450.9,278.5 C448.9,286.5 448.3,286.5 446.9,290.5" fill="none" stroke="#fee2f9" stroke-width="3.4" stroke-linecap="round" opacity="0.95"/><path d="M438.9,245.1 C439.3,249.1 439.0,249.1 440.2,257.1 C441.3,265.1 441.1,261.1 442.4,269.1 C443.6,277.1 443.5,273.1 444.0,281.1 C444.4,289.1 443.8,289.1 443.8,293.1" fill="none" stroke="#f480d8" stroke-width="2.0" stroke-linecap="round" opacity="0.85"/><path d="M440.4,266.7 C440.0,270.7 439.4,270.7 439.2,278.7 C439.1,286.7 439.7,286.7 439.9,290.7" fill="none" stroke="#fee2f9" stroke-width="2.3" stroke-linecap="round" opacity="0.9"/><path d="M459.1,153.0 C458.0,157.0 457.6,157.0 455.8,165.0 C454.0,173.0 454.3,169.0 453.6,177.0 C452.9,185.0 452.9,181.0 453.7,189.0 C454.5,197.0 454.1,193.0 456.1,201.0 C458.2,209.0 457.5,205.0 459.9,213.0 C462.4,221.0 461.7,217.0 463.4,225.0 C465.2,233.0 464.8,229.0 465.2,237.0 C465.5,245.0 465.6,241.0 464.4,249.0 C463.3,257.0 463.7,253.0 461.7,261.0 C459.7,269.0 460.2,265.0 458.4,273.0 C456.7,281.0 457.0,277.0 456.3,285.0 C455.7,293.0 455.6,289.0 456.5,297.0 C457.3,305.0 458.1,305.0 458.9,309.0" fill="none" stroke="#f480d8" stroke-width="2.2" stroke-linecap="round" opacity="0.9"/><path d="M462.5,157.0 C461.7,161.0 461.5,161.0 460.2,169.0 C459.0,177.0 459.2,173.0 458.8,181.0 C458.3,189.0 458.3,185.0 458.9,193.0 C459.5,201.0 459.2,197.0 460.7,205.0 C462.1,213.0 462.5,213.0 463.4,217.0" fill="none" stroke="#fee2f9" stroke-width="3.6" stroke-linecap="round" opacity="1"/><path d="M477.5,162.0 C477.2,166.0 477.1,166.0 476.7,174.0 C476.3,182.0 476.4,182.0 476.3,186.0" fill="none" stroke="#fcb9f4" stroke-width="2.6" stroke-linecap="round" opacity="0.9"/><path d="M470.9,241.9 C469.3,245.9 468.9,245.9 466.1,253.9 C463.3,261.9 464.0,257.9 462.5,265.9 C461.1,273.9 461.4,269.9 461.8,277.9 C462.1,285.9 463.0,285.9 463.7,289.9" fill="none" stroke="#fee2f9" stroke-width="3.6" stroke-linecap="round" opacity="0.95"/><path d="M477.9,232.6 C477.1,236.6 477.2,236.6 475.5,244.6 C473.9,252.6 474.2,248.6 472.9,256.6 C471.7,264.6 471.8,260.6 471.8,268.6 C471.7,276.6 472.5,276.6 472.8,280.6" fill="none" stroke="#f480d8" stroke-width="2.0" stroke-linecap="round" opacity="0.85"/><path d="M466.2,271.7 C466.1,275.7 465.6,275.7 466.0,283.7 C466.3,291.7 466.8,291.7 467.2,295.7" fill="none" stroke="#fee2f9" stroke-width="2.8" stroke-linecap="round" opacity="0.9"/><path d="M481.5,153.0 C480.6,157.0 480.0,157.0 478.9,165.0 C477.9,173.0 478.0,169.0 478.4,177.0 C478.7,185.0 478.4,181.0 480.0,189.0 C481.5,197.0 481.0,193.0 482.9,201.0 C484.9,209.0 484.4,205.0 485.8,213.0 C487.2,221.0 486.9,217.0 487.1,225.0 C487.2,233.0 487.4,229.0 486.2,237.0 C485.0,245.0 485.5,241.0 483.4,249.0 C481.4,257.0 482.0,253.0 480.0,261.0 C478.0,269.0 478.5,265.0 477.5,273.0 C476.5,281.0 476.6,277.0 477.0,285.0 C477.4,293.0 477.1,289.0 478.6,297.0 C480.2,305.0 480.6,305.0 481.6,309.0" fill="none" stroke="#f480d8" stroke-width="2.2" stroke-linecap="round" opacity="0.9"/><path d="M485.8,157.0 C485.2,161.0 484.8,161.0 484.0,169.0 C483.3,177.0 483.4,173.0 483.6,181.0 C483.8,189.0 483.7,185.0 484.7,193.0 C485.8,201.0 485.4,197.0 486.8,205.0 C488.1,213.0 487.8,209.0 488.7,217.0 C489.7,225.0 489.3,225.0 489.6,229.0" fill="none" stroke="#fee2f9" stroke-width="3.6" stroke-linecap="round" opacity="1"/><path d="M501.4,162.0 C501.3,166.0 501.2,166.0 501.1,174.0 C501.0,182.0 501.1,182.0 501.1,186.0" fill="none" stroke="#fcb9f4" stroke-width="2.6" stroke-linecap="round" opacity="0.9"/><path d="M495.7,224.6 C495.8,228.6 496.8,228.6 496.0,236.6 C495.1,244.6 495.5,240.6 493.1,248.6 C490.8,256.6 491.4,252.6 488.9,260.6 C486.4,268.6 486.9,264.6 485.7,272.6 C484.5,280.6 485.5,280.6 485.4,284.6" fill="none" stroke="#fee2f9" stroke-width="3.4" stroke-linecap="round" opacity="0.95"/><path d="M499.0,228.3 C499.3,232.3 500.0,232.3 499.9,240.3 C499.8,248.3 500.0,244.3 498.8,252.3 C497.5,260.3 497.0,260.3 496.2,264.3" fill="none" stroke="#f480d8" stroke-width="1.9" stroke-linecap="round" opacity="0.85"/><path d="M509.5,153.0 C508.6,157.0 508.4,157.0 506.7,165.0 C505.0,173.0 505.4,169.0 504.4,177.0 C503.4,185.0 503.5,181.0 503.7,189.0 C503.9,197.0 503.7,193.0 505.0,201.0 C506.4,209.0 505.9,205.0 507.8,213.0 C509.8,221.0 509.2,217.0 510.9,225.0 C512.5,233.0 512.1,229.0 512.7,237.0 C513.3,245.0 513.3,241.0 512.6,249.0 C511.9,257.0 512.3,253.0 510.7,261.0 C509.1,269.0 509.6,265.0 507.9,273.0 C506.2,281.0 506.5,277.0 505.6,285.0 C504.6,293.0 504.7,289.0 504.9,297.0 C505.2,305.0 505.8,305.0 506.3,309.0" fill="none" stroke="#f480d8" stroke-width="2.2" stroke-linecap="round" opacity="0.9"/><path d="M512.7,157.0 C512.1,161.0 512.0,161.0 510.8,169.0 C509.6,177.0 509.9,173.0 509.2,181.0 C508.5,189.0 508.6,185.0 508.7,193.0 C508.9,201.0 508.7,197.0 509.7,205.0 C510.7,213.0 510.3,209.0 511.7,217.0 C513.0,225.0 513.1,225.0 513.8,229.0" fill="none" stroke="#fee2f9" stroke-width="3.6" stroke-linecap="round" opacity="1"/><path d="M526.9,162.0 C526.7,166.0 526.5,166.0 526.2,174.0 C525.8,182.0 525.9,178.0 525.8,186.0 C525.7,194.0 525.7,190.0 525.8,198.0 C525.9,206.0 526.0,206.0 526.0,210.0" fill="none" stroke="#fcb9f4" stroke-width="2.6" stroke-linecap="round" opacity="0.9"/><path d="M521.0,231.3 C520.3,235.3 520.2,235.3 518.8,243.3 C517.3,251.3 517.5,247.3 516.6,255.3 C515.8,263.3 515.8,259.3 516.1,267.3 C516.5,275.3 517.2,275.3 517.8,279.3" fill="none" stroke="#fee2f9" stroke-width="3.6" stroke-linecap="round" opacity="0.95"/><path d="M527.2,249.4 C526.5,253.4 526.7,253.4 525.1,261.4 C523.6,269.4 524.0,265.4 522.5,273.4 C521.0,281.4 521.3,277.4 520.6,285.4 C520.0,293.4 520.6,293.4 520.5,297.4" fill="none" stroke="#f480d8" stroke-width="2.3" stroke-linecap="round" opacity="0.85"/><path d="M516.0,267.7 C515.2,271.7 514.4,271.7 513.7,279.7 C512.9,287.7 513.7,287.7 513.8,291.7" fill="none" stroke="#fee2f9" stroke-width="2.6" stroke-linecap="round" opacity="0.9"/><path d="M530.0,153.0 C530.9,157.0 531.0,157.0 532.7,165.0 C534.5,173.0 534.1,169.0 535.3,177.0 C536.6,185.0 536.4,181.0 536.5,189.0 C536.5,197.0 536.7,193.0 535.5,201.0 C534.4,209.0 534.8,205.0 532.9,213.0 C531.0,221.0 531.6,217.0 529.8,225.0 C528.0,233.0 528.4,229.0 527.5,237.0 C526.7,245.0 526.8,241.0 527.2,249.0 C527.6,257.0 527.3,253.0 528.8,261.0 C530.3,269.0 529.8,265.0 531.6,273.0 C533.4,281.0 533.0,277.0 534.2,285.0 C535.4,293.0 535.2,289.0 535.3,297.0 C535.3,305.0 534.6,305.0 534.3,309.0" fill="none" stroke="#f480d8" stroke-width="2.2" stroke-linecap="round" opacity="0.9"/><path d="M534.5,157.0 C535.2,161.0 535.2,161.0 536.4,169.0 C537.7,177.0 537.4,173.0 538.2,181.0 C539.1,189.0 539.0,185.0 539.0,193.0 C539.0,201.0 539.1,197.0 538.3,205.0 C537.4,213.0 537.0,213.0 536.4,217.0" fill="none" stroke="#fee2f9" stroke-width="3.6" stroke-linecap="round" opacity="1"/><path d="M561.2,162.0 C561.2,166.0 561.3,166.0 561.3,174.0 C561.3,182.0 561.2,182.0 561.1,186.0" fill="none" stroke="#fcb9f4" stroke-width="2.6" stroke-linecap="round" opacity="0.9"/><path d="M547.6,249.6 C548.3,253.6 547.8,253.6 549.7,261.6 C551.6,269.6 551.3,265.6 553.3,273.6 C555.3,281.6 555.1,277.6 555.8,285.6 C556.5,293.6 555.6,293.6 555.5,297.6" fill="none" stroke="#fee2f9" stroke-width="3.5" stroke-linecap="round" opacity="0.95"/><path d="M550.5,232.3 C550.0,236.3 549.4,236.3 548.9,244.3 C548.5,252.3 548.4,248.3 549.3,256.3 C550.1,264.3 550.8,264.3 551.6,268.3" fill="none" stroke="#f480d8" stroke-width="2.1" stroke-linecap="round" opacity="0.85"/><path d="M568.9,153.0 C568.0,157.0 568.1,157.0 566.1,165.0 C564.1,173.0 564.7,169.0 562.9,177.0 C561.1,185.0 561.5,181.0 560.7,189.0 C559.8,197.0 559.9,193.0 560.4,201.0 C560.8,209.0 560.5,205.0 561.9,213.0 C563.2,221.0 562.8,217.0 564.4,225.0 C565.9,233.0 565.6,229.0 566.5,237.0 C567.5,245.0 567.4,241.0 567.1,249.0 C566.9,257.0 567.2,253.0 565.8,261.0 C564.3,269.0 564.9,265.0 562.9,273.0 C560.9,281.0 561.5,277.0 559.7,285.0 C557.9,293.0 558.3,289.0 557.5,297.0 C556.7,305.0 557.3,305.0 557.3,309.0" fill="none" stroke="#f480d8" stroke-width="2.2" stroke-linecap="round" opacity="0.9"/><path d="M571.8,157.0 C571.1,161.0 571.2,161.0 569.7,169.0 C568.3,177.0 568.8,173.0 567.5,181.0 C566.2,189.0 566.5,185.0 565.9,193.0 C565.3,201.0 565.4,197.0 565.7,205.0 C565.9,213.0 565.8,209.0 566.7,217.0 C567.7,225.0 567.9,225.0 568.5,229.0" fill="none" stroke="#fee2f9" stroke-width="3.6" stroke-linecap="round" opacity="1"/><path d="M584.5,162.0 C584.2,166.0 584.1,166.0 583.6,174.0 C583.0,182.0 583.1,182.0 582.8,186.0" fill="none" stroke="#fcb9f4" stroke-width="2.6" stroke-linecap="round" opacity="0.9"/><path d="M587.4,237.2 C587.2,241.2 587.8,241.2 586.6,249.2 C585.3,257.2 585.6,253.2 583.7,261.2 C581.8,269.2 582.0,265.2 580.9,273.2 C579.8,281.2 580.5,281.2 580.3,285.2" fill="none" stroke="#fee2f9" stroke-width="3.6" stroke-linecap="round" opacity="0.95"/><path d="M586.9,247.3 C586.5,251.3 587.1,251.3 585.8,259.3 C584.6,267.3 584.8,263.3 583.2,271.3 C581.6,279.3 581.8,279.3 581.1,283.3" fill="none" stroke="#f480d8" stroke-width="2.0" stroke-linecap="round" opacity="0.85"/><path d="M584.5,259.6 C584.7,263.6 585.2,263.6 585.2,271.6 C585.2,279.6 584.7,279.6 584.5,283.6" fill="none" stroke="#fee2f9" stroke-width="2.8" stroke-linecap="round" opacity="0.9"/><path d="M563.5,153.0 C564.5,157.0 564.7,157.0 566.5,165.0 C568.2,173.0 567.8,169.0 568.8,177.0 C569.7,185.0 569.6,181.0 569.2,189.0 C568.8,197.0 569.2,193.0 567.6,201.0 C565.9,209.0 566.5,205.0 564.4,213.0 C562.3,221.0 562.9,217.0 561.2,225.0 C559.6,233.0 559.9,229.0 559.4,237.0 C558.9,245.0 558.9,241.0 559.7,249.0 C560.6,257.0 560.2,253.0 561.9,261.0 C563.7,269.0 563.2,265.0 564.9,273.0 C566.7,281.0 566.3,277.0 567.2,285.0 C568.1,293.0 568.1,289.0 567.6,297.0 C567.2,305.0 566.5,305.0 565.9,309.0" fill="none" stroke="#f480d8" stroke-width="2.2" stroke-linecap="round" opacity="0.9"/><path d="M567.8,157.0 C568.5,161.0 568.6,161.0 569.9,169.0 C571.1,177.0 570.8,173.0 571.4,181.0 C572.1,189.0 572.0,185.0 571.7,193.0 C571.4,201.0 571.7,197.0 570.5,205.0 C569.4,213.0 569.0,213.0 568.3,217.0" fill="none" stroke="#fee2f9" stroke-width="3.6" stroke-linecap="round" opacity="1"/><path d="M584.9,162.0 C584.9,166.0 585.1,166.0 585.0,174.0 C585.0,182.0 585.1,178.0 584.9,186.0 C584.6,194.0 584.5,194.0 584.3,198.0" fill="none" stroke="#fcb9f4" stroke-width="2.6" stroke-linecap="round" opacity="0.9"/><path d="M579.1,238.6 C579.0,242.6 579.7,242.6 579.0,250.6 C578.2,258.6 578.5,254.6 576.9,262.6 C575.3,270.6 575.6,266.6 574.1,274.6 C572.5,282.6 572.8,278.6 572.2,286.6 C571.7,294.6 572.3,294.6 572.4,298.6" fill="none" stroke="#fee2f9" stroke-width="2.7" stroke-linecap="round" opacity="0.95"/><path d="M579.6,246.1 C579.2,250.1 579.8,250.1 578.5,258.1 C577.2,266.1 577.5,262.1 575.7,270.1 C573.9,278.1 573.9,278.1 573.0,282.1" fill="none" stroke="#f480d8" stroke-width="2.1" stroke-linecap="round" opacity="0.85"/><path d="M590.3,153.0 C591.1,157.0 591.7,157.0 592.6,165.0 C593.6,173.0 593.5,169.0 593.2,177.0 C592.8,185.0 593.2,181.0 591.6,189.0 C590.0,197.0 590.6,193.0 588.4,201.0 C586.2,209.0 586.8,205.0 585.0,213.0 C583.1,221.0 583.5,217.0 582.8,225.0 C582.0,233.0 582.1,229.0 582.7,237.0 C583.3,245.0 583.0,241.0 584.6,249.0 C586.2,257.0 585.7,253.0 587.4,261.0 C589.1,269.0 588.8,265.0 589.7,273.0 C590.6,281.0 590.6,277.0 590.2,285.0 C589.8,293.0 590.2,289.0 588.6,297.0 C586.9,305.0 586.4,305.0 585.3,309.0" fill="none" stroke="#f480d8" stroke-width="2.2" stroke-linecap="round" opacity="0.9"/><path d="M593.8,157.0 C594.3,161.0 594.7,161.0 595.4,169.0 C596.0,177.0 596.0,173.0 595.7,181.0 C595.5,189.0 595.7,185.0 594.6,193.0 C593.5,201.0 593.9,197.0 592.3,205.0 C590.8,213.0 591.2,209.0 589.9,217.0 C588.6,225.0 588.9,225.0 588.4,229.0" fill="none" stroke="#fee2f9" stroke-width="3.6" stroke-linecap="round" opacity="1"/><path d="M608.9,162.0 C608.9,166.0 609.0,166.0 608.7,174.0 C608.4,182.0 608.6,178.0 608.1,186.0 C607.6,194.0 607.5,194.0 607.3,198.0" fill="none" stroke="#fcb9f4" stroke-width="2.6" stroke-linecap="round" opacity="0.9"/><path d="M595.5,233.5 C595.9,237.5 595.1,237.5 596.8,245.5 C598.6,253.5 598.0,249.5 600.7,257.5 C603.5,265.5 602.8,261.5 605.1,269.5 C607.3,277.5 606.9,273.5 607.4,281.5 C608.0,289.5 606.9,289.5 606.7,293.5" fill="none" stroke="#fee2f9" stroke-width="3.1" stroke-linecap="round" opacity="0.95"/><path d="M610.0,256.0 C609.0,260.0 608.8,260.0 607.1,268.0 C605.5,276.0 605.7,272.0 604.9,280.0 C604.1,288.0 604.1,284.0 604.7,292.0 C605.3,300.0 606.1,300.0 606.7,304.0" fill="none" stroke="#f480d8" stroke-width="2.5" stroke-linecap="round" opacity="0.85"/><path d="M602.3,265.8 C602.9,269.8 603.5,269.8 604.3,277.8 C605.0,285.8 604.4,285.8 604.5,289.8" fill="none" stroke="#fee2f9" stroke-width="2.7" stroke-linecap="round" opacity="0.9"/><path d="M608.3,153.0 C608.7,157.0 608.1,157.0 609.3,165.0 C610.5,173.0 610.0,169.0 612.0,177.0 C614.0,185.0 613.4,181.0 615.3,189.0 C617.2,197.0 616.8,193.0 617.8,201.0 C618.8,209.0 618.6,205.0 618.3,213.0 C618.0,221.0 618.2,217.0 616.8,225.0 C615.4,233.0 615.9,229.0 614.1,237.0 C612.3,245.0 612.8,241.0 611.5,249.0 C610.3,257.0 610.5,253.0 610.4,261.0 C610.4,269.0 610.2,265.0 611.4,273.0 C612.7,281.0 612.1,277.0 614.2,285.0 C616.2,293.0 615.6,289.0 617.5,297.0 C619.4,305.0 619.1,305.0 619.9,309.0" fill="none" stroke="#f480d8" stroke-width="2.2" stroke-linecap="round" opacity="0.9"/><path d="M613.5,157.0 C613.7,161.0 613.3,161.0 614.2,169.0 C615.1,177.0 614.7,173.0 616.2,181.0 C617.7,189.0 617.2,185.0 618.6,193.0 C620.0,201.0 619.8,201.0 620.4,205.0" fill="none" stroke="#fee2f9" stroke-width="3.6" stroke-linecap="round" opacity="1"/><path d="M630.9,162.0 C631.0,166.0 631.0,166.0 631.3,174.0 C631.5,182.0 631.4,178.0 631.6,186.0 C631.8,194.0 631.8,194.0 631.8,198.0" fill="none" stroke="#fcb9f4" stroke-width="2.6" stroke-linecap="round" opacity="0.9"/><path d="M622.9,225.5 C621.5,229.5 621.4,229.5 618.7,237.5 C615.9,245.5 616.6,241.5 614.5,249.5 C612.5,257.5 612.9,253.5 612.6,261.5 C612.2,269.5 613.2,269.5 613.5,273.5" fill="none" stroke="#fee2f9" stroke-width="3.3" stroke-linecap="round" opacity="0.95"/><path d="M628.9,233.8 C628.3,237.8 628.9,237.8 627.3,245.8 C625.6,253.8 626.2,249.8 623.8,257.8 C621.4,265.8 621.3,265.8 620.1,269.8" fill="none" stroke="#f480d8" stroke-width="2.5" stroke-linecap="round" opacity="0.85"/><path d="M632.4,153.0 C632.1,157.0 631.4,157.0 631.7,165.0 C632.0,173.0 631.7,169.0 633.3,177.0 C634.9,185.0 634.4,181.0 636.5,189.0 C638.6,197.0 638.0,193.0 639.6,201.0 C641.3,209.0 641.0,205.0 641.3,213.0 C641.6,221.0 641.8,217.0 640.6,225.0 C639.5,233.0 640.0,229.0 637.9,237.0 C635.8,245.0 636.4,241.0 634.4,249.0 C632.3,257.0 632.8,253.0 631.7,261.0 C630.6,269.0 630.7,265.0 631.0,273.0 C631.4,281.0 631.1,277.0 632.7,285.0 C634.3,293.0 633.8,289.0 635.9,297.0 C638.0,305.0 638.0,305.0 639.1,309.0" fill="none" stroke="#f480d8" stroke-width="2.2" stroke-linecap="round" opacity="0.9"/><path d="M637.5,157.0 C637.3,161.0 636.8,161.0 637.0,169.0 C637.2,177.0 637.0,173.0 638.1,181.0 C639.2,189.0 638.8,185.0 640.3,193.0 C641.8,201.0 641.4,197.0 642.5,205.0 C643.6,213.0 643.5,209.0 643.7,217.0 C643.9,225.0 643.4,225.0 643.2,229.0" fill="none" stroke="#fee2f9" stroke-width="3.6" stroke-linecap="round" opacity="1"/><path d="M655.8,162.0 C655.9,166.0 655.8,166.0 655.9,174.0 C656.0,182.0 656.1,182.0 656.2,186.0" fill="none" stroke="#fcb9f4" stroke-width="2.6" stroke-linecap="round" opacity="0.9"/><path d="M648.7,237.9 C648.9,241.9 648.4,241.9 649.4,249.9 C650.3,257.9 650.2,253.9 651.6,261.9 C653.0,269.9 652.8,265.9 653.6,273.9 C654.4,281.9 654.5,277.9 654.0,285.9 C653.4,293.9 652.7,293.9 652.0,297.9" fill="none" stroke="#fee2f9" stroke-width="3.1" stroke-linecap="round" opacity="0.95"/><path d="M659.5,225.0 C658.5,229.0 658.8,229.0 656.6,237.0 C654.3,245.0 655.0,241.0 652.8,249.0 C650.6,257.0 650.9,257.0 649.9,261.0" fill="none" stroke="#f480d8" stroke-width="2.5" stroke-linecap="round" opacity="0.85"/><path d="M664.3,153.0 C663.5,157.0 663.4,157.0 661.8,165.0 C660.1,173.0 660.5,169.0 659.3,177.0 C658.1,185.0 658.3,181.0 658.2,189.0 C658.0,197.0 657.9,193.0 658.9,201.0 C659.9,209.0 659.4,205.0 661.2,213.0 C662.9,221.0 662.3,217.0 664.0,225.0 C665.6,233.0 665.2,229.0 666.0,237.0 C666.9,245.0 666.8,241.0 666.4,249.0 C666.1,257.0 666.3,253.0 665.0,261.0 C663.6,269.0 664.1,265.0 662.4,273.0 C660.7,281.0 661.2,277.0 660.0,285.0 C658.8,293.0 659.0,289.0 658.9,297.0 C658.7,305.0 659.4,305.0 659.6,309.0" fill="none" stroke="#f480d8" stroke-width="2.2" stroke-linecap="round" opacity="0.9"/><path d="M667.4,157.0 C666.8,161.0 666.8,161.0 665.7,169.0 C664.5,177.0 664.8,173.0 664.0,181.0 C663.2,189.0 663.3,185.0 663.2,193.0 C663.1,201.0 663.6,201.0 663.8,205.0" fill="none" stroke="#fee2f9" stroke-width="3.6" stroke-linecap="round" opacity="1"/><path d="M681.7,162.0 C681.4,166.0 681.3,166.0 680.7,174.0 C680.2,182.0 680.3,182.0 680.1,186.0" fill="none" stroke="#fcb9f4" stroke-width="2.6" stroke-linecap="round" opacity="0.9"/><path d="M677.1,230.6 C678.6,234.6 679.1,234.6 681.6,242.6 C684.2,250.6 683.8,246.6 684.8,254.6 C685.9,262.6 685.9,258.6 684.7,266.6 C683.6,274.6 682.5,274.6 681.4,278.6" fill="none" stroke="#fee2f9" stroke-width="2.8" stroke-linecap="round" opacity="0.95"/><path d="M668.2,259.1 C668.7,263.1 668.4,263.1 669.6,271.1 C670.9,279.1 670.6,275.1 672.0,283.1 C673.3,291.1 673.2,287.1 673.6,295.1 C674.1,303.1 673.5,303.1 673.4,307.1" fill="none" stroke="#f480d8" stroke-width="2.2" stroke-linecap="round" opacity="0.85"/><path d="M684.8,279.9 C685.2,283.9 685.8,283.9 685.8,291.9 C685.8,299.9 685.2,299.9 684.8,303.9" fill="none" stroke="#fee2f9" stroke-width="2.0" stroke-linecap="round" opacity="0.9"/><path d="M690.0,153.0 C690.6,157.0 691.3,157.0 691.6,165.0 C691.9,173.0 692.0,169.0 690.9,177.0 C689.8,185.0 690.3,181.0 688.3,189.0 C686.3,197.0 686.9,193.0 684.9,201.0 C682.8,209.0 683.4,205.0 682.2,213.0 C681.0,221.0 681.2,217.0 681.4,225.0 C681.6,233.0 681.3,229.0 682.8,237.0 C684.2,245.0 683.7,241.0 685.6,249.0 C687.6,257.0 687.1,253.0 688.5,261.0 C690.0,269.0 689.8,265.0 690.0,273.0 C690.3,281.0 690.5,277.0 689.3,285.0 C688.2,293.0 688.7,289.0 686.7,297.0 C684.7,305.0 684.4,305.0 683.3,309.0" fill="none" stroke="#f480d8" stroke-width="2.2" stroke-linecap="round" opacity="0.9"/><path d="M693.0,157.0 C693.3,161.0 693.8,161.0 694.0,169.0 C694.2,177.0 694.3,173.0 693.6,181.0 C692.8,189.0 693.1,185.0 691.7,193.0 C690.3,201.0 690.7,197.0 689.3,205.0 C687.9,213.0 688.2,209.0 687.4,217.0 C686.5,225.0 687.0,225.0 686.8,229.0" fill="none" stroke="#fee2f9" stroke-width="3.6" stroke-linecap="round" opacity="1"/><path d="M708.5,162.0 C708.3,166.0 708.4,166.0 708.0,174.0 C707.6,182.0 707.8,178.0 707.3,186.0 C706.7,194.0 706.9,190.0 706.4,198.0 C705.8,206.0 705.8,206.0 705.5,210.0" fill="none" stroke="#fcb9f4" stroke-width="2.6" stroke-linecap="round" opacity="0.9"/><path d="M705.0,225.8 C703.3,229.8 702.9,229.8 699.8,237.8 C696.8,245.8 697.4,241.8 695.8,249.8 C694.2,257.8 694.4,253.8 695.0,261.8 C695.5,269.8 695.3,265.8 697.5,273.8 C699.6,281.8 700.1,281.8 701.4,285.8" fill="none" stroke="#fee2f9" stroke-width="2.8" stroke-linecap="round" opacity="0.95"/><path d="M700.1,251.3 C700.0,255.3 700.6,255.3 699.8,263.3 C699.1,271.3 699.3,267.3 697.9,275.3 C696.6,283.3 696.5,283.3 695.8,287.3" fill="none" stroke="#f480d8" stroke-width="2.4" stroke-linecap="round" opacity="0.85"/><path d="M705.2,277.1 C705.2,281.1 705.4,281.1 705.0,289.1 C704.6,297.1 704.4,297.1 704.0,301.1" fill="none" stroke="#fee2f9" stroke-width="2.5" stroke-linecap="round" opacity="0.9"/><path d="M716.8,153.0 C716.2,157.0 716.6,157.0 714.9,165.0 C713.1,173.0 713.8,169.0 711.6,177.0 C709.3,185.0 710.0,181.0 708.2,189.0 C706.5,197.0 706.9,193.0 706.3,201.0 C705.7,209.0 705.7,205.0 706.4,213.0 C707.2,221.0 706.9,217.0 708.5,225.0 C710.1,233.0 709.7,229.0 711.2,237.0 C712.8,245.0 712.5,241.0 713.3,249.0 C714.0,257.0 714.0,253.0 713.4,261.0 C712.8,269.0 713.2,265.0 711.4,273.0 C709.6,281.0 710.3,277.0 708.1,285.0 C705.9,293.0 706.5,289.0 704.8,297.0 C703.0,305.0 703.5,305.0 702.9,309.0" fill="none" stroke="#f480d8" stroke-width="2.2" stroke-linecap="round" opacity="0.9"/><path d="M719.3,157.0 C718.8,161.0 719.1,161.0 717.9,169.0 C716.6,177.0 717.1,173.0 715.5,181.0 C714.0,189.0 714.4,185.0 713.2,193.0 C711.9,201.0 712.2,197.0 711.8,205.0 C711.4,213.0 711.4,209.0 711.9,217.0 C712.4,225.0 712.8,225.0 713.3,229.0" fill="none" stroke="#fee2f9" stroke-width="3.6" stroke-linecap="round" opacity="1"/><path d="M733.0,162.0 C732.7,166.0 732.6,166.0 732.0,174.0 C731.4,182.0 731.6,178.0 731.1,186.0 C730.6,194.0 730.7,194.0 730.4,198.0" fill="none" stroke="#fcb9f4" stroke-width="2.6" stroke-linecap="round" opacity="0.9"/><path d="M730.2,236.9 C729.4,240.9 730.0,240.9 727.7,248.9 C725.4,256.9 726.1,252.9 723.4,260.9 C720.7,268.9 720.9,268.9 719.6,272.9" fill="none" stroke="#fee2f9" stroke-width="3.4" stroke-linecap="round" opacity="0.95"/><path d="M722.1,235.6 C721.7,239.6 722.2,239.6 720.9,247.6 C719.6,255.6 720.0,251.6 718.4,259.6 C716.8,267.6 717.0,263.6 716.1,271.6 C715.2,279.6 715.7,279.6 715.5,283.6" fill="none" stroke="#f480d8" stroke-width="1.9" stroke-linecap="round" opacity="0.85"/><path d="M737.2,153.0 C738.0,157.0 738.3,157.0 739.4,165.0 C740.6,173.0 740.4,169.0 740.7,177.0 C741.0,185.0 741.1,181.0 740.4,189.0 C739.8,197.0 740.1,193.0 738.7,201.0 C737.4,209.0 737.8,205.0 736.4,213.0 C735.0,221.0 735.3,217.0 734.5,225.0 C733.7,233.0 733.8,229.0 733.9,237.0 C734.0,245.0 733.9,241.0 734.9,249.0 C735.9,257.0 735.5,253.0 737.0,261.0 C738.4,269.0 738.0,265.0 739.1,273.0 C740.3,281.0 740.1,277.0 740.4,285.0 C740.7,293.0 740.8,289.0 740.1,297.0 C739.4,305.0 738.9,305.0 738.4,309.0" fill="none" stroke="#f480d8" stroke-width="2.2" stroke-linecap="round" opacity="0.9"/><path d="M741.1,157.0 C741.6,161.0 741.8,161.0 742.6,169.0 C743.4,177.0 743.3,173.0 743.5,181.0 C743.8,189.0 743.8,185.0 743.3,193.0 C742.9,201.0 743.1,197.0 742.1,205.0 C741.2,213.0 741.5,209.0 740.5,217.0 C739.5,225.0 739.6,225.0 739.2,229.0" fill="none" stroke="#fee2f9" stroke-width="3.6" stroke-linecap="round" opacity="1"/><path d="M758.7,162.0 C758.6,166.0 758.7,166.0 758.6,174.0 C758.4,182.0 758.5,178.0 758.1,186.0 C757.7,194.0 757.6,194.0 757.4,198.0" fill="none" stroke="#fcb9f4" stroke-width="2.6" stroke-linecap="round" opacity="0.9"/><path d="M752.3,236.0 C751.6,240.0 750.6,240.0 750.4,248.0 C750.1,256.0 750.0,252.0 751.4,260.0 C752.8,268.0 752.5,264.0 754.6,272.0 C756.8,280.0 756.8,280.0 757.9,284.0" fill="none" stroke="#fee2f9" stroke-width="3.3" stroke-linecap="round" opacity="0.95"/><path d="M750.5,244.1 C750.3,248.1 749.4,248.1 749.8,256.1 C750.3,264.1 750.0,260.1 751.9,268.1 C753.8,276.1 753.3,272.1 755.5,280.1 C757.7,288.1 757.5,288.1 758.5,292.1" fill="none" stroke="#f480d8" stroke-width="2.6" stroke-linecap="round" opacity="0.85"/><path d="M756.9,259.1 C756.4,263.1 756.2,263.1 755.4,271.1 C754.7,279.1 755.0,279.1 754.7,283.1" fill="none" stroke="#fee2f9" stroke-width="2.6" stroke-linecap="round" opacity="0.9"/><path d="M759.1,153.0 C759.5,157.0 759.2,157.0 760.5,165.0 C761.8,173.0 761.4,169.0 763.0,177.0 C764.6,185.0 764.2,181.0 765.3,189.0 C766.5,197.0 766.3,193.0 766.4,201.0 C766.5,209.0 766.7,205.0 765.7,213.0 C764.8,221.0 765.2,217.0 763.6,225.0 C762.0,233.0 762.5,229.0 761.0,237.0 C759.5,245.0 759.9,241.0 759.2,249.0 C758.5,257.0 758.5,253.0 759.0,261.0 C759.4,269.0 759.1,265.0 760.5,273.0 C761.8,281.0 761.4,277.0 763.0,285.0 C764.6,293.0 764.2,289.0 765.3,297.0 C766.4,305.0 766.0,305.0 766.3,309.0" fill="none" stroke="#f480d8" stroke-width="2.2" stroke-linecap="round" opacity="0.9"/><path d="M763.9,157.0 C764.3,161.0 764.0,161.0 765.0,169.0 C765.9,177.0 765.6,173.0 766.7,181.0 C767.8,189.0 767.5,185.0 768.3,193.0 C769.1,201.0 768.8,201.0 769.1,205.0" fill="none" stroke="#fee2f9" stroke-width="3.6" stroke-linecap="round" opacity="1"/><path d="M781.3,162.0 C781.5,166.0 781.5,166.0 781.7,174.0 C781.9,182.0 781.9,178.0 782.0,186.0 C782.1,194.0 782.0,194.0 782.0,198.0" fill="none" stroke="#fcb9f4" stroke-width="2.6" stroke-linecap="round" opacity="0.9"/><path d="M773.2,223.0 C772.3,227.0 771.3,227.0 770.6,235.0 C769.8,243.0 769.7,239.0 770.9,247.0 C772.1,255.0 771.5,251.0 774.2,259.0 C776.9,267.0 776.1,263.0 778.9,271.0 C781.7,279.0 781.3,279.0 782.5,283.0" fill="none" stroke="#fee2f9" stroke-width="2.8" stroke-linecap="round" opacity="0.95"/><path d="M771.5,225.7 C770.4,229.7 770.1,229.7 768.1,237.7 C766.0,245.7 766.4,241.7 765.3,249.7 C764.2,257.7 764.4,253.7 764.7,261.7 C765.0,269.7 765.7,269.7 766.2,273.7" fill="none" stroke="#f480d8" stroke-width="2.4" stroke-linecap="round" opacity="0.85"/><path d="M785.7,269.2 C785.1,273.2 785.7,273.2 784.0,281.2 C782.3,289.2 781.7,289.2 780.6,293.2" fill="none" stroke="#fee2f9" stroke-width="2.2" stroke-linecap="round" opacity="0.9"/><path d="M777.5,153.0 C778.3,157.0 778.8,157.0 779.8,165.0 C780.9,173.0 780.7,169.0 780.6,177.0 C780.5,185.0 780.7,181.0 779.6,189.0 C778.5,197.0 778.9,193.0 777.2,201.0 C775.6,209.0 776.1,205.0 774.8,213.0 C773.5,221.0 773.7,217.0 773.4,225.0 C773.0,233.0 772.9,229.0 773.8,237.0 C774.6,245.0 774.2,241.0 775.8,249.0 C777.4,257.0 776.9,253.0 778.6,261.0 C780.3,269.0 779.9,265.0 780.9,273.0 C781.9,281.0 781.7,277.0 781.6,285.0 C781.5,293.0 781.7,289.0 780.5,297.0 C779.4,305.0 779.0,305.0 778.2,309.0" fill="none" stroke="#f480d8" stroke-width="2.2" stroke-linecap="round" opacity="0.9"/><path d="M781.0,157.0 C781.6,161.0 781.9,161.0 782.7,169.0 C783.4,177.0 783.3,173.0 783.2,181.0 C783.2,189.0 783.3,185.0 782.5,193.0 C781.8,201.0 782.0,197.0 780.9,205.0 C779.8,213.0 779.8,213.0 779.2,217.0" fill="none" stroke="#fee2f9" stroke-width="3.6" stroke-linecap="round" opacity="1"/><path d="M796.6,162.0 C796.5,166.0 796.7,166.0 796.3,174.0 C796.0,182.0 795.9,182.0 795.6,186.0" fill="none" stroke="#fcb9f4" stroke-width="2.6" stroke-linecap="round" opacity="0.9"/><path d="M793.5,224.5 C793.0,228.5 793.5,228.5 791.9,236.5 C790.3,244.5 790.8,240.5 788.6,248.5 C786.4,256.5 786.9,252.5 785.3,260.5 C783.6,268.5 783.9,264.5 783.6,272.5 C783.3,280.5 784.1,280.5 784.4,284.5" fill="none" stroke="#fee2f9" stroke-width="3.3" stroke-linecap="round" opacity="0.95"/><path d="M796.4,254.1 C795.3,258.1 795.4,258.1 793.2,266.1 C790.9,274.1 791.5,270.1 789.6,278.1 C787.7,286.1 788.2,286.1 787.5,290.1" fill="none" stroke="#f480d8" stroke-width="2.6" stroke-linecap="round" opacity="0.85"/><path d="M789.2,274.0 C788.7,278.0 788.5,278.0 787.8,286.0 C787.2,294.0 787.4,294.0 787.2,298.0" fill="none" stroke="#fee2f9" stroke-width="2.0" stroke-linecap="round" opacity="0.9"/><path d="M805.6,153.0 C805.1,157.0 805.8,157.0 804.2,165.0 C802.7,173.0 803.3,169.0 801.0,177.0 C798.7,185.0 799.4,181.0 797.2,189.0 C795.0,197.0 795.6,193.0 794.5,201.0 C793.4,209.0 793.6,205.0 794.0,213.0 C794.4,221.0 794.2,217.0 795.8,225.0 C797.4,233.0 796.9,229.0 798.8,237.0 C800.8,245.0 800.3,241.0 801.6,249.0 C802.8,257.0 802.7,253.0 802.6,261.0 C802.5,269.0 802.8,265.0 801.2,273.0 C799.7,281.0 800.3,277.0 797.9,285.0 C795.6,293.0 796.3,289.0 794.2,297.0 C792.0,305.0 792.4,305.0 791.5,309.0" fill="none" stroke="#f480d8" stroke-width="2.2" stroke-linecap="round" opacity="0.9"/><path d="M807.8,157.0 C807.5,161.0 808.0,161.0 806.8,169.0 C805.7,177.0 806.2,173.0 804.4,181.0 C802.7,189.0 803.3,185.0 801.7,193.0 C800.1,201.0 800.5,197.0 799.7,205.0 C798.9,213.0 799.4,213.0 799.2,217.0" fill="none" stroke="#fee2f9" stroke-width="3.6" stroke-linecap="round" opacity="1"/><path d="M815.9,162.0 C815.6,166.0 815.6,166.0 815.0,174.0 C814.3,182.0 814.3,182.0 814.0,186.0" fill="none" stroke="#fcb9f4" stroke-width="2.6" stroke-linecap="round" opacity="0.9"/><path d="M803.7,224.1 C804.2,228.1 803.3,228.1 805.4,236.1 C807.5,244.1 806.8,240.1 810.0,248.1 C813.1,256.1 813.3,256.1 814.9,260.1" fill="none" stroke="#fee2f9" stroke-width="2.8" stroke-linecap="round" opacity="0.95"/><path d="M804.9,245.4 C805.8,249.4 805.9,249.4 807.6,257.4 C809.2,265.4 809.0,261.4 810.0,269.4 C810.9,277.4 810.3,277.4 810.4,281.4" fill="none" stroke="#f480d8" stroke-width="2.1" stroke-linecap="round" opacity="0.85"/><path d="M818.0,153.0 C817.6,157.0 817.1,157.0 816.8,165.0 C816.5,173.0 816.4,169.0 817.1,177.0 C817.8,185.0 817.5,181.0 818.8,189.0 C820.1,197.0 819.7,193.0 821.0,201.0 C822.3,209.0 822.0,205.0 822.7,213.0 C823.3,221.0 823.3,217.0 823.0,225.0 C822.7,233.0 822.9,229.0 821.7,237.0 C820.5,245.0 821.0,241.0 819.4,249.0 C817.9,257.0 818.3,253.0 817.2,261.0 C816.0,269.0 816.3,265.0 816.0,273.0 C815.7,281.0 815.6,277.0 816.3,285.0 C817.0,293.0 816.7,289.0 818.0,297.0 C819.3,305.0 819.5,305.0 820.3,309.0" fill="none" stroke="#f480d8" stroke-width="2.2" stroke-linecap="round" opacity="0.9"/><path d="M822.5,157.0 C822.2,161.0 821.8,161.0 821.6,169.0 C821.4,177.0 821.3,173.0 821.8,181.0 C822.2,189.0 822.1,185.0 823.0,193.0 C823.9,201.0 823.6,197.0 824.5,205.0 C825.4,213.0 825.3,213.0 825.7,217.0" fill="none" stroke="#fee2f9" stroke-width="3.6" stroke-linecap="round" opacity="1"/><path d="M838.4,162.0 C838.4,166.0 838.3,166.0 838.3,174.0 C838.2,182.0 838.3,182.0 838.4,186.0" fill="none" stroke="#fcb9f4" stroke-width="2.6" stroke-linecap="round" opacity="0.9"/><path d="M826.4,241.5 C827.5,245.5 827.3,245.5 829.6,253.5 C831.9,261.5 831.4,257.5 833.3,265.5 C835.2,273.5 835.0,269.5 835.2,277.5 C835.5,285.5 835.7,281.5 834.2,289.5 C832.7,297.5 831.9,297.5 830.7,301.5" fill="none" stroke="#fee2f9" stroke-width="3.0" stroke-linecap="round" opacity="0.95"/><path d="M840.4,239.1 C839.5,243.1 839.7,243.1 837.7,251.1 C835.8,259.1 836.3,255.1 834.6,263.1 C832.8,271.1 833.2,267.1 832.4,275.1 C831.7,283.1 832.4,283.1 832.4,287.1" fill="none" stroke="#f480d8" stroke-width="2.2" stroke-linecap="round" opacity="0.85"/><path d="M827.7,260.4 C827.4,264.4 827.1,264.4 826.8,272.4 C826.4,280.4 826.7,280.4 826.6,284.4" fill="none" stroke="#fee2f9" stroke-width="2.5" stroke-linecap="round" opacity="0.9"/><path d="M841.8,153.0 C842.5,157.0 842.4,157.0 843.9,165.0 C845.4,173.0 845.0,169.0 846.3,177.0 C847.6,185.0 847.3,181.0 847.8,189.0 C848.2,197.0 848.3,193.0 847.6,201.0 C847.0,209.0 847.3,205.0 845.9,213.0 C844.4,221.0 844.9,217.0 843.2,225.0 C841.6,233.0 842.0,229.0 841.0,237.0 C839.9,245.0 840.1,241.0 840.0,249.0 C840.0,257.0 839.9,253.0 840.8,261.0 C841.8,269.0 841.5,265.0 843.0,273.0 C844.5,281.0 844.1,277.0 845.4,285.0 C846.6,293.0 846.4,289.0 846.8,297.0 C847.3,305.0 846.7,305.0 846.6,309.0" fill="none" stroke="#f480d8" stroke-width="2.2" stroke-linecap="round" opacity="0.9"/><path d="M846.4,157.0 C846.9,161.0 846.8,161.0 847.8,169.0 C848.9,177.0 848.6,173.0 849.5,181.0 C850.3,189.0 850.2,185.0 850.5,193.0 C850.7,201.0 850.3,201.0 850.3,205.0" fill="none" stroke="#fee2f9" stroke-width="3.6" stroke-linecap="round" opacity="1"/><path d="M865.0,162.0 C865.1,166.0 865.1,166.0 865.3,174.0 C865.4,182.0 865.4,178.0 865.4,186.0 C865.4,194.0 865.3,194.0 865.2,198.0" fill="none" stroke="#fcb9f4" stroke-width="2.6" stroke-linecap="round" opacity="0.9"/><path d="M859.4,229.7 C858.9,233.7 859.5,233.7 858.0,241.7 C856.5,249.7 856.9,245.7 854.9,253.7 C852.9,261.7 852.9,261.7 851.9,265.7" fill="none" stroke="#fee2f9" stroke-width="3.5" stroke-linecap="round" opacity="0.95"/><path d="M858.4,234.9 C859.2,238.9 859.2,238.9 860.6,246.9 C862.0,254.9 861.8,250.9 862.5,258.9 C863.3,266.9 862.8,266.9 862.9,270.9" fill="none" stroke="#f480d8" stroke-width="2.4" stroke-linecap="round" opacity="0.85"/><path d="M868.0,153.0 C868.6,157.0 868.7,157.0 870.0,165.0 C871.3,173.0 871.0,169.0 871.9,177.0 C872.8,185.0 872.7,181.0 872.6,189.0 C872.6,197.0 872.8,193.0 871.8,201.0 C870.8,209.0 871.2,205.0 869.7,213.0 C868.2,221.0 868.7,217.0 867.3,225.0 C865.9,233.0 866.2,229.0 865.6,237.0 C864.9,245.0 865.0,241.0 865.3,249.0 C865.6,257.0 865.4,253.0 866.5,261.0 C867.6,269.0 867.3,265.0 868.6,273.0 C869.9,281.0 869.6,277.0 870.5,285.0 C871.3,293.0 871.2,289.0 871.2,297.0 C871.1,305.0 870.6,305.0 870.3,309.0" fill="none" stroke="#f480d8" stroke-width="2.2" stroke-linecap="round" opacity="0.9"/><path d="M872.3,157.0 C872.8,161.0 872.8,161.0 873.7,169.0 C874.6,177.0 874.4,173.0 875.0,181.0 C875.5,189.0 875.5,185.0 875.4,193.0 C875.4,201.0 875.5,197.0 874.8,205.0 C874.1,213.0 873.8,213.0 873.3,217.0" fill="none" stroke="#fee2f9" stroke-width="3.6" stroke-linecap="round" opacity="1"/><path d="M888.4,162.0 C888.4,166.0 888.5,166.0 888.5,174.0 C888.5,182.0 888.4,182.0 888.3,186.0" fill="none" stroke="#fcb9f4" stroke-width="2.6" stroke-linecap="round" opacity="0.9"/><path d="M887.3,231.1 C888.2,235.1 889.1,235.1 889.9,243.1 C890.8,251.1 890.9,247.1 889.9,255.1 C889.0,263.1 889.4,259.1 887.2,267.1 C885.0,275.1 885.5,271.1 883.3,279.1 C881.1,287.1 881.5,287.1 880.5,291.1" fill="none" stroke="#fee2f9" stroke-width="2.8" stroke-linecap="round" opacity="0.95"/><path d="M877.9,230.6 C877.3,234.6 877.6,234.6 876.2,242.6 C874.8,250.6 875.2,246.6 873.7,254.6 C872.2,262.6 872.5,258.6 871.8,266.6 C871.1,274.6 871.6,274.6 871.6,278.6" fill="none" stroke="#f480d8" stroke-width="2.2" stroke-linecap="round" opacity="0.85"/><path d="M887.5,261.5 C887.5,265.5 888.2,265.5 887.5,273.5 C886.7,281.5 885.9,281.5 885.2,285.5" fill="none" stroke="#fee2f9" stroke-width="2.2" stroke-linecap="round" opacity="0.9"/><path d="M888.9,153.0 C889.0,157.0 888.4,157.0 889.1,165.0 C889.8,173.0 889.5,169.0 891.1,177.0 C892.6,185.0 892.2,181.0 893.8,189.0 C895.4,197.0 895.0,193.0 895.9,201.0 C896.8,209.0 896.7,205.0 896.5,213.0 C896.2,221.0 896.4,217.0 895.1,225.0 C893.7,233.0 894.2,229.0 892.4,237.0 C890.5,245.0 891.0,241.0 889.6,249.0 C888.1,257.0 888.4,253.0 887.9,261.0 C887.5,269.0 887.5,265.0 888.2,273.0 C889.0,281.0 888.6,277.0 890.2,285.0 C891.7,293.0 891.3,289.0 892.9,297.0 C894.5,305.0 894.3,305.0 895.0,309.0" fill="none" stroke="#f480d8" stroke-width="2.2" stroke-linecap="round" opacity="0.9"/><path d="M893.9,157.0 C893.9,161.0 893.5,161.0 894.0,169.0 C894.5,177.0 894.3,173.0 895.4,181.0 C896.5,189.0 896.2,185.0 897.3,193.0 C898.4,201.0 898.2,197.0 898.8,205.0 C899.4,213.0 899.3,209.0 899.1,217.0 C898.9,225.0 898.5,225.0 898.2,229.0" fill="none" stroke="#fee2f9" stroke-width="3.6" stroke-linecap="round" opacity="1"/><path d="M916.1,162.0 C916.2,166.0 916.2,166.0 916.3,174.0 C916.5,182.0 916.5,182.0 916.6,186.0" fill="none" stroke="#fcb9f4" stroke-width="2.6" stroke-linecap="round" opacity="0.9"/><path d="M905.0,231.7 C905.8,235.7 906.4,235.7 907.6,243.7 C908.8,251.7 908.6,247.7 908.5,255.7 C908.3,263.7 908.4,259.7 907.2,267.7 C905.9,275.7 905.5,275.7 904.7,279.7" fill="none" stroke="#fee2f9" stroke-width="3.2" stroke-linecap="round" opacity="0.95"/><path d="M909.8,261.1 C910.7,265.1 910.7,265.1 912.4,273.1 C914.1,281.1 913.9,277.1 914.9,285.1 C915.9,293.1 915.2,293.1 915.4,297.1" fill="none" stroke="#f480d8" stroke-width="2.4" stroke-linecap="round" opacity="0.85"/><path d="M920.6,153.0 C921.7,157.0 922.0,157.0 923.8,165.0 C925.6,173.0 925.2,169.0 926.0,177.0 C926.8,185.0 926.8,181.0 926.2,189.0 C925.5,197.0 925.9,193.0 924.0,201.0 C922.1,209.0 922.7,205.0 920.4,213.0 C918.1,221.0 918.7,217.0 917.0,225.0 C915.3,233.0 915.6,229.0 915.3,237.0 C914.9,245.0 914.8,241.0 915.9,249.0 C917.0,257.0 916.5,253.0 918.5,261.0 C920.4,269.0 919.9,265.0 921.7,273.0 C923.5,281.0 923.1,277.0 923.9,285.0 C924.6,293.0 924.6,289.0 923.9,297.0 C923.2,305.0 922.4,305.0 921.7,309.0" fill="none" stroke="#f480d8" stroke-width="2.2" stroke-linecap="round" opacity="0.9"/><path d="M924.8,157.0 C925.5,161.0 925.8,161.0 927.0,169.0 C928.2,177.0 928.0,173.0 928.5,181.0 C929.1,189.0 929.1,185.0 928.6,193.0 C928.1,201.0 928.4,197.0 927.0,205.0 C925.6,213.0 925.3,213.0 924.5,217.0" fill="none" stroke="#fee2f9" stroke-width="3.6" stroke-linecap="round" opacity="1"/><path d="M947.5,162.0 C947.5,166.0 947.6,166.0 947.4,174.0 C947.3,182.0 947.2,182.0 947.1,186.0" fill="none" stroke="#fcb9f4" stroke-width="2.6" stroke-linecap="round" opacity="0.9"/><path d="M939.9,233.0 C939.1,237.0 939.4,237.0 937.4,245.0 C935.4,253.0 935.9,249.0 933.9,257.0 C932.0,265.0 932.3,265.0 931.6,269.0" fill="none" stroke="#fee2f9" stroke-width="2.9" stroke-linecap="round" opacity="0.95"/><path d="M928.3,239.9 C927.8,243.9 927.1,243.9 926.9,251.9 C926.7,259.9 926.7,255.9 927.6,263.9 C928.5,271.9 928.4,267.9 929.6,275.9 C930.9,283.9 930.8,283.9 931.4,287.9" fill="none" stroke="#f480d8" stroke-width="1.9" stroke-linecap="round" opacity="0.85"/><path d="M934.5,258.8 C933.9,262.8 933.2,262.8 932.8,270.8 C932.3,278.8 933.0,278.8 933.1,282.8" fill="none" stroke="#fee2f9" stroke-width="2.0" stroke-linecap="round" opacity="0.9"/><path d="M954.2,153.0 C953.2,157.0 953.2,157.0 951.2,165.0 C949.2,173.0 949.8,169.0 948.2,177.0 C946.7,185.0 947.0,181.0 946.5,189.0 C946.0,197.0 946.0,193.0 946.6,201.0 C947.3,209.0 947.0,205.0 948.4,213.0 C949.8,221.0 949.4,217.0 950.8,225.0 C952.1,233.0 951.9,229.0 952.4,237.0 C953.0,245.0 953.0,241.0 952.4,249.0 C951.8,257.0 952.2,253.0 950.6,261.0 C948.9,269.0 949.5,265.0 947.5,273.0 C945.5,281.0 946.1,277.0 944.6,285.0 C943.0,293.0 943.4,289.0 942.9,297.0 C942.4,305.0 943.0,305.0 943.0,309.0" fill="none" stroke="#f480d8" stroke-width="2.2" stroke-linecap="round" opacity="0.9"/><path d="M957.3,157.0 C956.5,161.0 956.5,161.0 955.0,169.0 C953.6,177.0 954.0,173.0 952.8,181.0 C951.7,189.0 952.0,185.0 951.5,193.0 C951.0,201.0 951.1,197.0 951.5,205.0 C951.8,213.0 952.2,213.0 952.6,217.0" fill="none" stroke="#fee2f9" stroke-width="3.6" stroke-linecap="round" opacity="1"/><path d="M969.4,162.0 C969.1,166.0 969.0,166.0 968.5,174.0 C967.9,182.0 968.0,182.0 967.8,186.0" fill="none" stroke="#fcb9f4" stroke-width="2.6" stroke-linecap="round" opacity="0.9"/><path d="M967.5,238.4 C966.9,242.4 967.5,242.4 965.6,250.4 C963.6,258.4 964.3,254.4 961.7,262.4 C959.1,270.4 959.8,266.4 957.7,274.4 C955.7,282.4 956.4,282.4 955.7,286.4" fill="none" stroke="#fee2f9" stroke-width="2.9" stroke-linecap="round" opacity="0.95"/><path d="M972.6,245.9 C972.6,249.9 973.4,249.9 972.7,257.9 C971.9,265.9 972.3,261.9 970.3,269.9 C968.4,277.9 968.0,277.9 966.9,281.9" fill="none" stroke="#f480d8" stroke-width="2.3" stroke-linecap="round" opacity="0.85"/><path d="M978.2,153.0 C977.4,157.0 977.6,157.0 975.9,165.0 C974.3,173.0 974.7,169.0 973.3,177.0 C972.0,185.0 972.2,181.0 971.8,189.0 C971.5,197.0 971.3,193.0 972.3,201.0 C973.2,209.0 972.7,205.0 974.7,213.0 C976.6,221.0 976.0,217.0 978.1,225.0 C980.3,233.0 979.7,229.0 981.1,237.0 C982.6,245.0 982.3,241.0 982.5,249.0 C982.7,257.0 982.8,253.0 981.8,261.0 C980.8,269.0 981.2,265.0 979.5,273.0 C977.9,281.0 978.3,277.0 977.0,285.0 C975.6,293.0 975.8,289.0 975.5,297.0 C975.1,305.0 975.8,305.0 976.0,309.0" fill="none" stroke="#f480d8" stroke-width="2.2" stroke-linecap="round" opacity="0.9"/><path d="M981.0,157.0 C980.5,161.0 980.5,161.0 979.4,169.0 C978.4,177.0 978.6,173.0 977.7,181.0 C976.8,189.0 976.9,185.0 976.7,193.0 C976.5,201.0 976.3,197.0 977.0,205.0 C977.8,213.0 977.4,209.0 978.8,217.0 C980.2,225.0 980.4,225.0 981.2,229.0" fill="none" stroke="#fee2f9" stroke-width="3.6" stroke-linecap="round" opacity="1"/><path d="M993.5,162.0 C993.2,166.0 993.2,166.0 992.7,174.0 C992.2,182.0 992.3,178.0 992.0,186.0 C991.7,194.0 991.8,194.0 991.7,198.0" fill="none" stroke="#fcb9f4" stroke-width="2.6" stroke-linecap="round" opacity="0.9"/><path d="M984.1,233.5 C985.0,237.5 984.6,237.5 986.8,245.5 C989.0,253.5 988.4,249.5 990.7,257.5 C993.1,265.5 992.5,261.5 993.9,269.5 C995.2,277.5 994.5,277.5 994.8,281.5" fill="none" stroke="#fee2f9" stroke-width="3.0" stroke-linecap="round" opacity="0.95"/><path d="M996.5,226.4 C995.7,230.4 996.1,230.4 994.2,238.4 C992.3,246.4 992.8,242.4 990.8,250.4 C988.7,258.4 989.0,258.4 988.1,262.4" fill="none" stroke="#f480d8" stroke-width="2.6" stroke-linecap="round" opacity="0.85"/><path d="M980.9,260.7 C981.5,264.7 982.0,264.7 982.8,272.7 C983.6,280.7 983.2,280.7 983.4,284.7" fill="none" stroke="#fee2f9" stroke-width="2.3" stroke-linecap="round" opacity="0.9"/><path d="M1003.0,153.0 C1002.8,157.0 1003.3,157.0 1002.3,165.0 C1001.3,173.0 1001.7,169.0 1000.0,177.0 C998.3,185.0 998.8,181.0 997.2,189.0 C995.7,197.0 996.0,193.0 995.3,201.0 C994.7,209.0 994.7,205.0 995.3,213.0 C995.9,221.0 995.5,217.0 997.2,225.0 C998.8,233.0 998.3,229.0 1000.2,237.0 C1002.1,245.0 1001.6,241.0 1002.9,249.0 C1004.3,257.0 1004.0,253.0 1004.2,261.0 C1004.4,269.0 1004.5,265.0 1003.5,273.0 C1002.5,281.0 1002.9,277.0 1001.2,285.0 C999.5,293.0 999.9,289.0 998.4,297.0 C996.8,305.0 997.2,305.0 996.5,309.0" fill="none" stroke="#f480d8" stroke-width="2.2" stroke-linecap="round" opacity="0.9"/><path d="M1005.5,157.0 C1005.3,161.0 1005.7,161.0 1005.0,169.0 C1004.4,177.0 1004.6,173.0 1003.5,181.0 C1002.3,189.0 1002.6,185.0 1001.6,193.0 C1000.5,201.0 1000.7,197.0 1000.3,205.0 C999.8,213.0 1000.3,213.0 1000.3,217.0" fill="none" stroke="#fee2f9" stroke-width="3.6" stroke-linecap="round" opacity="1"/><path d="M1018.4,162.0 C1018.1,166.0 1018.1,166.0 1017.5,174.0 C1016.9,182.0 1017.2,178.0 1016.6,186.0 C1016.1,194.0 1016.1,194.0 1015.9,198.0" fill="none" stroke="#fcb9f4" stroke-width="2.6" stroke-linecap="round" opacity="0.9"/><path d="M1015.2,245.3 C1014.5,249.3 1014.8,249.3 1013.2,257.3 C1011.6,265.3 1011.8,261.3 1010.5,269.3 C1009.1,277.3 1009.2,273.3 1009.1,281.3 C1009.1,289.3 1009.9,289.3 1010.3,293.3" fill="none" stroke="#fee2f9" stroke-width="2.9" stroke-linecap="round" opacity="0.95"/><path d="M1009.0,250.7 C1009.6,254.7 1009.1,254.7 1010.7,262.7 C1012.3,270.7 1012.0,266.7 1013.9,274.7 C1015.7,282.7 1015.6,278.7 1016.3,286.7 C1017.0,294.7 1016.2,294.7 1016.1,298.7" fill="none" stroke="#f480d8" stroke-width="2.3" stroke-linecap="round" opacity="0.85"/><path d="M1011.7,264.2 C1010.7,268.2 1010.1,268.2 1008.7,276.2 C1007.3,284.2 1007.9,284.2 1007.6,288.2" fill="none" stroke="#fee2f9" stroke-width="2.2" stroke-linecap="round" opacity="0.9"/></g><ellipse cx="57" cy="180" rx="6.6" ry="8" fill="url(#gNuc)" stroke="#4a2aa5" stroke-width="0.6"/><ellipse cx="78.7" cy="194.7" rx="6.6" ry="8" fill="url(#gNuc)" stroke="#4a2aa5" stroke-width="0.6"/><ellipse cx="159.4" cy="182" rx="6.6" ry="8" fill="url(#gNuc)" stroke="#4a2aa5" stroke-width="0.6"/><ellipse cx="183.6" cy="194.7" rx="6.6" ry="8" fill="url(#gNuc)" stroke="#4a2aa5" stroke-width="0.6"/><ellipse cx="206.5" cy="207.4" rx="6.6" ry="8" fill="url(#gNuc)" stroke="#4a2aa5" stroke-width="0.6"/><ellipse cx="233" cy="210.7" rx="6.6" ry="8" fill="url(#gNuc)" stroke="#4a2aa5" stroke-width="0.6"/><ellipse cx="258.6" cy="182" rx="6.6" ry="8" fill="url(#gNuc)" stroke="#4a2aa5" stroke-width="0.6"/><ellipse cx="282.2" cy="194.7" rx="6.6" ry="8" fill="url(#gNuc)" stroke="#4a2aa5" stroke-width="0.6"/><ellipse cx="136" cy="209.7" rx="6.6" ry="8" fill="url(#gNuc)" stroke="#4a2aa5" stroke-width="0.6"/><ellipse cx="363" cy="181.5" rx="6.6" ry="8" fill="url(#gNuc)" stroke="#4a2aa5" stroke-width="0.6"/><ellipse cx="337.2" cy="210.7" rx="6.6" ry="8" fill="url(#gNuc)" stroke="#4a2aa5" stroke-width="0.6"/><ellipse cx="387" cy="195.4" rx="6.6" ry="8" fill="url(#gNuc)" stroke="#4a2aa5" stroke-width="0.6"/><ellipse cx="411.2" cy="207.4" rx="6.6" ry="8" fill="url(#gNuc)" stroke="#4a2aa5" stroke-width="0.6"/><ellipse cx="442.8" cy="209.7" rx="6.6" ry="8" fill="url(#gNuc)" stroke="#4a2aa5" stroke-width="0.6"/><ellipse cx="468.3" cy="181.5" rx="6.6" ry="8" fill="url(#gNuc)" stroke="#4a2aa5" stroke-width="0.6"/><ellipse cx="492.6" cy="194.7" rx="6.6" ry="8" fill="url(#gNuc)" stroke="#4a2aa5" stroke-width="0.6"/><ellipse cx="516.5" cy="207" rx="6.6" ry="8" fill="url(#gNuc)" stroke="#4a2aa5" stroke-width="0.6"/><ellipse cx="547.3" cy="210.7" rx="6.6" ry="8" fill="url(#gNuc)" stroke="#4a2aa5" stroke-width="0.6"/><ellipse cx="597.2" cy="194" rx="6.6" ry="8" fill="url(#gNuc)" stroke="#4a2aa5" stroke-width="0.6"/><ellipse cx="697.8" cy="194" rx="6.6" ry="8" fill="url(#gNuc)" stroke="#4a2aa5" stroke-width="0.6"/><ellipse cx="721.7" cy="207" rx="6.6" ry="8" fill="url(#gNuc)" stroke="#4a2aa5" stroke-width="0.6"/><ellipse cx="674.5" cy="182" rx="6.6" ry="8" fill="url(#gNuc)" stroke="#4a2aa5" stroke-width="0.6"/><ellipse cx="618" cy="210.7" rx="6.6" ry="8" fill="url(#gNuc)" stroke="#4a2aa5" stroke-width="0.6"/><ellipse cx="804.6" cy="195" rx="6.6" ry="8" fill="url(#gNuc)" stroke="#4a2aa5" stroke-width="0.6"/><ellipse cx="830.3" cy="210.9" rx="6.6" ry="8" fill="url(#gNuc)" stroke="#4a2aa5" stroke-width="0.6"/><ellipse cx="855.6" cy="182" rx="6.6" ry="8" fill="url(#gNuc)" stroke="#4a2aa5" stroke-width="0.6"/><ellipse cx="880.2" cy="195" rx="6.6" ry="8" fill="url(#gNuc)" stroke="#4a2aa5" stroke-width="0.6"/><ellipse cx="904.1" cy="207.4" rx="6.6" ry="8" fill="url(#gNuc)" stroke="#4a2aa5" stroke-width="0.6"/><ellipse cx="933.7" cy="210.9" rx="6.6" ry="8" fill="url(#gNuc)" stroke="#4a2aa5" stroke-width="0.6"/><ellipse cx="960.4" cy="182" rx="6.6" ry="8" fill="url(#gNuc)" stroke="#4a2aa5" stroke-width="0.6"/><ellipse cx="985" cy="194.3" rx="6.6" ry="8" fill="url(#gNuc)" stroke="#4a2aa5" stroke-width="0.6"/><ellipse cx="13.3" cy="256" rx="5.2" ry="6.6" fill="url(#gNuc)" stroke="#4a2aa5" stroke-width="0.6"/><ellipse cx="37.2" cy="277" rx="4.2" ry="5.4" fill="url(#gNuc)" stroke="#4a2aa5" stroke-width="0.6"/><ellipse cx="62" cy="272.8" rx="4.2" ry="5.4" fill="url(#gNuc)" stroke="#4a2aa5" stroke-width="0.6"/><ellipse cx="71.4" cy="295" rx="4.2" ry="5.4" fill="url(#gNuc)" stroke="#4a2aa5" stroke-width="0.6"/><ellipse cx="195.2" cy="259.5" rx="5.2" ry="6.6" fill="url(#gNuc)" stroke="#4a2aa5" stroke-width="0.6"/><ellipse cx="166" cy="272" rx="4.2" ry="5.4" fill="url(#gNuc)" stroke="#4a2aa5" stroke-width="0.6"/><ellipse cx="294.5" cy="259.5" rx="5.2" ry="6.6" fill="url(#gNuc)" stroke="#4a2aa5" stroke-width="0.6"/><ellipse cx="275" cy="295" rx="4.2" ry="5.4" fill="url(#gNuc)" stroke="#4a2aa5" stroke-width="0.6"/><ellipse cx="142.8" cy="281" rx="4.2" ry="5.4" fill="url(#gNuc)" stroke="#4a2aa5" stroke-width="0.6"/><ellipse cx="427.2" cy="256.2" rx="5.2" ry="6.6" fill="url(#gNuc)" stroke="#4a2aa5" stroke-width="0.6"/><ellipse cx="345.5" cy="277" rx="4.2" ry="5.4" fill="url(#gNuc)" stroke="#4a2aa5" stroke-width="0.6"/><ellipse cx="450.4" cy="276" rx="4.2" ry="5.4" fill="url(#gNuc)" stroke="#4a2aa5" stroke-width="0.6"/><ellipse cx="475.3" cy="272" rx="4.2" ry="5.4" fill="url(#gNuc)" stroke="#4a2aa5" stroke-width="0.6"/><ellipse cx="484.3" cy="295" rx="4.2" ry="5.4" fill="url(#gNuc)" stroke="#4a2aa5" stroke-width="0.6"/><ellipse cx="379.7" cy="295" rx="4.2" ry="5.4" fill="url(#gNuc)" stroke="#4a2aa5" stroke-width="0.6"/><ellipse cx="555" cy="277" rx="4.2" ry="5.4" fill="url(#gNuc)" stroke="#4a2aa5" stroke-width="0.6"/><ellipse cx="608.8" cy="258.8" rx="5.2" ry="6.6" fill="url(#gNuc)" stroke="#4a2aa5" stroke-width="0.6"/><ellipse cx="633.7" cy="256" rx="5.2" ry="6.6" fill="url(#gNuc)" stroke="#4a2aa5" stroke-width="0.6"/><ellipse cx="710" cy="258.8" rx="5.2" ry="6.6" fill="url(#gNuc)" stroke="#4a2aa5" stroke-width="0.6"/><ellipse cx="736.6" cy="256" rx="5.2" ry="6.6" fill="url(#gNuc)" stroke="#4a2aa5" stroke-width="0.6"/><ellipse cx="589.2" cy="295" rx="4.2" ry="5.4" fill="url(#gNuc)" stroke="#4a2aa5" stroke-width="0.6"/><ellipse cx="892.5" cy="259.4" rx="5.2" ry="6.6" fill="url(#gNuc)" stroke="#4a2aa5" stroke-width="0.6"/><ellipse cx="918.9" cy="255.9" rx="5.2" ry="6.6" fill="url(#gNuc)" stroke="#4a2aa5" stroke-width="0.6"/><ellipse cx="942.4" cy="277" rx="4.2" ry="5.4" fill="url(#gNuc)" stroke="#4a2aa5" stroke-width="0.6"/><ellipse cx="967.4" cy="272.4" rx="4.2" ry="5.4" fill="url(#gNuc)" stroke="#4a2aa5" stroke-width="0.6"/><ellipse cx="863.3" cy="272.4" rx="4.2" ry="5.4" fill="url(#gNuc)" stroke="#4a2aa5" stroke-width="0.6"/><ellipse cx="838" cy="277" rx="4.2" ry="5.4" fill="url(#gNuc)" stroke="#4a2aa5" stroke-width="0.6"/><ellipse cx="817" cy="253" rx="5.2" ry="6.6" fill="url(#gNuc)" stroke="#4a2aa5" stroke-width="0.6"/><ellipse cx="872.1" cy="294.6" rx="4.2" ry="5.4" fill="url(#gNuc)" stroke="#4a2aa5" stroke-width="0.6"/><ellipse cx="976.2" cy="294.6" rx="4.2" ry="5.4" fill="url(#gNuc)" stroke="#4a2aa5" stroke-width="0.6"/></g>
<path d="M8.0,148.5 C9.1,147.8 9.9,144.9 12.0,146.0 C14.1,147.1 13.7,152.7 16.0,152.8 C18.3,152.9 17.1,148.8 20.5,146.2 C23.8,143.6 23.8,143.4 28.6,143.2 C33.4,143.0 34.3,143.0 38.4,145.6 C42.5,148.2 41.5,152.6 44.0,152.8 C46.5,153.0 45.0,148.8 47.8,146.2 C50.7,143.6 50.7,143.4 54.8,143.2 C58.9,143.0 59.7,143.0 63.2,145.6 C66.7,148.2 65.8,152.6 68.0,152.8 C70.2,153.0 68.9,148.8 71.6,146.2 C74.3,143.6 74.3,143.4 78.1,143.2 C82.0,143.0 82.7,144.1 86.0,145.6 C89.3,147.1 89.3,148.1 90.5,149.0" fill="none" stroke="#24121e" stroke-width="1.1" opacity="0.85"/>
<path d="M8.0,147.5l0.0,5.8M10.0,146.2l-0.4,3.0M12.0,145.0l-0.4,2.9M14.0,148.4l-0.0,6.3M18.2,148.5l-0.2,8.0M20.5,145.2l-0.1,4.5M22.5,144.4l0.2,5.4M24.5,143.7l0.3,3.8M28.6,142.2l0.2,4.8M32.5,143.2l-0.1,5.7M34.5,143.6l-0.3,5.2M36.4,144.1l0.4,2.6M38.4,144.6l0.2,6.4M40.3,147.0l-0.1,4.2M44.0,151.8l-0.4,4.7M45.9,148.5l0.2,4.7M47.8,145.2l-0.2,6.5M49.6,144.4l-0.0,2.6M51.3,143.7l0.3,4.0M53.1,142.9l-0.1,5.9M54.8,142.2l0.5,5.0M56.9,142.8l0.0,4.1M59.0,143.4l-0.3,5.7M63.2,144.6l-0.4,3.5M65.6,148.2l0.1,5.8M68.0,151.8l-0.2,5.1M69.8,148.5l-0.1,5.4M71.6,145.2l-0.4,3.5M73.8,144.2l-0.4,6.1M76.0,143.2l0.5,3.2M80.1,142.8l0.3,4.4M82.1,143.4l0.1,4.1M84.0,144.0l-0.2,5.1M88.2,146.3l0.3,6.5" fill="none" stroke="#2a1226" stroke-width="1.0" opacity="0.9"/>
<path d="M135.2,148.5 C135.8,147.9 135.7,147.6 137.4,146.2 C139.0,144.8 139.0,143.4 141.3,143.2 C143.6,143.0 144.0,143.0 146.0,145.6 C148.0,148.2 146.9,152.6 148.7,152.8 C150.5,153.0 149.7,148.8 152.8,146.2 C155.9,143.6 155.9,143.4 160.2,143.2 C164.6,143.0 165.4,143.0 169.2,145.6 C172.9,148.2 171.9,152.6 174.3,152.8 C176.7,153.0 175.3,148.8 178.2,146.2 C181.1,143.6 181.1,143.4 185.2,143.2 C189.3,143.0 190.1,143.0 193.7,145.6 C197.2,148.2 196.2,152.6 198.5,152.8 C200.8,153.0 199.4,148.8 202.2,146.2 C205.0,143.6 205.0,143.4 209.0,143.2 C213.0,143.0 213.7,143.0 217.1,145.6 C220.6,148.2 219.5,152.6 221.8,152.8 C224.1,153.0 222.8,148.8 225.9,146.2 C228.9,143.6 228.9,143.4 233.3,143.2 C237.6,143.0 238.5,143.0 242.2,145.6 C245.9,148.2 244.9,152.6 247.3,152.8 C249.7,153.0 248.3,148.8 251.3,146.2 C254.3,143.6 254.3,143.4 258.5,143.2 C262.8,143.0 263.6,143.0 267.2,145.6 C270.9,148.2 270.1,152.6 272.2,152.8 C274.3,153.0 272.9,148.8 275.1,146.2 C277.3,143.6 277.3,143.4 280.4,143.2 C283.6,143.0 284.2,144.1 286.8,145.6 C289.5,147.1 289.5,148.1 290.5,149.0" fill="none" stroke="#24121e" stroke-width="1.1" opacity="0.85"/>
<path d="M135.2,147.5l-0.5,7.4M137.4,145.2l-0.4,3.2M139.3,143.7l-0.2,3.9M141.3,142.2l-0.3,4.6M143.6,143.4l0.0,6.3M146.0,144.6l0.2,5.7M150.7,148.5l0.5,7.8M154.7,144.4l-0.2,4.1M156.5,143.7l0.1,6.1M158.4,142.9l-0.1,3.4M162.0,142.7l-0.1,4.0M165.6,143.6l-0.2,3.8M167.4,144.1l0.2,5.5M169.2,144.6l-0.3,4.7M170.9,147.0l-0.1,2.9M172.6,149.4l0.0,6.2M174.3,151.8l0.0,6.1M176.2,148.5l0.4,8.3M178.2,145.2l-0.4,3.8M179.9,144.4l0.5,6.5M181.7,143.7l0.2,3.4M183.4,142.9l0.2,3.2M185.2,142.2l-0.3,6.3M189.4,143.4l-0.1,3.1M191.5,144.0l0.1,5.1M196.1,148.2l0.1,7.0M200.4,148.5l0.2,7.3M202.2,145.2l-0.3,4.2M204.5,144.2l0.0,4.9M206.7,143.2l-0.1,2.6M209.0,142.2l0.4,4.9M211.0,142.8l0.5,3.1M213.1,143.4l0.2,5.5M215.1,144.0l0.4,6.5M219.5,148.2l0.3,6.5M223.8,148.5l0.0,7.8M225.9,145.2l0.4,6.5M227.7,144.4l0.3,5.3M229.6,143.7l0.4,4.3M231.4,142.9l0.1,3.3M233.3,142.2l0.3,2.8M235.1,142.7l0.3,4.5M236.8,143.2l0.0,5.9M238.6,143.6l-0.3,6.1M240.4,144.1l-0.5,4.0M244.8,148.2l-0.3,7.8M253.1,144.4l0.4,3.3M254.9,143.7l0.2,5.4M256.7,142.9l-0.2,4.2M258.5,142.2l-0.2,3.8M260.2,142.7l-0.3,4.9M262.0,143.2l-0.0,3.0M263.7,143.6l0.4,3.0M265.5,144.1l-0.3,4.9M267.2,144.6l0.2,6.5M269.7,148.2l-0.1,5.9M272.2,151.8l-0.1,5.1M275.1,145.2l-0.0,5.8M278.7,143.2l-0.3,3.9M280.4,142.2l0.4,4.8M284.7,143.8l0.4,5.2M286.8,144.6l0.1,4.1M288.7,146.3l-0.1,4.3" fill="none" stroke="#2a1226" stroke-width="1.0" opacity="0.9"/>
<path d="M328.3,148.5 C329.3,147.9 329.2,147.6 332.0,146.2 C334.8,144.8 334.8,143.4 338.7,143.2 C342.7,143.0 343.5,143.0 346.9,145.6 C350.3,148.2 349.2,152.6 351.5,152.8 C353.8,153.0 352.5,148.8 355.5,146.2 C358.5,143.6 358.5,143.4 362.7,143.2 C367.0,143.0 367.8,143.0 371.4,145.6 C375.1,148.2 373.9,152.6 376.4,152.8 C378.9,153.0 377.5,148.8 381.0,146.2 C384.4,143.6 384.4,143.4 389.3,143.2 C394.2,143.0 395.1,143.0 399.3,145.6 C403.5,148.2 402.2,152.6 405.0,152.8 C407.8,153.0 406.2,148.8 409.7,146.2 C413.3,143.6 413.2,143.4 418.3,143.2 C423.3,143.0 424.3,143.0 428.6,145.6 C432.9,148.2 431.9,152.6 434.5,152.8 C437.1,153.0 435.4,148.8 438.2,146.2 C441.0,143.6 441.0,143.4 445.0,143.2 C449.0,143.0 449.7,143.0 453.1,145.6 C456.6,148.2 455.5,152.6 457.8,152.8 C460.1,153.0 458.8,148.8 461.9,146.2 C464.9,143.6 464.9,143.4 469.3,143.2 C473.6,143.0 474.5,143.0 478.2,145.6 C481.9,148.2 480.9,152.6 483.3,152.8 C485.7,153.0 484.3,148.8 487.2,146.2 C490.1,143.6 490.1,143.4 494.2,143.2 C498.4,143.0 499.2,143.0 502.7,145.6 C506.3,148.2 505.2,152.6 507.6,152.8 C510.0,153.0 508.6,148.8 511.6,146.2 C514.6,143.6 514.6,143.4 518.8,143.2 C523.1,143.0 523.9,143.0 527.5,145.6 C531.2,148.2 529.8,152.6 532.5,152.8 C535.2,153.0 533.8,148.8 537.8,146.2 C541.8,143.6 541.8,143.4 547.4,143.2 C553.1,143.0 554.2,144.1 559.1,145.6 C563.9,147.1 563.9,148.1 565.7,149.0" fill="none" stroke="#24121e" stroke-width="1.1" opacity="0.85"/>
<path d="M328.3,147.5l0.5,5.6M330.2,146.3l0.2,3.7M332.0,145.2l-0.4,3.5M334.3,144.2l-0.1,6.1M338.7,142.2l0.0,5.9M342.8,143.4l-0.1,2.9M344.8,144.0l-0.2,5.4M349.2,148.2l-0.0,4.6M351.5,151.8l-0.2,5.9M353.5,148.5l0.5,7.2M359.1,143.7l0.5,5.1M360.9,142.9l-0.1,2.8M362.7,142.2l0.5,5.1M364.4,142.7l-0.4,3.3M366.2,143.2l-0.4,4.1M367.9,143.6l0.1,3.2M369.7,144.1l0.3,5.5M371.4,144.6l-0.4,5.4M373.9,148.2l0.4,6.4M378.7,148.5l0.0,4.6M381.0,145.2l0.3,4.6M383.0,144.4l-0.4,3.7M385.1,143.7l-0.4,4.8M387.2,142.9l0.3,4.5M389.3,142.2l-0.4,3.5M391.3,142.7l0.1,3.4M399.3,144.6l0.1,4.6M403.1,149.4l-0.3,6.2M405.0,151.8l0.2,7.8M407.4,148.5l-0.5,5.1M409.7,145.2l0.5,2.9M413.1,144.0l-0.4,2.7M414.9,143.4l0.4,3.5M416.6,142.8l0.2,3.8M420.0,142.6l0.4,4.8M421.7,143.0l0.2,4.1M423.4,143.4l-0.1,3.5M425.2,143.8l-0.1,4.4M426.9,144.2l0.3,4.3M428.6,144.6l0.0,2.7M430.6,147.0l-0.4,4.1M432.5,149.4l-0.0,6.0M434.5,151.8l-0.0,5.4M436.4,148.5l0.5,4.5M438.2,145.2l0.5,2.5M440.5,144.2l-0.1,4.0M442.7,143.2l0.1,3.7M445.0,142.2l0.0,3.8M447.0,142.8l-0.4,5.5M449.1,143.4l0.3,3.5M453.1,144.6l0.2,4.1M457.8,151.8l-0.2,7.8M459.8,148.5l0.1,7.8M461.9,145.2l-0.5,2.7M463.7,144.4l0.4,5.0M465.6,143.7l0.4,5.1M467.4,142.9l-0.5,5.5M469.3,142.2l0.2,5.4M472.8,143.2l-0.1,2.8M474.6,143.6l-0.1,5.5M476.4,144.1l-0.2,4.2M478.2,144.6l-0.4,5.4M479.9,147.0l0.0,5.8M481.6,149.4l-0.2,5.0M483.3,151.8l0.4,8.3M485.2,148.5l0.0,5.3M487.2,145.2l0.4,5.9M488.9,144.4l-0.1,4.4M490.7,143.7l0.4,4.0M492.5,142.9l-0.1,4.5M494.2,142.2l0.2,5.6M495.9,142.7l-0.3,3.2M497.6,143.2l-0.2,3.9M499.3,143.6l-0.1,4.9M502.7,144.6l-0.0,3.9M505.2,148.2l0.2,8.4M507.6,151.8l0.2,5.4M509.6,148.5l-0.4,6.8M511.6,145.2l0.2,5.8M513.4,144.4l0.1,4.2M517.0,142.9l-0.3,4.3M518.8,142.2l-0.2,5.5M520.5,142.7l0.2,5.9M522.3,143.2l-0.2,4.8M527.5,144.6l-0.3,2.9M530.0,148.2l0.1,5.3M532.5,151.8l0.1,5.0M536.0,147.4l0.5,7.3M537.8,145.2l0.4,5.4M539.7,144.6l-0.3,5.4M541.7,144.0l-0.2,2.6M543.6,143.4l-0.4,3.7M545.5,142.8l-0.2,4.4M547.4,142.2l0.4,3.6M551.3,143.0l0.0,5.9M553.2,143.4l0.2,5.4M555.2,143.8l-0.2,6.2M559.1,144.6l-0.3,4.0M561.3,145.7l0.2,4.3M563.5,146.9l0.1,6.3" fill="none" stroke="#2a1226" stroke-width="1.0" opacity="0.9"/>
<path d="M589.2,148.5 C590.2,147.9 590.1,147.6 593.0,146.2 C595.8,144.8 595.8,143.4 599.8,143.2 C603.8,143.0 604.6,143.0 608.1,145.6 C611.5,148.2 610.5,152.6 612.8,152.8 C615.1,153.0 613.8,148.8 616.6,146.2 C619.5,143.6 619.5,143.4 623.6,143.2 C627.6,143.0 628.4,143.0 631.9,145.6 C635.4,148.2 634.4,152.6 636.7,152.8 C639.0,153.0 637.7,148.8 640.7,146.2 C643.8,143.6 643.7,143.4 648.0,143.2 C652.3,143.0 653.2,143.0 656.9,145.6 C660.6,148.2 659.5,152.6 661.9,152.8 C664.3,153.0 662.9,148.8 665.9,146.2 C669.0,143.6 668.9,143.4 673.2,143.2 C677.5,143.0 678.4,143.0 682.1,145.6 C685.8,148.2 684.7,152.6 687.1,152.8 C689.5,153.0 688.1,148.8 691.1,146.2 C694.2,143.6 694.1,143.4 698.4,143.2 C702.7,143.0 703.6,143.0 707.3,145.6 C711.0,148.2 709.9,152.6 712.3,152.8 C714.7,153.0 713.3,148.8 716.3,146.2 C719.4,143.6 719.3,143.4 723.6,143.2 C727.9,143.0 728.8,143.0 732.5,145.6 C736.2,148.2 735.1,152.6 737.5,152.8 C739.9,153.0 738.5,148.8 741.5,146.2 C744.6,143.6 744.5,143.4 748.8,143.2 C753.1,143.0 754.0,144.1 757.7,145.6 C761.4,147.1 761.4,148.1 762.7,149.0" fill="none" stroke="#24121e" stroke-width="1.1" opacity="0.85"/>
<path d="M589.2,147.5l0.4,5.9M593.0,145.2l0.4,5.1M594.7,144.4l-0.4,2.9M596.4,143.7l0.4,6.5M598.1,142.9l-0.4,2.7M599.8,142.2l0.5,2.6M604.0,143.4l-0.4,5.6M606.0,144.0l0.0,4.6M608.1,144.6l-0.3,3.9M610.4,148.2l-0.0,7.3M612.8,151.8l0.1,4.8M614.7,148.5l-0.4,8.4M616.6,145.2l0.2,3.7M623.6,142.2l0.1,2.6M625.6,142.8l0.1,5.2M627.7,143.4l0.0,6.2M629.8,144.0l-0.4,6.3M634.3,148.2l0.3,4.6M636.7,151.8l0.1,7.3M640.7,145.2l0.3,2.5M644.4,143.7l-0.2,4.1M646.2,142.9l-0.2,2.6M648.0,142.2l-0.2,4.8M649.8,142.7l-0.3,5.2M651.6,143.2l-0.4,6.0M653.3,143.6l0.3,3.5M655.1,144.1l0.2,3.8M656.9,144.6l-0.2,3.5M659.4,148.2l-0.3,8.0M661.9,151.8l0.2,5.7M663.9,148.5l0.0,7.2M665.9,145.2l-0.3,2.8M667.8,144.4l0.5,3.4M669.6,143.7l0.4,4.0M671.4,142.9l-0.4,6.5M673.2,142.2l-0.2,5.7M675.0,142.7l-0.2,5.7M676.8,143.2l-0.0,4.9M678.5,143.6l-0.0,5.8M680.3,144.1l0.4,4.0M682.1,144.6l0.4,3.1M689.1,148.5l0.4,5.1M691.1,145.2l0.2,3.3M693.0,144.4l0.4,6.0M694.8,143.7l-0.4,4.3M698.4,142.2l-0.2,2.8M700.2,142.7l-0.3,2.7M702.0,143.2l0.0,3.0M703.7,143.6l0.0,4.8M705.5,144.1l-0.3,6.3M707.3,144.6l0.3,2.8M709.8,148.2l-0.3,8.2M712.3,151.8l-0.2,5.8M716.3,145.2l0.3,4.3M718.2,144.4l0.4,4.4M720.0,143.7l0.3,6.4M721.8,142.9l-0.3,4.1M723.6,142.2l-0.3,3.2M725.4,142.7l0.3,2.6M727.2,143.2l-0.0,4.5M728.9,143.6l-0.2,3.2M730.7,144.1l0.1,2.7M732.5,144.6l0.1,4.0M735.0,148.2l0.4,5.8M737.5,151.8l0.0,6.8M739.5,148.5l0.4,6.3M745.2,143.7l0.5,3.2M747.0,142.9l0.2,3.7M748.8,142.2l-0.3,3.4M750.6,142.7l-0.4,6.3M752.4,143.2l0.1,5.2M755.9,144.1l-0.5,4.6M757.7,144.6l0.1,4.5M760.2,146.3l-0.4,5.0" fill="none" stroke="#2a1226" stroke-width="1.0" opacity="0.9"/>
<path d="M800.5,148.5 C801.3,147.9 801.3,147.6 803.7,146.2 C806.0,144.8 806.0,143.4 809.4,143.2 C812.7,143.0 813.4,143.0 816.3,145.6 C819.1,148.2 818.1,152.6 820.2,152.8 C822.3,153.0 821.2,148.8 824.1,146.2 C827.0,143.6 827.0,143.4 831.2,143.2 C835.3,143.0 836.1,143.0 839.7,145.6 C843.3,148.2 842.2,152.6 844.6,152.8 C847.0,153.0 845.6,148.8 848.6,146.2 C851.7,143.6 851.6,143.4 855.9,143.2 C860.2,143.0 861.1,143.0 864.8,145.6 C868.5,148.2 867.5,152.6 869.8,152.8 C872.1,153.0 870.7,148.8 873.5,146.2 C876.3,143.6 876.3,143.4 880.2,143.2 C884.1,143.0 884.9,143.0 888.3,145.6 C891.7,148.2 890.4,152.6 892.9,152.8 C895.4,153.0 894.1,148.8 897.6,146.2 C901.0,143.6 901.0,143.4 906.0,143.2 C911.0,143.0 911.9,143.0 916.2,145.6 C920.4,148.2 919.2,152.6 922.0,152.8 C924.8,153.0 923.2,148.8 926.8,146.2 C930.3,143.6 930.3,143.4 935.4,143.2 C940.4,143.0 941.4,143.0 945.8,145.6 C950.1,148.2 949.1,152.6 951.7,152.8 C954.3,153.0 952.6,148.8 955.4,146.2 C958.2,143.6 958.2,143.4 962.1,143.2 C966.0,143.0 966.8,143.0 970.2,145.6 C973.6,148.2 972.5,152.6 974.8,152.8 C977.1,153.0 975.8,148.8 978.6,146.2 C981.5,143.6 981.5,143.4 985.6,143.2 C989.6,143.0 990.4,144.1 993.9,145.6 C997.4,147.1 997.4,148.1 998.7,149.0" fill="none" stroke="#24121e" stroke-width="1.1" opacity="0.85"/>
<path d="M800.5,147.5l0.1,6.5M803.7,145.2l-0.1,6.4M805.6,144.2l-0.3,2.8M807.5,143.2l-0.2,5.8M809.4,142.2l-0.1,6.1M812.8,143.4l-0.2,4.5M814.5,144.0l-0.2,5.9M816.3,144.6l0.3,3.3M820.2,151.8l0.3,8.2M824.1,145.2l0.3,5.7M825.9,144.4l0.4,3.7M827.6,143.7l-0.2,2.6M829.4,142.9l0.4,5.7M831.2,142.2l-0.4,6.2M832.9,142.7l0.5,5.2M834.6,143.2l-0.3,6.0M836.3,143.6l0.5,5.3M838.0,144.1l0.2,5.0M842.2,148.2l0.4,7.6M846.6,148.5l-0.1,7.1M848.6,145.2l-0.3,3.9M850.5,144.4l0.2,5.7M852.3,143.7l0.0,5.6M854.1,142.9l-0.3,3.8M855.9,142.2l0.4,5.1M859.5,143.2l0.5,6.1M863.0,144.1l-0.2,5.6M864.8,144.6l-0.5,4.6M867.3,148.2l-0.0,8.0M869.8,151.8l-0.3,7.5M871.6,148.5l-0.2,6.8M873.5,145.2l-0.1,2.8M878.0,143.2l-0.1,5.1M880.2,142.2l0.5,3.4M882.2,142.8l0.2,3.0M884.2,143.4l0.1,5.5M888.3,144.6l0.5,3.5M890.6,148.2l0.3,6.6M892.9,151.8l0.1,4.7M895.2,148.5l0.2,5.6M897.6,145.2l0.1,3.8M899.7,144.4l-0.1,5.3M901.8,143.7l0.5,2.9M903.9,142.9l-0.4,6.1M906.0,142.2l-0.1,3.6M908.0,142.7l0.1,3.0M910.1,143.2l0.1,5.5M912.1,143.6l-0.5,5.2M914.1,144.1l-0.4,5.3M916.2,144.6l-0.4,4.4M918.1,147.0l-0.4,4.1M922.0,151.8l-0.2,6.4M924.4,148.5l-0.2,8.4M928.5,144.6l-0.1,4.5M930.2,144.0l0.3,6.0M931.9,143.4l-0.1,5.3M933.6,142.8l-0.2,4.2M935.4,142.2l-0.2,5.0M937.1,142.6l-0.0,5.6M938.8,143.0l-0.1,6.0M942.3,143.8l0.2,5.6M944.0,144.2l0.2,5.5M945.8,144.6l0.2,6.3M947.7,147.0l-0.3,4.2M949.7,149.4l0.5,7.6M951.7,151.8l-0.5,5.9M953.5,148.5l-0.2,6.2M955.4,145.2l-0.1,5.0M957.6,144.2l0.4,6.5M959.9,143.2l0.3,2.7M962.1,142.2l0.1,5.8M964.1,142.8l0.2,5.3M966.1,143.4l0.2,4.8M968.2,144.0l0.5,4.7M970.2,144.6l-0.2,3.0M974.8,151.8l0.0,5.6M976.7,148.5l0.1,6.5M978.6,145.2l-0.2,6.1M980.4,144.4l-0.4,5.7M982.1,143.7l0.0,4.9M983.8,142.9l0.5,6.5M985.6,142.2l-0.4,3.9M987.6,142.8l0.2,3.7M989.7,143.4l-0.2,5.8M991.8,144.0l-0.5,3.9M993.9,144.6l-0.4,4.0" fill="none" stroke="#2a1226" stroke-width="1.0" opacity="0.9"/>
<path d="M8.0,308.0 C11.0,308.2 11.0,308.6 17.0,308.7 C23.0,308.8 20.0,308.7 26.0,308.4 C32.0,308.0 29.0,307.8 35.0,307.5 C41.0,307.2 38.0,307.2 44.0,307.4 C50.0,307.6 47.0,307.7 53.0,308.2 C59.0,308.6 56.0,308.7 62.0,308.7 C68.0,308.7 65.0,308.6 71.0,308.2 C77.0,307.8 76.7,307.5 80.0,307.4 C83.3,307.3 80.7,307.8 81.0,308.0" fill="none" stroke="#b0dfea" stroke-width="3.0"/>
<path d="M8.0,308.0 C11.0,308.2 11.0,308.6 17.0,308.7 C23.0,308.8 20.0,308.7 26.0,308.4 C32.0,308.0 29.0,307.8 35.0,307.5 C41.0,307.2 38.0,307.2 44.0,307.4 C50.0,307.6 47.0,307.7 53.0,308.2 C59.0,308.6 56.0,308.7 62.0,308.7 C68.0,308.7 65.0,308.6 71.0,308.2 C77.0,307.8 76.7,307.5 80.0,307.4 C83.3,307.3 80.7,307.8 81.0,308.0" fill="none" stroke="#7fb5c8" stroke-width="0.7" transform="translate(0,1.6)" opacity="0.8"/>
<path d="M141.0,308.0 C144.0,308.2 144.0,308.6 150.0,308.7 C156.0,308.8 153.0,308.7 159.0,308.4 C165.0,308.0 162.0,307.8 168.0,307.5 C174.0,307.2 171.0,307.2 177.0,307.4 C183.0,307.6 180.0,307.7 186.0,308.2 C192.0,308.6 189.0,308.7 195.0,308.7 C201.0,308.7 198.0,308.6 204.0,308.2 C210.0,307.8 207.0,307.7 213.0,307.4 C219.0,307.2 216.0,307.2 222.0,307.5 C228.0,307.8 225.0,307.9 231.0,308.3 C237.0,308.7 234.0,308.8 240.0,308.7 C246.0,308.6 243.0,308.5 249.0,308.1 C255.0,307.6 252.0,307.5 258.0,307.3 C264.0,307.2 261.0,307.2 267.0,307.6 C273.0,307.9 270.0,308.1 276.0,308.4 C282.0,308.8 279.0,308.8 285.0,308.7 C291.0,308.5 291.0,308.2 294.0,308.0" fill="none" stroke="#b0dfea" stroke-width="3.0"/>
<path d="M141.0,308.0 C144.0,308.2 144.0,308.6 150.0,308.7 C156.0,308.8 153.0,308.7 159.0,308.4 C165.0,308.0 162.0,307.8 168.0,307.5 C174.0,307.2 171.0,307.2 177.0,307.4 C183.0,307.6 180.0,307.7 186.0,308.2 C192.0,308.6 189.0,308.7 195.0,308.7 C201.0,308.7 198.0,308.6 204.0,308.2 C210.0,307.8 207.0,307.7 213.0,307.4 C219.0,307.2 216.0,307.2 222.0,307.5 C228.0,307.8 225.0,307.9 231.0,308.3 C237.0,308.7 234.0,308.8 240.0,308.7 C246.0,308.6 243.0,308.5 249.0,308.1 C255.0,307.6 252.0,307.5 258.0,307.3 C264.0,307.2 261.0,307.2 267.0,307.6 C273.0,307.9 270.0,308.1 276.0,308.4 C282.0,308.8 279.0,308.8 285.0,308.7 C291.0,308.5 291.0,308.2 294.0,308.0" fill="none" stroke="#7fb5c8" stroke-width="0.7" transform="translate(0,1.6)" opacity="0.8"/>
<path d="M335.0,308.0 C338.0,308.2 338.0,308.6 344.0,308.7 C350.0,308.8 347.0,308.7 353.0,308.4 C359.0,308.0 356.0,307.8 362.0,307.5 C368.0,307.2 365.0,307.2 371.0,307.4 C377.0,307.6 374.0,307.7 380.0,308.2 C386.0,308.6 383.0,308.7 389.0,308.7 C395.0,308.7 392.0,308.6 398.0,308.2 C404.0,307.8 401.0,307.7 407.0,307.4 C413.0,307.2 410.0,307.2 416.0,307.5 C422.0,307.8 419.0,307.9 425.0,308.3 C431.0,308.7 428.0,308.8 434.0,308.7 C440.0,308.6 437.0,308.5 443.0,308.1 C449.0,307.6 446.0,307.5 452.0,307.3 C458.0,307.2 455.0,307.2 461.0,307.6 C467.0,307.9 464.0,308.1 470.0,308.4 C476.0,308.8 473.0,308.8 479.0,308.7 C485.0,308.5 482.0,308.4 488.0,307.9 C494.0,307.5 491.0,307.4 497.0,307.3 C503.0,307.2 500.0,307.3 506.0,307.7 C512.0,308.1 509.0,308.2 515.0,308.5 C521.0,308.8 518.0,308.8 524.0,308.6 C530.0,308.3 527.0,308.2 533.0,307.8 C539.0,307.4 536.0,307.3 542.0,307.3 C548.0,307.3 545.0,307.4 551.0,307.9 C557.0,308.3 554.0,308.4 560.0,308.6 C566.0,308.8 563.0,308.8 569.0,308.5 C575.0,308.2 573.7,307.8 578.0,307.6 C582.3,307.5 580.7,307.9 582.0,308.0" fill="none" stroke="#b0dfea" stroke-width="3.0"/>
<path d="M335.0,308.0 C338.0,308.2 338.0,308.6 344.0,308.7 C350.0,308.8 347.0,308.7 353.0,308.4 C359.0,308.0 356.0,307.8 362.0,307.5 C368.0,307.2 365.0,307.2 371.0,307.4 C377.0,307.6 374.0,307.7 380.0,308.2 C386.0,308.6 383.0,308.7 389.0,308.7 C395.0,308.7 392.0,308.6 398.0,308.2 C404.0,307.8 401.0,307.7 407.0,307.4 C413.0,307.2 410.0,307.2 416.0,307.5 C422.0,307.8 419.0,307.9 425.0,308.3 C431.0,308.7 428.0,308.8 434.0,308.7 C440.0,308.6 437.0,308.5 443.0,308.1 C449.0,307.6 446.0,307.5 452.0,307.3 C458.0,307.2 455.0,307.2 461.0,307.6 C467.0,307.9 464.0,308.1 470.0,308.4 C476.0,308.8 473.0,308.8 479.0,308.7 C485.0,308.5 482.0,308.4 488.0,307.9 C494.0,307.5 491.0,307.4 497.0,307.3 C503.0,307.2 500.0,307.3 506.0,307.7 C512.0,308.1 509.0,308.2 515.0,308.5 C521.0,308.8 518.0,308.8 524.0,308.6 C530.0,308.3 527.0,308.2 533.0,307.8 C539.0,307.4 536.0,307.3 542.0,307.3 C548.0,307.3 545.0,307.4 551.0,307.9 C557.0,308.3 554.0,308.4 560.0,308.6 C566.0,308.8 563.0,308.8 569.0,308.5 C575.0,308.2 573.7,307.8 578.0,307.6 C582.3,307.5 580.7,307.9 582.0,308.0" fill="none" stroke="#7fb5c8" stroke-width="0.7" transform="translate(0,1.6)" opacity="0.8"/>
<path d="M584.0,308.0 C587.0,308.2 587.0,308.6 593.0,308.7 C599.0,308.8 596.0,308.7 602.0,308.4 C608.0,308.0 605.0,307.8 611.0,307.5 C617.0,307.2 614.0,307.2 620.0,307.4 C626.0,307.6 623.0,307.7 629.0,308.2 C635.0,308.6 632.0,308.7 638.0,308.7 C644.0,308.7 641.0,308.6 647.0,308.2 C653.0,307.8 650.0,307.7 656.0,307.4 C662.0,307.2 659.0,307.2 665.0,307.5 C671.0,307.8 668.0,307.9 674.0,308.3 C680.0,308.7 677.0,308.8 683.0,308.7 C689.0,308.6 686.0,308.5 692.0,308.1 C698.0,307.6 695.0,307.5 701.0,307.3 C707.0,307.2 704.0,307.2 710.0,307.6 C716.0,307.9 713.0,308.1 719.0,308.4 C725.0,308.8 722.0,308.8 728.0,308.7 C734.0,308.5 731.3,308.1 737.0,307.9 C742.7,307.7 742.3,308.0 745.0,308.0" fill="none" stroke="#b0dfea" stroke-width="3.0"/>
<path d="M584.0,308.0 C587.0,308.2 587.0,308.6 593.0,308.7 C599.0,308.8 596.0,308.7 602.0,308.4 C608.0,308.0 605.0,307.8 611.0,307.5 C617.0,307.2 614.0,307.2 620.0,307.4 C626.0,307.6 623.0,307.7 629.0,308.2 C635.0,308.6 632.0,308.7 638.0,308.7 C644.0,308.7 641.0,308.6 647.0,308.2 C653.0,307.8 650.0,307.7 656.0,307.4 C662.0,307.2 659.0,307.2 665.0,307.5 C671.0,307.8 668.0,307.9 674.0,308.3 C680.0,308.7 677.0,308.8 683.0,308.7 C689.0,308.6 686.0,308.5 692.0,308.1 C698.0,307.6 695.0,307.5 701.0,307.3 C707.0,307.2 704.0,307.2 710.0,307.6 C716.0,307.9 713.0,308.1 719.0,308.4 C725.0,308.8 722.0,308.8 728.0,308.7 C734.0,308.5 731.3,308.1 737.0,307.9 C742.7,307.7 742.3,308.0 745.0,308.0" fill="none" stroke="#7fb5c8" stroke-width="0.7" transform="translate(0,1.6)" opacity="0.8"/>
<path d="M962.0,308.0 C965.0,308.2 965.0,308.6 971.0,308.7 C977.0,308.8 975.3,308.6 980.0,308.4 C984.7,308.1 983.3,308.1 985.0,308.0" fill="none" stroke="#b0dfea" stroke-width="3.0"/>
<path d="M962.0,308.0 C965.0,308.2 965.0,308.6 971.0,308.7 C977.0,308.8 975.3,308.6 980.0,308.4 C984.7,308.1 983.3,308.1 985.0,308.0" fill="none" stroke="#7fb5c8" stroke-width="0.7" transform="translate(0,1.6)" opacity="0.8"/>
<path d="M49.5,329.5 V341.4 H932.5 V328.8" fill="none" stroke="#000" stroke-width="5.4"/>
<rect x="105.6" y="130" width="7" height="193.5" fill="#000"/>
<path d="M109.7,113 L119.6,131.6 L100.2,131.6Z" fill="#000"/>
<use href="#ly" transform="translate(36,201) scale(0.97)"/>
<use href="#ly" transform="translate(410,170)"/>
<use href="#ly" transform="translate(676,281) rotate(-25)"/>
<use href="#ly" transform="translate(926.6,169.5) rotate(-30) scale(0.98)"/>
<use href="#eo" transform="translate(379,257.5) rotate(10)"/>
<use href="#eo" transform="translate(641,187) rotate(-34) scale(-0.94,0.94)"/>
<use href="#ne" transform="translate(587.5,44)"/>
<use href="#ne" transform="translate(507.5,250.5) rotate(-35)"/>
<use href="#ne" transform="translate(538,422.7)"/>
<use href="#ne" transform="translate(606.5,410) rotate(-45)"/>
<use href="#ne" transform="translate(584.5,480) rotate(54)"/>
<path d="M147.5,272.7 C149.3,269.6 150.2,269.9 153.4,272.7 C156.5,275.5 155.9,277.5 158.0,282.1 C160.2,286.7 157.2,284.1 160.4,288.0 C163.6,291.8 160.5,293.0 168.6,295.0 C176.7,297.0 175.4,295.9 187.3,294.5 C199.3,293.1 196.5,291.2 208.4,290.3 C220.4,289.4 218.4,289.4 227.2,291.5 C236.0,293.6 233.5,293.8 237.7,297.3 C242.0,300.9 238.4,302.2 241.3,303.2 C244.1,304.3 244.3,304.7 247.1,300.9 C249.9,297.0 248.7,294.7 250.6,290.3 C252.6,286.0 250.9,287.5 253.7,286.3 C256.5,285.1 258.4,282.3 260.0,286.3 C261.6,290.3 259.1,291.6 259.1,299.7 C259.1,307.8 258.0,310.8 260.0,313.3 C262.0,315.7 261.6,311.1 265.9,307.9 C270.1,304.7 267.4,304.0 274.1,302.5 C280.7,301.0 283.8,301.1 288.1,302.7 C292.5,304.4 291.3,304.6 288.6,307.9 C285.9,311.2 282.9,309.9 279.2,313.8 C275.6,317.6 275.8,317.6 276.4,320.8 C277.0,323.9 274.8,323.6 281.1,324.3 C287.4,325.0 288.4,324.2 297.5,323.1 C306.6,322.1 303.5,322.3 311.6,320.8 C319.7,319.2 321.2,316.9 324.5,318.0 C327.8,319.0 327.2,321.0 322.6,324.3 C318.0,327.6 318.9,326.5 309.2,329.0 C299.6,331.4 300.2,330.0 290.5,332.5 C280.8,335.0 281.7,333.7 276.9,337.2 C272.1,340.7 273.3,341.1 274.5,344.2 C275.8,347.4 273.5,346.3 281.1,347.7 C288.7,349.1 295.6,347.2 299.8,348.9 C304.1,350.7 301.5,351.1 295.2,353.6 C288.8,356.1 287.9,355.0 278.8,357.1 C269.6,359.2 274.5,358.5 264.7,360.6 C254.8,362.7 257.2,362.4 245.9,364.1 C234.7,365.9 236.0,364.7 227.2,366.5 C218.4,368.2 219.3,367.5 216.6,370.0 C214.0,372.5 220.7,372.9 218.3,374.7 C215.8,376.5 214.2,376.4 208.4,376.1 C202.7,375.7 207.5,374.3 199.1,373.5 C190.6,372.7 190.2,374.6 180.3,373.5 C170.5,372.5 173.6,373.9 166.3,370.0 C158.9,366.1 161.0,366.6 155.7,360.6 C150.4,354.7 151.8,356.3 148.7,350.1 C145.5,343.9 148.3,344.1 145.2,340.0 C142.0,335.9 143.8,337.5 138.1,336.5 C132.5,335.4 130.3,337.7 126.4,336.5 C122.5,335.3 122.4,334.4 125.2,332.5 C128.0,330.6 130.2,333.0 135.8,330.2 C141.4,327.3 141.2,329.5 144.0,323.1 C146.8,316.8 143.0,317.5 145.2,309.1 C147.3,300.6 150.3,302.7 151.0,295.0 C151.7,287.3 148.6,290.0 147.5,283.3 C146.4,276.6 145.7,275.9 147.5,272.7Z" fill="#47addd" stroke="#3596c8" stroke-width="1"/>
<path d="M154.5,318.4 C158.8,309.5 155.2,311.3 165.1,306.3 C174.9,301.2 173.6,303.5 187.3,301.6 C201.1,299.6 197.4,299.9 210.8,299.7 C224.1,299.5 221.0,297.9 231.9,300.9 C242.8,303.8 239.4,303.9 247.1,309.5 C254.8,315.2 249.9,315.9 257.7,319.6 C265.4,323.3 267.4,318.1 272.9,322.0 C278.4,325.8 275.7,325.5 275.9,332.5 C276.2,339.5 277.7,338.2 273.6,345.4 C269.5,352.6 271.7,351.4 262.3,356.4 C253.0,361.4 254.7,359.6 242.4,362.0 C230.1,364.5 234.0,362.6 221.3,364.6 C208.7,366.6 212.5,367.0 200.2,368.6 C187.9,370.2 190.8,371.0 180.3,370.0 C169.8,369.0 172.7,370.4 165.3,365.3 C157.9,360.3 160.0,361.9 155.7,353.1 C151.4,344.3 151.4,346.4 151.0,336.0 C150.7,325.6 150.3,327.4 154.5,318.4Z" fill="url(#gApc)"/>
<path d="M186.2,324.3 C188.6,320.1 188.3,320.4 193.2,320.8 C198.1,321.1 197.3,325.5 202.6,325.5 C207.9,325.5 205.9,321.1 210.8,320.8 C215.7,320.4 216.2,320.1 219.0,324.3 C221.8,328.5 221.9,328.9 220.2,334.8 C218.4,340.8 218.0,342.1 213.1,344.2 C208.2,346.3 208.7,340.8 203.8,341.9 C198.8,342.9 201.3,347.0 196.7,347.7 C192.2,348.4 192.0,348.1 188.5,344.2 C185.0,340.4 185.7,340.8 185.0,334.8 C184.3,328.9 183.7,328.5 186.2,324.3Z" fill="#a08ee6" stroke="#c9c2f2" stroke-width="1"/>
<path d="M218,335 C222,341 213,344 213.5,349" fill="none" stroke="#e6ecfb" stroke-width="1.2"/>
<use href="#pn" transform="translate(179.1,332.3) rotate(-2) scale(0.6)"/>
<use href="#pn" transform="translate(222,318) rotate(24) scale(0.6)"/>
<use href="#pn" transform="translate(205.6,351.3) rotate(-14) scale(0.6)"/>
<use href="#pn" transform="translate(264.7,338.4) rotate(-3) scale(0.6)"/>
<use href="#ly" transform="translate(240,263)"/>
<use href="#eo" transform="translate(767,316)"/>
<use href="#eo" transform="translate(845,322) rotate(45) scale(0.97)"/>
<use href="#eo" transform="translate(797.7,380.5) rotate(74)"/>
<rect x="227.3" y="364" width="8.3" height="64" fill="#0c1f63"/>
<rect x="227.3" y="462" width="8.3" height="64" fill="#0c1f63"/>
<rect x="238.6" y="364" width="8.4" height="64" fill="#0c1f63"/>
<rect x="238.6" y="462" width="8.4" height="64" fill="#0c1f63"/>
<path d="M235.5,427.5 L261.5,463 L208.5,463Z" fill="#6fbfe0" stroke="#4f9cc2" stroke-width="1"/><path d="M235.5,432.5 L256.5,460.8 L215,460.8Z" fill="#9ad8ee"/>
<use href="#ly" transform="translate(235,562) scale(1.365)"/>
<path d="M256.5,7 L307.5,7 L282,43Z" fill="#6fbfe0" stroke="#4f9cc2" stroke-width="1"/><path d="M262.5,9.2 L303,9.2 L282.5,38Z" fill="#9ad8ee"/>
<use href="#pn" transform="translate(283.5,63) rotate(0) scale(1.0)"/>
<path d="M354,89.5 L398,88 L373,132Z" fill="#6fbfe0" stroke="#4f9cc2" stroke-width="1"/><path d="M359.5,91.5 L393,90.5 L373.5,126Z" fill="#9ad8ee"/>
<use href="#pn" transform="translate(338,81) rotate(-56) scale(1.0)"/>
<path d="M277.5,526 L345,479.5" fill="none" stroke="#5f7fbb" stroke-width="1.1" marker-end="url(#ah)"/>
<path d="M286.5,564 L329.5,594" fill="none" stroke="#5f7fbb" stroke-width="1.1" marker-end="url(#ah)"/>
<path d="M256.5,611 L285,640.5" fill="none" stroke="#5f7fbb" stroke-width="1.1" marker-end="url(#ah)"/>
<path d="M427.5,639.5 L764.5,430.5" fill="none" stroke="#5f7fbb" stroke-width="1.1" marker-end="url(#ah)"/>
<path d="M327,701 L654.5,700.5 L790,426" fill="none" stroke="#5f7fbb" stroke-width="1.1" marker-end="url(#ah)"/>
<circle cx="356.6" cy="578" r="8.6" fill="url(#gBlueDot)" stroke="#323e50" stroke-width="1.7"/>
<circle cx="379.2" cy="577.3" r="8.6" fill="url(#gBlueDot)" stroke="#323e50" stroke-width="1.7"/>
<circle cx="343.8" cy="608.3" r="8.6" fill="url(#gBlueDot)" stroke="#323e50" stroke-width="1.7"/>
<circle cx="381.5" cy="609.4" r="8.6" fill="url(#gBlueDot)" stroke="#323e50" stroke-width="1.7"/>
<circle cx="407.8" cy="628" r="8.6" fill="url(#gBlueDot)" stroke="#323e50" stroke-width="1.7"/>
<circle cx="363.5" cy="635.2" r="8.6" fill="url(#gBlueDot)" stroke="#323e50" stroke-width="1.7"/>
<circle cx="398.3" cy="654.3" r="8.6" fill="url(#gBlueDot)" stroke="#323e50" stroke-width="1.7"/>
<circle cx="374.5" cy="664.9" r="8.6" fill="url(#gBlueDot)" stroke="#323e50" stroke-width="1.7"/>
<circle cx="300.6" cy="660.4" r="8.6" fill="url(#gRedDot)" stroke="#641c1e" stroke-width="1.7"/>
<circle cx="270.3" cy="670.5" r="8.6" fill="url(#gRedDot)" stroke="#641c1e" stroke-width="1.7"/>
<circle cx="293.2" cy="681.3" r="8.6" fill="url(#gRedDot)" stroke="#641c1e" stroke-width="1.7"/>
<circle cx="265.8" cy="700.4" r="8.6" fill="url(#gRedDot)" stroke="#641c1e" stroke-width="1.7"/>
<circle cx="289.2" cy="712.7" r="8.6" fill="url(#gRedDot)" stroke="#641c1e" stroke-width="1.7"/>
<text x="59.5" y="71.7" font-size="17" text-anchor="start" fill="#161616" stroke="#161616" stroke-width="0.3" font-weight="normal" textLength="120" lengthAdjust="spacingAndGlyphs">Gastrointestinal</text>
<text x="79.8" y="93.9" font-size="17" text-anchor="start" fill="#161616" stroke="#161616" stroke-width="0.3" font-weight="normal" textLength="80.2" lengthAdjust="spacingAndGlyphs">Symptoms</text>
<text x="312" y="58" font-size="17" text-anchor="start" fill="#161616" stroke="#161616" stroke-width="0.3" font-weight="normal" textLength="97" lengthAdjust="spacingAndGlyphs">Food protein</text>
<text x="335.5" y="332" font-size="17" text-anchor="start" fill="#161616" stroke="#161616" stroke-width="0.3" font-weight="normal" textLength="383" lengthAdjust="spacingAndGlyphs">Inflammation and increased permeability of colon</text>
<text x="422" y="360.7" font-size="17" text-anchor="start" fill="#161616" stroke="#161616" stroke-width="0.3" font-weight="normal" textLength="123.7" lengthAdjust="spacingAndGlyphs">Decreased TGFB</text>
<text x="257" y="405.8" font-size="17" text-anchor="start" fill="#161616" stroke="#161616" stroke-width="0.3" font-weight="normal" textLength="30.5" lengthAdjust="spacingAndGlyphs">APC</text>
<text x="377.1" y="453.4" font-size="17" text-anchor="start" fill="#161616" stroke="#161616" stroke-width="0.3" font-weight="normal" textLength="38.1" lengthAdjust="spacingAndGlyphs">IFN Y</text>
<path d="M363.1,455.6 V440.6 M357.2,447 L363.1,440.4 L369.3,447" fill="none" stroke="#161616" stroke-width="1.8"/>
<text x="377.6" y="475.7" font-size="17" text-anchor="start" fill="#161616" stroke="#161616" stroke-width="0.3" font-weight="normal" textLength="43.4" lengthAdjust="spacingAndGlyphs">TNF α</text>
<path d="M363.1,478 V463 M357.2,469.4 L363.1,462.8 L369.3,469.4" fill="none" stroke="#161616" stroke-width="1.8"/>
<text x="355.6" y="498.8" font-size="17" text-anchor="start" fill="#161616" stroke="#161616" stroke-width="0.3" font-weight="normal" textLength="26.9" lengthAdjust="spacingAndGlyphs">IL-8</text>
<text x="393.4" y="591.7" font-size="17" text-anchor="start" fill="#161616" stroke="#161616" stroke-width="0.3" font-weight="normal" textLength="25.7" lengthAdjust="spacingAndGlyphs">IL-4</text>
<text x="212.8" y="714.6" font-size="17" text-anchor="start" fill="#161616" stroke="#161616" stroke-width="0.3" font-weight="normal" textLength="38.2" lengthAdjust="spacingAndGlyphs">INF-γ</text>
<text x="76.8" y="540.6" font-size="17" text-anchor="start" fill="#161616" stroke="#161616" stroke-width="0.3" font-weight="normal" textLength="38.6" lengthAdjust="spacingAndGlyphs">T cell</text>
<text x="76.8" y="563" font-size="17" text-anchor="start" fill="#161616" stroke="#161616" stroke-width="0.3" font-weight="normal" textLength="89.1" lengthAdjust="spacingAndGlyphs">lymphocyte</text>
<text x="466.4" y="503.2" font-size="17" text-anchor="start" fill="#161616" stroke="#161616" stroke-width="0.3" font-weight="normal" textLength="80.6" lengthAdjust="spacingAndGlyphs">Neutrophil</text>
<text x="466.4" y="524.8" font-size="17" text-anchor="start" fill="#161616" stroke="#161616" stroke-width="0.3" font-weight="normal" textLength="92.9" lengthAdjust="spacingAndGlyphs">Proliferation</text>
<text x="853" y="386" font-size="17" text-anchor="start" fill="#161616" stroke="#161616" stroke-width="0.3" font-weight="normal" textLength="78" lengthAdjust="spacingAndGlyphs">Eosinophil</text>
<text x="853" y="407.8" font-size="17" text-anchor="start" fill="#161616" stroke="#161616" stroke-width="0.3" font-weight="normal" textLength="94" lengthAdjust="spacingAndGlyphs">proliferation</text>
<text x="75.7" y="752.2" font-size="17" text-anchor="start" fill="#d8262e" stroke="#d8262e" stroke-width="0.3" font-weight="normal" textLength="119.6" lengthAdjust="spacingAndGlyphs">Mechanism still</text>
<text x="66" y="774.3" font-size="17" text-anchor="start" fill="#d8262e" stroke="#d8262e" stroke-width="0.3" font-weight="normal" textLength="138" lengthAdjust="spacingAndGlyphs">being investigated</text>
<rect x="51.3" y="731.5" width="170.6" height="53.8" fill="none" stroke="#cf4650" stroke-width="1.3"/>
<text transform="translate(116.2,183.9) rotate(90)" font-size="17" fill="#161616" stroke="#161616" stroke-width="0.3" textLength="75.6" lengthAdjust="spacingAndGlyphs">Fluid Shift</text>
<text transform="translate(983.2,30.4) rotate(90)" font-size="17.2" font-weight="bold" fill="#161616" stroke="#161616" stroke-width="0.4" textLength="51.8" lengthAdjust="spacingAndGlyphs">Lumen</text>
<text transform="translate(42.8,592.8) rotate(-90)" font-size="17.2" font-weight="bold" fill="#161616" stroke="#161616" stroke-width="0.4" textLength="93.6" lengthAdjust="spacingAndGlyphs">Intracellular</text>
<path d="M730.5,816 V613.3 H1017.9 V816 M826,613.3 V816 M730.5,673.3 H1017.9 M730.5,741.5 H1017.9" fill="none" stroke="#2a2a2a" stroke-width="1.3"/>
<text x="740.1" y="640.2" font-size="21.2" text-anchor="start" fill="#161616" stroke="#161616" stroke-width="0.45" font-weight="normal" textLength="15.3" lengthAdjust="spacingAndGlyphs">IL</text>
<text x="834.8" y="640.2" font-size="21.2" text-anchor="start" fill="#161616" stroke="#161616" stroke-width="0.45" font-weight="normal" textLength="108.4" lengthAdjust="spacingAndGlyphs">Interleukin</text>
<text x="740.1" y="700.2" font-size="21.2" text-anchor="start" fill="#161616" stroke="#161616" stroke-width="0.45" font-weight="normal" textLength="48.9" lengthAdjust="spacingAndGlyphs">IFN Y</text>
<text x="834.8" y="700.2" font-size="21.2" text-anchor="start" fill="#161616" stroke="#161616" stroke-width="0.45" font-weight="normal" textLength="100.7" lengthAdjust="spacingAndGlyphs">Interferon</text>
<text x="834.8" y="729.5" font-size="21.2" text-anchor="start" fill="#161616" stroke="#161616" stroke-width="0.45" font-weight="normal" textLength="73.2" lengthAdjust="spacingAndGlyphs">gamma</text>
<text x="740.1" y="767.6" font-size="21.2" text-anchor="start" fill="#161616" stroke="#161616" stroke-width="0.45" font-weight="normal" textLength="52.8" lengthAdjust="spacingAndGlyphs">TNFα</text>
<text x="834.8" y="767.6" font-size="21.2" text-anchor="start" fill="#161616" stroke="#161616" stroke-width="0.45" font-weight="normal" textLength="153.5" lengthAdjust="spacingAndGlyphs">Tumor necrosis</text>
<text x="834.8" y="798.4" font-size="21.2" text-anchor="start" fill="#161616" stroke="#161616" stroke-width="0.45" font-weight="normal" textLength="119.8" lengthAdjust="spacingAndGlyphs">factor alpha</text>
</svg>
</body></html>
